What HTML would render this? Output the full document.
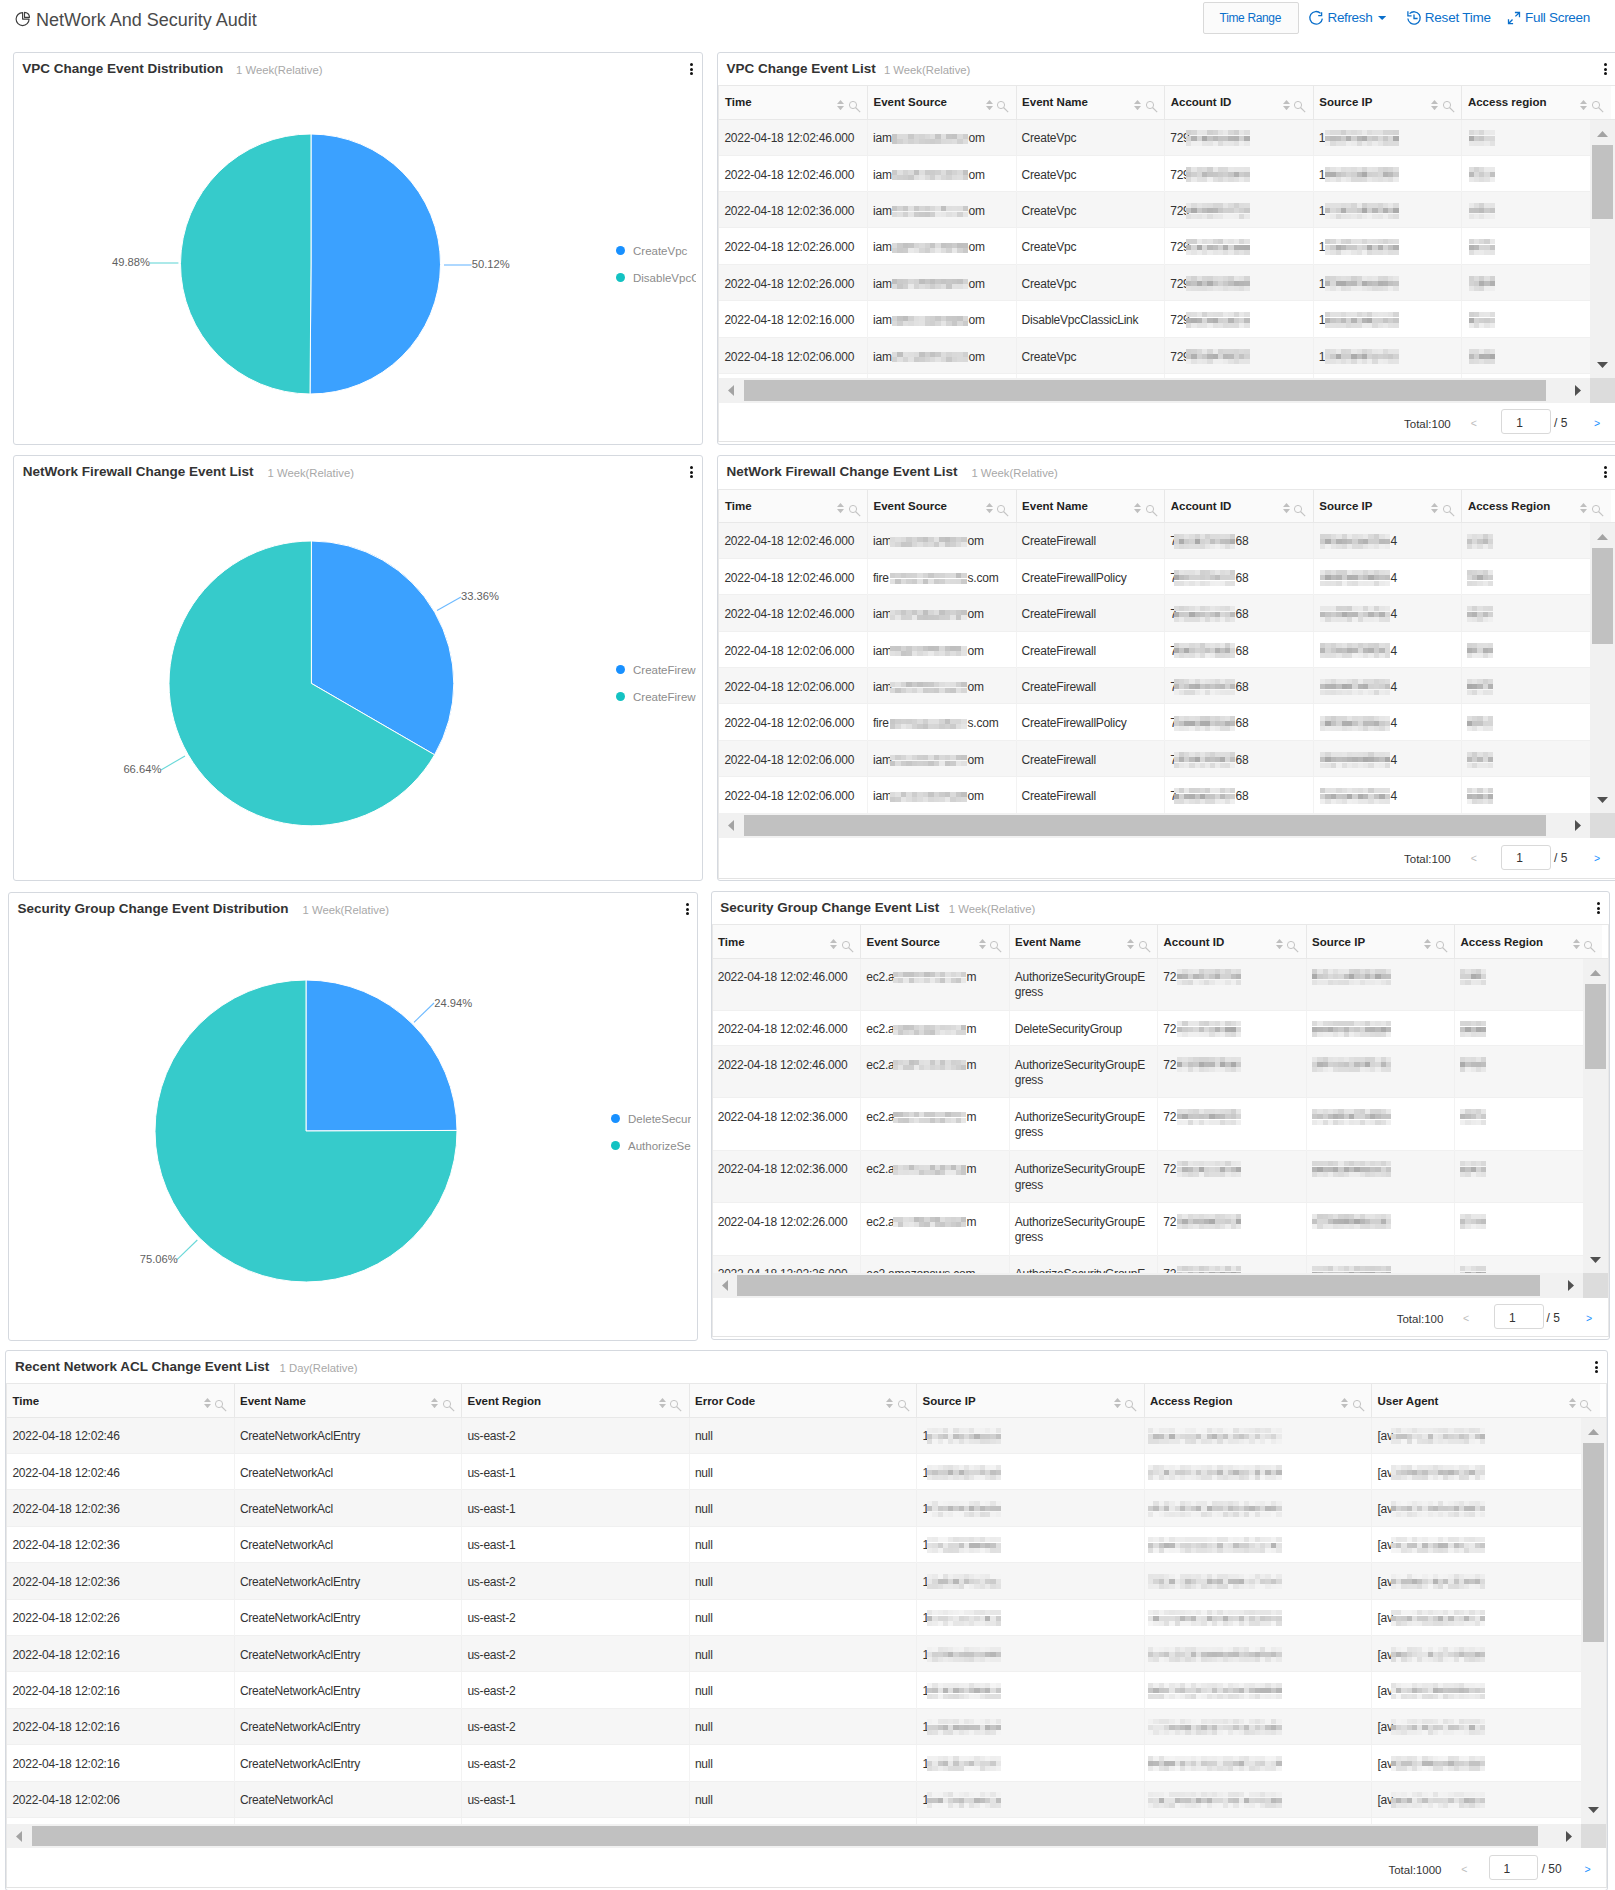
<!DOCTYPE html>
<html><head><meta charset="utf-8"><title>NetWork And Security Audit</title>
<style>
html,body{margin:0;padding:0;background:#fff}
body{width:1615px;height:1890px;overflow:hidden;position:relative;font-family:"Liberation Sans",sans-serif}
body div,body span,body svg{position:absolute}
span{white-space:nowrap}
.clip{overflow:hidden}
</style></head><body>
<svg style="left:12px;top:8px" width="22" height="22" viewBox="0 0 22 22"><path d="M10.6 4.6 L10.6 11.1 L17.1 11.1 A6.5 6.5 0 1 1 10.6 4.6 Z" fill="none" stroke="#3c3c3c" stroke-width="1.15" stroke-linejoin="round"/><path d="M12.5 4.3 L12.5 9.3 L17.5 9.3 A5 5 0 0 0 12.5 4.3 Z" fill="none" stroke="#3c3c3c" stroke-width="1.15" stroke-linejoin="round"/></svg>
<span style="left:36px;top:10px;font-size:18px;line-height:20px;color:#4a4a4a;">NetWork And Security Audit</span>
<div style="left:1203px;top:2px;width:96px;height:32px;border:1px solid #d9d9d9;border-radius:2px;background:#fbfbfb;box-sizing:border-box"></div>
<span style="left:1219.6px;top:8.3px;font-size:12px;line-height:20px;color:#0a6fcb;letter-spacing:-0.35px;">Time Range</span>
<svg style="left:1304px;top:6px" width="24" height="24" viewBox="0 0 24 24"><path d="M16.6 7.4 A6.3 6.3 0 1 0 18.35 12.6" fill="none" stroke="#0a6fcb" stroke-width="1.3"/><path d="M17.6 6.2 L17.6 9.7 L14.2 9.7" fill="none" stroke="#0a6fcb" stroke-width="1.3"/></svg>
<span style="left:1327.5px;top:7.8px;font-size:13.5px;line-height:20px;color:#0a6fcb;letter-spacing:-0.35px;">Refresh</span>
<svg style="left:1377.7px;top:15.9px" width="8.3" height="4"><polygon points="0,0 8.3,0 4.15,4" fill="#0a6fcb"/></svg>
<svg style="left:1402px;top:6px" width="24" height="24" viewBox="0 0 24 24"><path d="M5.85 12.55 A6.2 6.2 0 1 0 7.6 7.6" fill="none" stroke="#0a6fcb" stroke-width="1.3"/><path d="M5.9 5.3 L5.9 9.8 L9.6 9.8" fill="none" stroke="#0a6fcb" stroke-width="1.3"/><path d="M12 8.6 L12 12.5 L15.6 12.5" fill="none" stroke="#0a6fcb" stroke-width="1.3"/></svg>
<span style="left:1424.8px;top:8px;font-size:13.5px;line-height:20px;color:#0a6fcb;letter-spacing:-0.22px;">Reset Time</span>
<svg style="left:1502px;top:6px" width="24" height="24" viewBox="0 0 24 24"><path d="M12.9 6.5 L17.5 6.5 L17.5 11.3 M17.3 6.7 L13.4 10.4 M6.5 13.2 L6.5 17.7 L11.1 17.7 M6.7 17.5 L10.5 13.5" fill="none" stroke="#0a6fcb" stroke-width="1.3"/></svg>
<span style="left:1525px;top:8px;font-size:13.5px;line-height:20px;color:#0a6fcb;letter-spacing:-0.3px;">Full Screen</span>
<div style="left:13px;top:52px;width:690px;height:393px;border:1px solid #d5d9df;border-radius:3px;background:#fff;box-sizing:border-box"></div>
<span style="left:22.3px;top:59px;font-size:13.5px;line-height:20px;color:#333;font-weight:700;">VPC Change Event Distribution</span>
<span style="left:236px;top:60px;font-size:11.3px;line-height:20px;color:#a8a8a8;">1 Week(Relative)</span>
<div style="left:690.2px;top:63px;width:3px;height:3px;background:#111;border-radius:50%"></div>
<div style="left:690.2px;top:67.5px;width:3px;height:3px;background:#111;border-radius:50%"></div>
<div style="left:690.2px;top:72px;width:3px;height:3px;background:#111;border-radius:50%"></div>
<svg style="left:178.75px;top:131.9px" width="264" height="264"><path d="M132 132 L132 2 A130 130 0 1 1 131.02 262 Z" fill="#3ba1ff" stroke="#fff" stroke-width="1"/><path d="M132 132 L131.02 262 A130 130 0 0 1 132 2 Z" fill="#36cbcb" stroke="#fff" stroke-width="1"/></svg>
<svg style="left:147.6px;top:261.4px" width="32.4" height="4"><line x1="2" y1="2" x2="30.4" y2="2" stroke="#36cbcb" stroke-width="1.1" stroke-opacity="0.75"/></svg>
<span style="left:112px;top:252.4px;font-size:11.2px;line-height:20px;color:#5f5f5f;">49.88%</span>
<svg style="left:441.9px;top:262.6px" width="31.6" height="4"><line x1="2" y1="2" x2="29.6" y2="2" stroke="#3ba1ff" stroke-width="1.1" stroke-opacity="0.75"/></svg>
<span style="left:471.8px;top:253.6px;font-size:11.2px;line-height:20px;color:#5f5f5f;">50.12%</span>
<div style="left:616px;top:246px;width:9px;height:9px;background:#1890ff;border-radius:50%"></div>
<div style="left:616px;top:273px;width:9px;height:9px;background:#13c2c2;border-radius:50%"></div>
<div class="clip" style="left:630.5px;top:236.5px;width:65.5px;height:60px">
<span style="left:2.5px;top:4.3px;font-size:11.5px;line-height:20px;color:#8c8c8c;">CreateVpc</span>
<span style="left:2.5px;top:31.3px;font-size:11.5px;line-height:20px;color:#8c8c8c;">DisableVpcClassicLink</span>
</div>
<div style="left:13px;top:455px;width:690px;height:426px;border:1px solid #d5d9df;border-radius:3px;background:#fff;box-sizing:border-box"></div>
<span style="left:22.7px;top:462.2px;font-size:13.5px;line-height:20px;color:#333;font-weight:700;">NetWork Firewall Change Event List</span>
<span style="left:267.5px;top:463.2px;font-size:11.3px;line-height:20px;color:#a8a8a8;">1 Week(Relative)</span>
<div style="left:690.2px;top:466px;width:3px;height:3px;background:#111;border-radius:50%"></div>
<div style="left:690.2px;top:470.5px;width:3px;height:3px;background:#111;border-radius:50%"></div>
<div style="left:690.2px;top:475px;width:3px;height:3px;background:#111;border-radius:50%"></div>
<svg style="left:166.6px;top:538.9px" width="288.8" height="288.8"><path d="M144.4 144.4 L144.4 2 A142.4 142.4 0 0 1 267.6 215.81 Z" fill="#3ba1ff" stroke="#fff" stroke-width="1"/><path d="M144.4 144.4 L267.6 215.81 A142.4 142.4 0 1 1 144.4 2 Z" fill="#36cbcb" stroke="#fff" stroke-width="1"/></svg>
<svg style="left:434.7px;top:594.9px" width="28" height="17.6"><line x1="2" y1="15.6" x2="26" y2="2" stroke="#3ba1ff" stroke-width="1.1" stroke-opacity="0.75"/></svg>
<span style="left:461px;top:585.9px;font-size:11.2px;line-height:20px;color:#5f5f5f;">33.36%</span>
<svg style="left:158.8px;top:753.9px" width="28" height="17.9"><line x1="26" y1="2" x2="2" y2="15.9" stroke="#36cbcb" stroke-width="1.1" stroke-opacity="0.75"/></svg>
<span style="left:123.4px;top:758.8px;font-size:11.2px;line-height:20px;color:#5f5f5f;">66.64%</span>
<div style="left:616px;top:664.9px;width:9px;height:9px;background:#1890ff;border-radius:50%"></div>
<div style="left:616px;top:691.9px;width:9px;height:9px;background:#13c2c2;border-radius:50%"></div>
<div class="clip" style="left:630.5px;top:655.4px;width:65.5px;height:60px">
<span style="left:2.5px;top:4.3px;font-size:11.5px;line-height:20px;color:#8c8c8c;">CreateFirewall</span>
<span style="left:2.5px;top:31.3px;font-size:11.5px;line-height:20px;color:#8c8c8c;">CreateFirewallPolicy</span>
</div>
<div style="left:8px;top:892px;width:690px;height:449px;border:1px solid #d5d9df;border-radius:3px;background:#fff;box-sizing:border-box"></div>
<span style="left:17.6px;top:899.3px;font-size:13.5px;line-height:20px;color:#333;font-weight:700;">Security Group Change Event Distribution</span>
<span style="left:302.5px;top:900.3px;font-size:11.3px;line-height:20px;color:#a8a8a8;">1 Week(Relative)</span>
<div style="left:685.5px;top:903px;width:3px;height:3px;background:#111;border-radius:50%"></div>
<div style="left:685.5px;top:907.5px;width:3px;height:3px;background:#111;border-radius:50%"></div>
<div style="left:685.5px;top:912px;width:3px;height:3px;background:#111;border-radius:50%"></div>
<svg style="left:152.9px;top:978.2px" width="306" height="306"><path d="M153 153 L153 2 A151 151 0 0 1 304 152.43 Z" fill="#3ba1ff" stroke="#fff" stroke-width="1"/><path d="M153 153 L304 152.43 A151 151 0 1 1 153 2 Z" fill="#36cbcb" stroke="#fff" stroke-width="1"/></svg>
<svg style="left:412.2px;top:1001.1px" width="24" height="23.3"><line x1="2" y1="21.3" x2="22" y2="2" stroke="#3ba1ff" stroke-width="1.1" stroke-opacity="0.75"/></svg>
<span style="left:434.2px;top:992.8px;font-size:11.2px;line-height:20px;color:#5f5f5f;">24.94%</span>
<svg style="left:175.3px;top:1238.2px" width="24.3" height="23.6"><line x1="22.3" y1="2" x2="2" y2="21.6" stroke="#36cbcb" stroke-width="1.1" stroke-opacity="0.75"/></svg>
<span style="left:139.7px;top:1248.7px;font-size:11.2px;line-height:20px;color:#5f5f5f;">75.06%</span>
<div style="left:611px;top:1114px;width:9px;height:9px;background:#1890ff;border-radius:50%"></div>
<div style="left:611px;top:1141px;width:9px;height:9px;background:#13c2c2;border-radius:50%"></div>
<div class="clip" style="left:625.5px;top:1104.5px;width:65.5px;height:60px">
<span style="left:2.5px;top:4.3px;font-size:11.5px;line-height:20px;color:#8c8c8c;">DeleteSecurityGroup</span>
<span style="left:2.5px;top:31.3px;font-size:11.5px;line-height:20px;color:#8c8c8c;">AuthorizeSecurityGroupEgress</span>
</div>
<div style="left:717px;top:52px;width:901px;height:393px;border:1px solid #d5d9df;border-radius:3px;background:#fff;box-sizing:border-box"></div>
<span style="left:726.4px;top:59.2px;font-size:13.5px;line-height:20px;color:#333;font-weight:700;">VPC Change Event List</span>
<span style="left:883.9px;top:60.2px;font-size:11.3px;line-height:20px;color:#a8a8a8;">1 Week(Relative)</span>
<div style="left:1604px;top:63px;width:3px;height:3px;background:#111;border-radius:50%"></div>
<div style="left:1604px;top:67.5px;width:3px;height:3px;background:#111;border-radius:50%"></div>
<div style="left:1604px;top:72px;width:3px;height:3px;background:#111;border-radius:50%"></div>
<div style="left:718px;top:85px;width:898px;height:357px;border:1px solid #e8e8e8;border-bottom-color:#e3e3e3;box-sizing:border-box;background:#fff"></div>
<div style="left:719px;top:86px;width:892px;height:33px;background:#fafafa"></div>
<div style="left:719px;top:119px;width:896px;height:1px;background:#e8e8e8"></div>
<div style="left:867px;top:86px;width:1px;height:33px;background:#e8e8e8"></div>
<div style="left:1015.6px;top:86px;width:1px;height:33px;background:#e8e8e8"></div>
<div style="left:1164.2px;top:86px;width:1px;height:33px;background:#e8e8e8"></div>
<div style="left:1312.8px;top:86px;width:1px;height:33px;background:#e8e8e8"></div>
<div style="left:1461.4px;top:86px;width:1px;height:33px;background:#e8e8e8"></div>
<span style="left:724.9px;top:92.4px;font-size:11.5px;line-height:20px;color:#222;font-weight:700;">Time</span>
<svg style="left:837px;top:99.5px" width="7" height="4"><polygon points="3.5,0 7,4 0,4" fill="#bfbfbf"/></svg>
<svg style="left:837px;top:105.9px" width="7" height="4.2"><polygon points="0,0 7,0 3.5,4.2" fill="#bfbfbf"/></svg>
<svg style="left:847.5px;top:100.3px" width="14" height="14" viewBox="0 0 14 14"><circle cx="5" cy="5" r="3.6" fill="none" stroke="#c4c4c4" stroke-width="1"/><line x1="7.5" y1="7.5" x2="12.2" y2="12.2" stroke="#c4c4c4" stroke-width="1.1"/></svg>
<span style="left:873.5px;top:92.4px;font-size:11.5px;line-height:20px;color:#222;font-weight:700;">Event Source</span>
<svg style="left:985.6px;top:99.5px" width="7" height="4"><polygon points="3.5,0 7,4 0,4" fill="#bfbfbf"/></svg>
<svg style="left:985.6px;top:105.9px" width="7" height="4.2"><polygon points="0,0 7,0 3.5,4.2" fill="#bfbfbf"/></svg>
<svg style="left:996.1px;top:100.3px" width="14" height="14" viewBox="0 0 14 14"><circle cx="5" cy="5" r="3.6" fill="none" stroke="#c4c4c4" stroke-width="1"/><line x1="7.5" y1="7.5" x2="12.2" y2="12.2" stroke="#c4c4c4" stroke-width="1.1"/></svg>
<span style="left:1022.1px;top:92.4px;font-size:11.5px;line-height:20px;color:#222;font-weight:700;">Event Name</span>
<svg style="left:1134.2px;top:99.5px" width="7" height="4"><polygon points="3.5,0 7,4 0,4" fill="#bfbfbf"/></svg>
<svg style="left:1134.2px;top:105.9px" width="7" height="4.2"><polygon points="0,0 7,0 3.5,4.2" fill="#bfbfbf"/></svg>
<svg style="left:1144.7px;top:100.3px" width="14" height="14" viewBox="0 0 14 14"><circle cx="5" cy="5" r="3.6" fill="none" stroke="#c4c4c4" stroke-width="1"/><line x1="7.5" y1="7.5" x2="12.2" y2="12.2" stroke="#c4c4c4" stroke-width="1.1"/></svg>
<span style="left:1170.7px;top:92.4px;font-size:11.5px;line-height:20px;color:#222;font-weight:700;">Account ID</span>
<svg style="left:1282.8px;top:99.5px" width="7" height="4"><polygon points="3.5,0 7,4 0,4" fill="#bfbfbf"/></svg>
<svg style="left:1282.8px;top:105.9px" width="7" height="4.2"><polygon points="0,0 7,0 3.5,4.2" fill="#bfbfbf"/></svg>
<svg style="left:1293.3px;top:100.3px" width="14" height="14" viewBox="0 0 14 14"><circle cx="5" cy="5" r="3.6" fill="none" stroke="#c4c4c4" stroke-width="1"/><line x1="7.5" y1="7.5" x2="12.2" y2="12.2" stroke="#c4c4c4" stroke-width="1.1"/></svg>
<span style="left:1319.3px;top:92.4px;font-size:11.5px;line-height:20px;color:#222;font-weight:700;">Source IP</span>
<svg style="left:1431.4px;top:99.5px" width="7" height="4"><polygon points="3.5,0 7,4 0,4" fill="#bfbfbf"/></svg>
<svg style="left:1431.4px;top:105.9px" width="7" height="4.2"><polygon points="0,0 7,0 3.5,4.2" fill="#bfbfbf"/></svg>
<svg style="left:1441.9px;top:100.3px" width="14" height="14" viewBox="0 0 14 14"><circle cx="5" cy="5" r="3.6" fill="none" stroke="#c4c4c4" stroke-width="1"/><line x1="7.5" y1="7.5" x2="12.2" y2="12.2" stroke="#c4c4c4" stroke-width="1.1"/></svg>
<span style="left:1467.9px;top:92.4px;font-size:11.5px;line-height:20px;color:#222;font-weight:700;">Access region</span>
<svg style="left:1580px;top:99.5px" width="7" height="4"><polygon points="3.5,0 7,4 0,4" fill="#bfbfbf"/></svg>
<svg style="left:1580px;top:105.9px" width="7" height="4.2"><polygon points="0,0 7,0 3.5,4.2" fill="#bfbfbf"/></svg>
<svg style="left:1590.5px;top:100.3px" width="14" height="14" viewBox="0 0 14 14"><circle cx="5" cy="5" r="3.6" fill="none" stroke="#c4c4c4" stroke-width="1"/><line x1="7.5" y1="7.5" x2="12.2" y2="12.2" stroke="#c4c4c4" stroke-width="1.1"/></svg>
<div class="clip" style="left:719px;top:120px;width:896px;height:258.3px">
<div style="left:0px;top:-0.8px;width:897px;height:36.4px;background:#f6f6f6"></div>
<div style="left:0px;top:34.6px;width:897px;height:1px;background:#f0f0f0"></div>
<div style="left:148px;top:-0.8px;width:1px;height:36.4px;background:#f0f0f0"></div>
<div style="left:296.6px;top:-0.8px;width:1px;height:36.4px;background:#f0f0f0"></div>
<div style="left:445.2px;top:-0.8px;width:1px;height:36.4px;background:#f0f0f0"></div>
<div style="left:593.8px;top:-0.8px;width:1px;height:36.4px;background:#f0f0f0"></div>
<div style="left:742.4px;top:-0.8px;width:1px;height:36.4px;background:#f0f0f0"></div>
<span style="left:5.4px;top:8.2px;font-size:12px;line-height:20px;color:#333;letter-spacing:-0.22px;">2022-04-18 12:02:46.000</span>
<span style="left:154px;top:8.2px;font-size:12px;line-height:20px;color:#333;letter-spacing:-0.22px;">iam</span>
<div style="left:172.9px;top:13.6px;width:76.1px;height:10.6px;background:linear-gradient(90deg,#c7c7c7 0px 5.44px,#dbdbdb 5.44px 10.87px,#dbdbdb 10.87px 16.31px,#c9c9c9 16.31px 21.74px,#d7d7d7 21.74px 27.18px,#d4d4d4 27.18px 32.61px,#d9d9d9 32.61px 38.05px,#dedede 38.05px 43.49px,#c5c5c5 43.49px 48.92px,#e0e0e0 48.92px 54.36px,#c5c5c5 54.36px 59.79px,#c3c3c3 59.79px 65.23px,#dbdbdb 65.23px 70.66px,#cecece 70.66px 76.1px),linear-gradient(90deg,#c7c7c7 0px 5.44px,#d1d1d1 5.44px 10.87px,#d9d9d9 10.87px 16.31px,#d2d2d2 16.31px 21.74px,#d7d7d7 21.74px 27.18px,#d1d1d1 27.18px 32.61px,#cfcfcf 32.61px 38.05px,#cdcdcd 38.05px 43.49px,#d0d0d0 43.49px 48.92px,#dadada 48.92px 54.36px,#dbdbdb 54.36px 59.79px,#dedede 59.79px 65.23px,#d1d1d1 65.23px 70.66px,#dddddd 70.66px 76.1px);background-position:0 0px,0 5.3px;background-size:100% 5.3px,100% 5.3px;background-repeat:no-repeat"></div>
<span style="left:249.5px;top:8.2px;font-size:12px;line-height:20px;color:#333;letter-spacing:-0.22px;">om</span>
<span style="left:302.6px;top:8.2px;font-size:12px;line-height:20px;color:#333;letter-spacing:-0.22px;">CreateVpc</span>
<span style="left:451.2px;top:8.2px;font-size:12px;line-height:20px;color:#333;letter-spacing:-0.22px;">729</span>
<div style="left:467.3px;top:10.25px;width:63.7px;height:15.9px;background:linear-gradient(90deg,#d1d1d1 0px 5.31px,#d6d6d6 5.31px 10.62px,#e7e7e7 10.62px 15.93px,#e6e6e6 15.93px 21.23px,#d0d0d0 21.23px 26.54px,#d4d4d4 26.54px 31.85px,#e3e3e3 31.85px 37.16px,#e9e9e9 37.16px 42.47px,#d8d8d8 42.47px 47.78px,#d0d0d0 47.78px 53.08px,#e6e6e6 53.08px 58.39px,#dedede 58.39px 63.7px),linear-gradient(90deg,#d5d5d5 0px 5.31px,#b2b2b2 5.31px 10.62px,#d5d5d5 10.62px 15.93px,#a9a9a9 15.93px 21.23px,#c4c4c4 21.23px 26.54px,#b9b9b9 26.54px 31.85px,#c4c4c4 31.85px 37.16px,#c5c5c5 37.16px 42.47px,#b6b6b6 42.47px 47.78px,#b4b4b4 47.78px 53.08px,#d1d1d1 53.08px 58.39px,#afafaf 58.39px 63.7px),linear-gradient(90deg,#e3e3e3 0px 5.31px,#f0f0f0 5.31px 10.62px,#f0f0f0 10.62px 15.93px,#e6e6e6 15.93px 21.23px,#e5e5e5 21.23px 26.54px,#eeeeee 26.54px 31.85px,#dddddd 31.85px 37.16px,#e8e8e8 37.16px 42.47px,#e7e7e7 42.47px 47.78px,#e1e1e1 47.78px 53.08px,#efefef 53.08px 58.39px,#e9e9e9 58.39px 63.7px);background-position:0 0px,0 5.3px,0 10.6px;background-size:100% 5.3px,100% 5.3px,100% 5.3px;background-repeat:no-repeat"></div>
<span style="left:599.8px;top:8.2px;font-size:12px;line-height:20px;color:#333;letter-spacing:-0.22px;">1</span>
<div style="left:606.3px;top:10.25px;width:73.7px;height:15.9px;background:linear-gradient(90deg,#e3e3e3 0px 5.26px,#dbdbdb 5.26px 10.53px,#dbdbdb 10.53px 15.79px,#d0d0d0 15.79px 21.06px,#dfdfdf 21.06px 26.32px,#dbdbdb 26.32px 31.59px,#e0e0e0 31.59px 36.85px,#eaeaea 36.85px 42.11px,#dddddd 42.11px 47.38px,#e2e2e2 47.38px 52.64px,#e2e2e2 52.64px 57.91px,#d5d5d5 57.91px 63.17px,#d5d5d5 63.17px 68.44px,#d3d3d3 68.44px 73.7px),linear-gradient(90deg,#c3c3c3 0px 5.26px,#bdbdbd 5.26px 10.53px,#bfbfbf 10.53px 15.79px,#cccccc 15.79px 21.06px,#b0b0b0 21.06px 26.32px,#d0d0d0 26.32px 31.59px,#b7b7b7 31.59px 36.85px,#aeaeae 36.85px 42.11px,#cecece 42.11px 47.38px,#c8c8c8 47.38px 52.64px,#d9d9d9 52.64px 57.91px,#c8c8c8 57.91px 63.17px,#d9d9d9 63.17px 68.44px,#ababab 68.44px 73.7px),linear-gradient(90deg,#f0f0f0 0px 5.26px,#dcdcdc 5.26px 10.53px,#e3e3e3 10.53px 15.79px,#e3e3e3 15.79px 21.06px,#eeeeee 21.06px 26.32px,#ebebeb 26.32px 31.59px,#dcdcdc 31.59px 36.85px,#eaeaea 36.85px 42.11px,#e2e2e2 42.11px 47.38px,#ececec 47.38px 52.64px,#e5e5e5 52.64px 57.91px,#dadada 57.91px 63.17px,#dcdcdc 63.17px 68.44px,#dcdcdc 68.44px 73.7px);background-position:0 0px,0 5.3px,0 10.6px;background-size:100% 5.3px,100% 5.3px,100% 5.3px;background-repeat:no-repeat"></div>
<div style="left:750px;top:10.25px;width:25.7px;height:15.9px;background:linear-gradient(90deg,#d9d9d9 0px 5.14px,#e1e1e1 5.14px 10.28px,#d8d8d8 10.28px 15.42px,#e9e9e9 15.42px 20.56px,#eaeaea 20.56px 25.7px),linear-gradient(90deg,#adadad 0px 5.14px,#cccccc 5.14px 10.28px,#c7c7c7 10.28px 15.42px,#d9d9d9 15.42px 20.56px,#d9d9d9 20.56px 25.7px),linear-gradient(90deg,#e8e8e8 0px 5.14px,#e7e7e7 5.14px 10.28px,#e7e7e7 10.28px 15.42px,#ebebeb 15.42px 20.56px,#e2e2e2 20.56px 25.7px);background-position:0 0px,0 5.3px,0 10.6px;background-size:100% 5.3px,100% 5.3px,100% 5.3px;background-repeat:no-repeat"></div>
<div style="left:0px;top:35.6px;width:897px;height:36.4px;background:#fff"></div>
<div style="left:0px;top:71px;width:897px;height:1px;background:#f0f0f0"></div>
<div style="left:148px;top:35.6px;width:1px;height:36.4px;background:#f3f3f3"></div>
<div style="left:296.6px;top:35.6px;width:1px;height:36.4px;background:#f3f3f3"></div>
<div style="left:445.2px;top:35.6px;width:1px;height:36.4px;background:#f3f3f3"></div>
<div style="left:593.8px;top:35.6px;width:1px;height:36.4px;background:#f3f3f3"></div>
<div style="left:742.4px;top:35.6px;width:1px;height:36.4px;background:#f3f3f3"></div>
<span style="left:5.4px;top:44.6px;font-size:12px;line-height:20px;color:#333;letter-spacing:-0.22px;">2022-04-18 12:02:46.000</span>
<span style="left:154px;top:44.6px;font-size:12px;line-height:20px;color:#333;letter-spacing:-0.22px;">iam</span>
<div style="left:172.9px;top:50px;width:76.1px;height:10.6px;background:linear-gradient(90deg,#cacaca 0px 5.44px,#e0e0e0 5.44px 10.87px,#d4d4d4 10.87px 16.31px,#dbdbdb 16.31px 21.74px,#c1c1c1 21.74px 27.18px,#dedede 27.18px 32.61px,#cbcbcb 32.61px 38.05px,#cccccc 38.05px 43.49px,#d0d0d0 43.49px 48.92px,#dddddd 48.92px 54.36px,#cbcbcb 54.36px 59.79px,#d3d3d3 59.79px 65.23px,#dadada 65.23px 70.66px,#c2c2c2 70.66px 76.1px),linear-gradient(90deg,#d4d4d4 0px 5.44px,#d0d0d0 5.44px 10.87px,#cecece 10.87px 16.31px,#c9c9c9 16.31px 21.74px,#e0e0e0 21.74px 27.18px,#e6e6e6 27.18px 32.61px,#dbdbdb 32.61px 38.05px,#d0d0d0 38.05px 43.49px,#e2e2e2 43.49px 48.92px,#d8d8d8 48.92px 54.36px,#d3d3d3 54.36px 59.79px,#dddddd 59.79px 65.23px,#dfdfdf 65.23px 70.66px,#d1d1d1 70.66px 76.1px);background-position:0 0px,0 5.3px;background-size:100% 5.3px,100% 5.3px;background-repeat:no-repeat"></div>
<span style="left:249.5px;top:44.6px;font-size:12px;line-height:20px;color:#333;letter-spacing:-0.22px;">om</span>
<span style="left:302.6px;top:44.6px;font-size:12px;line-height:20px;color:#333;letter-spacing:-0.22px;">CreateVpc</span>
<span style="left:451.2px;top:44.6px;font-size:12px;line-height:20px;color:#333;letter-spacing:-0.22px;">729</span>
<div style="left:467.3px;top:46.65px;width:63.7px;height:15.9px;background:linear-gradient(90deg,#d2d2d2 0px 5.31px,#e6e6e6 5.31px 10.62px,#dadada 10.62px 15.93px,#dddddd 15.93px 21.23px,#d0d0d0 21.23px 26.54px,#e8e8e8 26.54px 31.85px,#d9d9d9 31.85px 37.16px,#dadada 37.16px 42.47px,#e8e8e8 42.47px 47.78px,#e6e6e6 47.78px 53.08px,#e6e6e6 53.08px 58.39px,#e5e5e5 58.39px 63.7px),linear-gradient(90deg,#c6c6c6 0px 5.31px,#cfcfcf 5.31px 10.62px,#d8d8d8 10.62px 15.93px,#b9b9b9 15.93px 21.23px,#c4c4c4 21.23px 26.54px,#c6c6c6 26.54px 31.85px,#cbcbcb 31.85px 37.16px,#cfcfcf 37.16px 42.47px,#c6c6c6 42.47px 47.78px,#b0b0b0 47.78px 53.08px,#cccccc 53.08px 58.39px,#c6c6c6 58.39px 63.7px),linear-gradient(90deg,#dbdbdb 0px 5.31px,#ebebeb 5.31px 10.62px,#e1e1e1 10.62px 15.93px,#e0e0e0 15.93px 21.23px,#f0f0f0 21.23px 26.54px,#e0e0e0 26.54px 31.85px,#dadada 31.85px 37.16px,#e3e3e3 37.16px 42.47px,#dddddd 42.47px 47.78px,#e1e1e1 47.78px 53.08px,#ebebeb 53.08px 58.39px,#e2e2e2 58.39px 63.7px);background-position:0 0px,0 5.3px,0 10.6px;background-size:100% 5.3px,100% 5.3px,100% 5.3px;background-repeat:no-repeat"></div>
<span style="left:599.8px;top:44.6px;font-size:12px;line-height:20px;color:#333;letter-spacing:-0.22px;">1</span>
<div style="left:606.3px;top:46.65px;width:73.7px;height:15.9px;background:linear-gradient(90deg,#dcdcdc 0px 5.26px,#e4e4e4 5.26px 10.53px,#e9e9e9 10.53px 15.79px,#dfdfdf 15.79px 21.06px,#e1e1e1 21.06px 26.32px,#dedede 26.32px 31.59px,#e4e4e4 31.59px 36.85px,#d7d7d7 36.85px 42.11px,#e5e5e5 42.11px 47.38px,#e3e3e3 47.38px 52.64px,#d8d8d8 52.64px 57.91px,#d3d3d3 57.91px 63.17px,#d7d7d7 63.17px 68.44px,#e0e0e0 68.44px 73.7px),linear-gradient(90deg,#b0b0b0 0px 5.26px,#aeaeae 5.26px 10.53px,#c4c4c4 10.53px 15.79px,#cbcbcb 15.79px 21.06px,#d5d5d5 21.06px 26.32px,#d0d0d0 26.32px 31.59px,#bbbbbb 31.59px 36.85px,#aaaaaa 36.85px 42.11px,#d0d0d0 42.11px 47.38px,#d2d2d2 47.38px 52.64px,#d7d7d7 52.64px 57.91px,#b3b3b3 57.91px 63.17px,#bababa 63.17px 68.44px,#cbcbcb 68.44px 73.7px),linear-gradient(90deg,#e4e4e4 0px 5.26px,#e9e9e9 5.26px 10.53px,#e1e1e1 10.53px 15.79px,#ededed 15.79px 21.06px,#e8e8e8 21.06px 26.32px,#dadada 26.32px 31.59px,#dadada 31.59px 36.85px,#dcdcdc 36.85px 42.11px,#e8e8e8 42.11px 47.38px,#e3e3e3 47.38px 52.64px,#e0e0e0 52.64px 57.91px,#e4e4e4 57.91px 63.17px,#dfdfdf 63.17px 68.44px,#ececec 68.44px 73.7px);background-position:0 0px,0 5.3px,0 10.6px;background-size:100% 5.3px,100% 5.3px,100% 5.3px;background-repeat:no-repeat"></div>
<div style="left:750px;top:46.65px;width:25.7px;height:15.9px;background:linear-gradient(90deg,#dfdfdf 0px 5.14px,#d3d3d3 5.14px 10.28px,#dddddd 10.28px 15.42px,#eaeaea 15.42px 20.56px,#eaeaea 20.56px 25.7px),linear-gradient(90deg,#b9b9b9 0px 5.14px,#dadada 5.14px 10.28px,#cccccc 10.28px 15.42px,#dadada 15.42px 20.56px,#c1c1c1 20.56px 25.7px),linear-gradient(90deg,#e9e9e9 0px 5.14px,#e4e4e4 5.14px 10.28px,#dfdfdf 10.28px 15.42px,#e3e3e3 15.42px 20.56px,#efefef 20.56px 25.7px);background-position:0 0px,0 5.3px,0 10.6px;background-size:100% 5.3px,100% 5.3px,100% 5.3px;background-repeat:no-repeat"></div>
<div style="left:0px;top:72px;width:897px;height:36.4px;background:#f6f6f6"></div>
<div style="left:0px;top:107.4px;width:897px;height:1px;background:#f0f0f0"></div>
<div style="left:148px;top:72px;width:1px;height:36.4px;background:#f0f0f0"></div>
<div style="left:296.6px;top:72px;width:1px;height:36.4px;background:#f0f0f0"></div>
<div style="left:445.2px;top:72px;width:1px;height:36.4px;background:#f0f0f0"></div>
<div style="left:593.8px;top:72px;width:1px;height:36.4px;background:#f0f0f0"></div>
<div style="left:742.4px;top:72px;width:1px;height:36.4px;background:#f0f0f0"></div>
<span style="left:5.4px;top:81px;font-size:12px;line-height:20px;color:#333;letter-spacing:-0.22px;">2022-04-18 12:02:36.000</span>
<span style="left:154px;top:81px;font-size:12px;line-height:20px;color:#333;letter-spacing:-0.22px;">iam</span>
<div style="left:172.9px;top:86.4px;width:76.1px;height:10.6px;background:linear-gradient(90deg,#c7c7c7 0px 5.44px,#d4d4d4 5.44px 10.87px,#c8c8c8 10.87px 16.31px,#e1e1e1 16.31px 21.74px,#c9c9c9 21.74px 27.18px,#d6d6d6 27.18px 32.61px,#d0d0d0 32.61px 38.05px,#d9d9d9 38.05px 43.49px,#e2e2e2 43.49px 48.92px,#c0c0c0 48.92px 54.36px,#dfdfdf 54.36px 59.79px,#e0e0e0 59.79px 65.23px,#dfdfdf 65.23px 70.66px,#c9c9c9 70.66px 76.1px),linear-gradient(90deg,#dcdcdc 0px 5.44px,#e0e0e0 5.44px 10.87px,#d2d2d2 10.87px 16.31px,#e4e4e4 16.31px 21.74px,#cccccc 21.74px 27.18px,#c9c9c9 27.18px 32.61px,#c7c7c7 32.61px 38.05px,#cfcfcf 38.05px 43.49px,#eaeaea 43.49px 48.92px,#e8e8e8 48.92px 54.36px,#e0e0e0 54.36px 59.79px,#e4e4e4 59.79px 65.23px,#d2d2d2 65.23px 70.66px,#e5e5e5 70.66px 76.1px);background-position:0 0px,0 5.3px;background-size:100% 5.3px,100% 5.3px;background-repeat:no-repeat"></div>
<span style="left:249.5px;top:81px;font-size:12px;line-height:20px;color:#333;letter-spacing:-0.22px;">om</span>
<span style="left:302.6px;top:81px;font-size:12px;line-height:20px;color:#333;letter-spacing:-0.22px;">CreateVpc</span>
<span style="left:451.2px;top:81px;font-size:12px;line-height:20px;color:#333;letter-spacing:-0.22px;">729</span>
<div style="left:467.3px;top:83.05px;width:63.7px;height:15.9px;background:linear-gradient(90deg,#e8e8e8 0px 5.31px,#dcdcdc 5.31px 10.62px,#e4e4e4 10.62px 15.93px,#dfdfdf 15.93px 21.23px,#dddddd 21.23px 26.54px,#d6d6d6 26.54px 31.85px,#d6d6d6 31.85px 37.16px,#e5e5e5 37.16px 42.47px,#dcdcdc 42.47px 47.78px,#d1d1d1 47.78px 53.08px,#dddddd 53.08px 58.39px,#dedede 58.39px 63.7px),linear-gradient(90deg,#c4c4c4 0px 5.31px,#aaaaaa 5.31px 10.62px,#c9c9c9 10.62px 15.93px,#bcbcbc 15.93px 21.23px,#b4b4b4 21.23px 26.54px,#b7b7b7 26.54px 31.85px,#c7c7c7 31.85px 37.16px,#d0d0d0 37.16px 42.47px,#cfcfcf 42.47px 47.78px,#d8d8d8 47.78px 53.08px,#d1d1d1 53.08px 58.39px,#c9c9c9 58.39px 63.7px),linear-gradient(90deg,#e0e0e0 0px 5.31px,#e6e6e6 5.31px 10.62px,#e4e4e4 10.62px 15.93px,#e9e9e9 15.93px 21.23px,#dedede 21.23px 26.54px,#e7e7e7 26.54px 31.85px,#e8e8e8 31.85px 37.16px,#f0f0f0 37.16px 42.47px,#f0f0f0 42.47px 47.78px,#efefef 47.78px 53.08px,#dbdbdb 53.08px 58.39px,#eaeaea 58.39px 63.7px);background-position:0 0px,0 5.3px,0 10.6px;background-size:100% 5.3px,100% 5.3px,100% 5.3px;background-repeat:no-repeat"></div>
<span style="left:599.8px;top:81px;font-size:12px;line-height:20px;color:#333;letter-spacing:-0.22px;">1</span>
<div style="left:606.3px;top:83.05px;width:73.7px;height:15.9px;background:linear-gradient(90deg,#e1e1e1 0px 5.26px,#e1e1e1 5.26px 10.53px,#e1e1e1 10.53px 15.79px,#dddddd 15.79px 21.06px,#dfdfdf 21.06px 26.32px,#d6d6d6 26.32px 31.59px,#eaeaea 31.59px 36.85px,#d1d1d1 36.85px 42.11px,#dcdcdc 42.11px 47.38px,#dcdcdc 47.38px 52.64px,#d6d6d6 52.64px 57.91px,#e0e0e0 57.91px 63.17px,#e8e8e8 63.17px 68.44px,#dcdcdc 68.44px 73.7px),linear-gradient(90deg,#bdbdbd 0px 5.26px,#d9d9d9 5.26px 10.53px,#d1d1d1 10.53px 15.79px,#afafaf 15.79px 21.06px,#d2d2d2 21.06px 26.32px,#d2d2d2 26.32px 31.59px,#cacaca 31.59px 36.85px,#a9a9a9 36.85px 42.11px,#d0d0d0 42.11px 47.38px,#b6b6b6 47.38px 52.64px,#cdcdcd 52.64px 57.91px,#b0b0b0 57.91px 63.17px,#c8c8c8 63.17px 68.44px,#ababab 68.44px 73.7px),linear-gradient(90deg,#efefef 0px 5.26px,#ebebeb 5.26px 10.53px,#dcdcdc 10.53px 15.79px,#e5e5e5 15.79px 21.06px,#e6e6e6 21.06px 26.32px,#e9e9e9 26.32px 31.59px,#e3e3e3 31.59px 36.85px,#ebebeb 36.85px 42.11px,#f0f0f0 42.11px 47.38px,#e8e8e8 47.38px 52.64px,#e6e6e6 52.64px 57.91px,#eeeeee 57.91px 63.17px,#e3e3e3 63.17px 68.44px,#dedede 68.44px 73.7px);background-position:0 0px,0 5.3px,0 10.6px;background-size:100% 5.3px,100% 5.3px,100% 5.3px;background-repeat:no-repeat"></div>
<div style="left:750px;top:83.05px;width:25.7px;height:15.9px;background:linear-gradient(90deg,#eaeaea 0px 5.14px,#dfdfdf 5.14px 10.28px,#d3d3d3 10.28px 15.42px,#e6e6e6 15.42px 20.56px,#e4e4e4 20.56px 25.7px),linear-gradient(90deg,#c2c2c2 0px 5.14px,#c1c1c1 5.14px 10.28px,#bbbbbb 10.28px 15.42px,#cbcbcb 15.42px 20.56px,#c5c5c5 20.56px 25.7px),linear-gradient(90deg,#e7e7e7 0px 5.14px,#ececec 5.14px 10.28px,#e6e6e6 10.28px 15.42px,#eeeeee 15.42px 20.56px,#efefef 20.56px 25.7px);background-position:0 0px,0 5.3px,0 10.6px;background-size:100% 5.3px,100% 5.3px,100% 5.3px;background-repeat:no-repeat"></div>
<div style="left:0px;top:108.4px;width:897px;height:36.4px;background:#fff"></div>
<div style="left:0px;top:143.8px;width:897px;height:1px;background:#f0f0f0"></div>
<div style="left:148px;top:108.4px;width:1px;height:36.4px;background:#f3f3f3"></div>
<div style="left:296.6px;top:108.4px;width:1px;height:36.4px;background:#f3f3f3"></div>
<div style="left:445.2px;top:108.4px;width:1px;height:36.4px;background:#f3f3f3"></div>
<div style="left:593.8px;top:108.4px;width:1px;height:36.4px;background:#f3f3f3"></div>
<div style="left:742.4px;top:108.4px;width:1px;height:36.4px;background:#f3f3f3"></div>
<span style="left:5.4px;top:117.4px;font-size:12px;line-height:20px;color:#333;letter-spacing:-0.22px;">2022-04-18 12:02:26.000</span>
<span style="left:154px;top:117.4px;font-size:12px;line-height:20px;color:#333;letter-spacing:-0.22px;">iam</span>
<div style="left:172.9px;top:122.8px;width:76.1px;height:10.6px;background:linear-gradient(90deg,#dbdbdb 0px 5.44px,#cbcbcb 5.44px 10.87px,#c2c2c2 10.87px 16.31px,#c5c5c5 16.31px 21.74px,#d6d6d6 21.74px 27.18px,#dbdbdb 27.18px 32.61px,#d3d3d3 32.61px 38.05px,#c5c5c5 38.05px 43.49px,#dddddd 43.49px 48.92px,#c3c3c3 48.92px 54.36px,#c6c6c6 54.36px 59.79px,#cccccc 59.79px 65.23px,#bfbfbf 65.23px 70.66px,#c0c0c0 70.66px 76.1px),linear-gradient(90deg,#d2d2d2 0px 5.44px,#cacaca 5.44px 10.87px,#cccccc 10.87px 16.31px,#eaeaea 16.31px 21.74px,#e5e5e5 21.74px 27.18px,#d6d6d6 27.18px 32.61px,#cfcfcf 32.61px 38.05px,#dedede 38.05px 43.49px,#e9e9e9 43.49px 48.92px,#dedede 48.92px 54.36px,#d2d2d2 54.36px 59.79px,#e8e8e8 59.79px 65.23px,#d3d3d3 65.23px 70.66px,#c9c9c9 70.66px 76.1px);background-position:0 0px,0 5.3px;background-size:100% 5.3px,100% 5.3px;background-repeat:no-repeat"></div>
<span style="left:249.5px;top:117.4px;font-size:12px;line-height:20px;color:#333;letter-spacing:-0.22px;">om</span>
<span style="left:302.6px;top:117.4px;font-size:12px;line-height:20px;color:#333;letter-spacing:-0.22px;">CreateVpc</span>
<span style="left:451.2px;top:117.4px;font-size:12px;line-height:20px;color:#333;letter-spacing:-0.22px;">729</span>
<div style="left:467.3px;top:119.45px;width:63.7px;height:15.9px;background:linear-gradient(90deg,#d2d2d2 0px 5.31px,#d1d1d1 5.31px 10.62px,#eaeaea 10.62px 15.93px,#dfdfdf 15.93px 21.23px,#e3e3e3 21.23px 26.54px,#d6d6d6 26.54px 31.85px,#d0d0d0 31.85px 37.16px,#e8e8e8 37.16px 42.47px,#e3e3e3 42.47px 47.78px,#eaeaea 47.78px 53.08px,#d8d8d8 53.08px 58.39px,#e3e3e3 58.39px 63.7px),linear-gradient(90deg,#b7b7b7 0px 5.31px,#d6d6d6 5.31px 10.62px,#a9a9a9 10.62px 15.93px,#d9d9d9 15.93px 21.23px,#b7b7b7 21.23px 26.54px,#bebebe 26.54px 31.85px,#d1d1d1 31.85px 37.16px,#aeaeae 37.16px 42.47px,#d7d7d7 42.47px 47.78px,#b0b0b0 47.78px 53.08px,#afafaf 53.08px 58.39px,#aeaeae 58.39px 63.7px),linear-gradient(90deg,#ebebeb 0px 5.31px,#e5e5e5 5.31px 10.62px,#ececec 10.62px 15.93px,#e2e2e2 15.93px 21.23px,#ececec 21.23px 26.54px,#e6e6e6 26.54px 31.85px,#e8e8e8 31.85px 37.16px,#e0e0e0 37.16px 42.47px,#e9e9e9 42.47px 47.78px,#dddddd 47.78px 53.08px,#e3e3e3 53.08px 58.39px,#dcdcdc 58.39px 63.7px);background-position:0 0px,0 5.3px,0 10.6px;background-size:100% 5.3px,100% 5.3px,100% 5.3px;background-repeat:no-repeat"></div>
<span style="left:599.8px;top:117.4px;font-size:12px;line-height:20px;color:#333;letter-spacing:-0.22px;">1</span>
<div style="left:606.3px;top:119.45px;width:73.7px;height:15.9px;background:linear-gradient(90deg,#d1d1d1 0px 5.26px,#d7d7d7 5.26px 10.53px,#e7e7e7 10.53px 15.79px,#d6d6d6 15.79px 21.06px,#d2d2d2 21.06px 26.32px,#e2e2e2 26.32px 31.59px,#e3e3e3 31.59px 36.85px,#d8d8d8 36.85px 42.11px,#e2e2e2 42.11px 47.38px,#e0e0e0 47.38px 52.64px,#dcdcdc 52.64px 57.91px,#d5d5d5 57.91px 63.17px,#dddddd 63.17px 68.44px,#dfdfdf 68.44px 73.7px),linear-gradient(90deg,#dadada 0px 5.26px,#cdcdcd 5.26px 10.53px,#adadad 10.53px 15.79px,#b8b8b8 15.79px 21.06px,#c9c9c9 21.06px 26.32px,#cacaca 26.32px 31.59px,#d9d9d9 31.59px 36.85px,#d3d3d3 36.85px 42.11px,#aaaaaa 42.11px 47.38px,#cecece 47.38px 52.64px,#afafaf 52.64px 57.91px,#d4d4d4 57.91px 63.17px,#c1c1c1 63.17px 68.44px,#b0b0b0 68.44px 73.7px),linear-gradient(90deg,#e9e9e9 0px 5.26px,#e3e3e3 5.26px 10.53px,#dadada 10.53px 15.79px,#ededed 15.79px 21.06px,#efefef 21.06px 26.32px,#e7e7e7 26.32px 31.59px,#e2e2e2 31.59px 36.85px,#f0f0f0 36.85px 42.11px,#dbdbdb 42.11px 47.38px,#e1e1e1 47.38px 52.64px,#e0e0e0 52.64px 57.91px,#e4e4e4 57.91px 63.17px,#dedede 63.17px 68.44px,#dfdfdf 68.44px 73.7px);background-position:0 0px,0 5.3px,0 10.6px;background-size:100% 5.3px,100% 5.3px,100% 5.3px;background-repeat:no-repeat"></div>
<div style="left:750px;top:119.45px;width:25.7px;height:15.9px;background:linear-gradient(90deg,#d7d7d7 0px 5.14px,#e3e3e3 5.14px 10.28px,#dadada 10.28px 15.42px,#d1d1d1 15.42px 20.56px,#e9e9e9 20.56px 25.7px),linear-gradient(90deg,#b2b2b2 0px 5.14px,#b9b9b9 5.14px 10.28px,#d6d6d6 10.28px 15.42px,#d5d5d5 15.42px 20.56px,#c6c6c6 20.56px 25.7px),linear-gradient(90deg,#dedede 0px 5.14px,#eaeaea 5.14px 10.28px,#ebebeb 10.28px 15.42px,#e6e6e6 15.42px 20.56px,#e5e5e5 20.56px 25.7px);background-position:0 0px,0 5.3px,0 10.6px;background-size:100% 5.3px,100% 5.3px,100% 5.3px;background-repeat:no-repeat"></div>
<div style="left:0px;top:144.8px;width:897px;height:36.4px;background:#f6f6f6"></div>
<div style="left:0px;top:180.2px;width:897px;height:1px;background:#f0f0f0"></div>
<div style="left:148px;top:144.8px;width:1px;height:36.4px;background:#f0f0f0"></div>
<div style="left:296.6px;top:144.8px;width:1px;height:36.4px;background:#f0f0f0"></div>
<div style="left:445.2px;top:144.8px;width:1px;height:36.4px;background:#f0f0f0"></div>
<div style="left:593.8px;top:144.8px;width:1px;height:36.4px;background:#f0f0f0"></div>
<div style="left:742.4px;top:144.8px;width:1px;height:36.4px;background:#f0f0f0"></div>
<span style="left:5.4px;top:153.8px;font-size:12px;line-height:20px;color:#333;letter-spacing:-0.22px;">2022-04-18 12:02:26.000</span>
<span style="left:154px;top:153.8px;font-size:12px;line-height:20px;color:#333;letter-spacing:-0.22px;">iam</span>
<div style="left:172.9px;top:159.2px;width:76.1px;height:10.6px;background:linear-gradient(90deg,#bfbfbf 0px 5.44px,#cacaca 5.44px 10.87px,#cccccc 10.87px 16.31px,#d7d7d7 16.31px 21.74px,#d3d3d3 21.74px 27.18px,#bebebe 27.18px 32.61px,#c6c6c6 32.61px 38.05px,#bfbfbf 38.05px 43.49px,#c8c8c8 43.49px 48.92px,#c4c4c4 48.92px 54.36px,#c7c7c7 54.36px 59.79px,#c5c5c5 59.79px 65.23px,#c2c2c2 65.23px 70.66px,#d3d3d3 70.66px 76.1px),linear-gradient(90deg,#dbdbdb 0px 5.44px,#c7c7c7 5.44px 10.87px,#d0d0d0 10.87px 16.31px,#e9e9e9 16.31px 21.74px,#d4d4d4 21.74px 27.18px,#dddddd 27.18px 32.61px,#d8d8d8 32.61px 38.05px,#cecece 38.05px 43.49px,#d7d7d7 43.49px 48.92px,#dedede 48.92px 54.36px,#c6c6c6 54.36px 59.79px,#e1e1e1 59.79px 65.23px,#e0e0e0 65.23px 70.66px,#e6e6e6 70.66px 76.1px);background-position:0 0px,0 5.3px;background-size:100% 5.3px,100% 5.3px;background-repeat:no-repeat"></div>
<span style="left:249.5px;top:153.8px;font-size:12px;line-height:20px;color:#333;letter-spacing:-0.22px;">om</span>
<span style="left:302.6px;top:153.8px;font-size:12px;line-height:20px;color:#333;letter-spacing:-0.22px;">CreateVpc</span>
<span style="left:451.2px;top:153.8px;font-size:12px;line-height:20px;color:#333;letter-spacing:-0.22px;">729</span>
<div style="left:467.3px;top:155.85px;width:63.7px;height:15.9px;background:linear-gradient(90deg,#dcdcdc 0px 5.31px,#d2d2d2 5.31px 10.62px,#e2e2e2 10.62px 15.93px,#d6d6d6 15.93px 21.23px,#d4d4d4 21.23px 26.54px,#dddddd 26.54px 31.85px,#dfdfdf 31.85px 37.16px,#dadada 37.16px 42.47px,#d3d3d3 42.47px 47.78px,#e6e6e6 47.78px 53.08px,#e2e2e2 53.08px 58.39px,#d5d5d5 58.39px 63.7px),linear-gradient(90deg,#bcbcbc 0px 5.31px,#c2c2c2 5.31px 10.62px,#acacac 10.62px 15.93px,#c4c4c4 15.93px 21.23px,#acacac 21.23px 26.54px,#c5c5c5 26.54px 31.85px,#d3d3d3 31.85px 37.16px,#c9c9c9 37.16px 42.47px,#bebebe 42.47px 47.78px,#b1b1b1 47.78px 53.08px,#b4b4b4 53.08px 58.39px,#b6b6b6 58.39px 63.7px),linear-gradient(90deg,#e3e3e3 0px 5.31px,#e1e1e1 5.31px 10.62px,#e0e0e0 10.62px 15.93px,#dfdfdf 15.93px 21.23px,#e3e3e3 21.23px 26.54px,#e8e8e8 26.54px 31.85px,#e6e6e6 31.85px 37.16px,#e0e0e0 37.16px 42.47px,#e4e4e4 42.47px 47.78px,#e2e2e2 47.78px 53.08px,#dedede 53.08px 58.39px,#e6e6e6 58.39px 63.7px);background-position:0 0px,0 5.3px,0 10.6px;background-size:100% 5.3px,100% 5.3px,100% 5.3px;background-repeat:no-repeat"></div>
<span style="left:599.8px;top:153.8px;font-size:12px;line-height:20px;color:#333;letter-spacing:-0.22px;">1</span>
<div style="left:606.3px;top:155.85px;width:73.7px;height:15.9px;background:linear-gradient(90deg,#d4d4d4 0px 5.26px,#d6d6d6 5.26px 10.53px,#dddddd 10.53px 15.79px,#e0e0e0 15.79px 21.06px,#dedede 21.06px 26.32px,#d1d1d1 26.32px 31.59px,#d7d7d7 31.59px 36.85px,#e9e9e9 36.85px 42.11px,#e5e5e5 42.11px 47.38px,#e7e7e7 47.38px 52.64px,#d9d9d9 52.64px 57.91px,#d7d7d7 57.91px 63.17px,#e2e2e2 63.17px 68.44px,#e7e7e7 68.44px 73.7px),linear-gradient(90deg,#b6b6b6 0px 5.26px,#d8d8d8 5.26px 10.53px,#ababab 10.53px 15.79px,#ababab 15.79px 21.06px,#bababa 21.06px 26.32px,#b8b8b8 26.32px 31.59px,#d3d3d3 31.59px 36.85px,#adadad 36.85px 42.11px,#bbbbbb 42.11px 47.38px,#c0c0c0 47.38px 52.64px,#b0b0b0 52.64px 57.91px,#b3b3b3 57.91px 63.17px,#c0c0c0 63.17px 68.44px,#c5c5c5 68.44px 73.7px),linear-gradient(90deg,#ececec 0px 5.26px,#e5e5e5 5.26px 10.53px,#ededed 10.53px 15.79px,#e0e0e0 15.79px 21.06px,#e3e3e3 21.06px 26.32px,#ececec 26.32px 31.59px,#ededed 31.59px 36.85px,#e8e8e8 36.85px 42.11px,#e4e4e4 42.11px 47.38px,#dddddd 47.38px 52.64px,#dfdfdf 52.64px 57.91px,#e2e2e2 57.91px 63.17px,#ededed 63.17px 68.44px,#e4e4e4 68.44px 73.7px);background-position:0 0px,0 5.3px,0 10.6px;background-size:100% 5.3px,100% 5.3px,100% 5.3px;background-repeat:no-repeat"></div>
<div style="left:750px;top:155.85px;width:25.7px;height:15.9px;background:linear-gradient(90deg,#d2d2d2 0px 5.14px,#dcdcdc 5.14px 10.28px,#d0d0d0 10.28px 15.42px,#e0e0e0 15.42px 20.56px,#d2d2d2 20.56px 25.7px),linear-gradient(90deg,#d3d3d3 0px 5.14px,#cecece 5.14px 10.28px,#aeaeae 10.28px 15.42px,#bdbdbd 15.42px 20.56px,#b0b0b0 20.56px 25.7px),linear-gradient(90deg,#e6e6e6 0px 5.14px,#dddddd 5.14px 10.28px,#dadada 10.28px 15.42px,#eeeeee 15.42px 20.56px,#efefef 20.56px 25.7px);background-position:0 0px,0 5.3px,0 10.6px;background-size:100% 5.3px,100% 5.3px,100% 5.3px;background-repeat:no-repeat"></div>
<div style="left:0px;top:181.2px;width:897px;height:36.4px;background:#fff"></div>
<div style="left:0px;top:216.6px;width:897px;height:1px;background:#f0f0f0"></div>
<div style="left:148px;top:181.2px;width:1px;height:36.4px;background:#f3f3f3"></div>
<div style="left:296.6px;top:181.2px;width:1px;height:36.4px;background:#f3f3f3"></div>
<div style="left:445.2px;top:181.2px;width:1px;height:36.4px;background:#f3f3f3"></div>
<div style="left:593.8px;top:181.2px;width:1px;height:36.4px;background:#f3f3f3"></div>
<div style="left:742.4px;top:181.2px;width:1px;height:36.4px;background:#f3f3f3"></div>
<span style="left:5.4px;top:190.2px;font-size:12px;line-height:20px;color:#333;letter-spacing:-0.22px;">2022-04-18 12:02:16.000</span>
<span style="left:154px;top:190.2px;font-size:12px;line-height:20px;color:#333;letter-spacing:-0.22px;">iam</span>
<div style="left:172.9px;top:195.6px;width:76.1px;height:10.6px;background:linear-gradient(90deg,#d4d4d4 0px 5.44px,#c4c4c4 5.44px 10.87px,#bebebe 10.87px 16.31px,#d1d1d1 16.31px 21.74px,#dfdfdf 21.74px 27.18px,#e2e2e2 27.18px 32.61px,#d3d3d3 32.61px 38.05px,#d0d0d0 38.05px 43.49px,#c8c8c8 43.49px 48.92px,#d4d4d4 48.92px 54.36px,#c8c8c8 54.36px 59.79px,#c7c7c7 59.79px 65.23px,#c4c4c4 65.23px 70.66px,#d7d7d7 70.66px 76.1px),linear-gradient(90deg,#dadada 0px 5.44px,#cecece 5.44px 10.87px,#dfdfdf 10.87px 16.31px,#dcdcdc 16.31px 21.74px,#e1e1e1 21.74px 27.18px,#e3e3e3 27.18px 32.61px,#d2d2d2 32.61px 38.05px,#cfcfcf 38.05px 43.49px,#d7d7d7 43.49px 48.92px,#e5e5e5 48.92px 54.36px,#d4d4d4 54.36px 59.79px,#c7c7c7 59.79px 65.23px,#d8d8d8 65.23px 70.66px,#cbcbcb 70.66px 76.1px);background-position:0 0px,0 5.3px;background-size:100% 5.3px,100% 5.3px;background-repeat:no-repeat"></div>
<span style="left:249.5px;top:190.2px;font-size:12px;line-height:20px;color:#333;letter-spacing:-0.22px;">om</span>
<span style="left:302.6px;top:190.2px;font-size:12px;line-height:20px;color:#333;letter-spacing:-0.22px;">DisableVpcClassicLink</span>
<span style="left:451.2px;top:190.2px;font-size:12px;line-height:20px;color:#333;letter-spacing:-0.22px;">729</span>
<div style="left:467.3px;top:192.25px;width:63.7px;height:15.9px;background:linear-gradient(90deg,#dddddd 0px 5.31px,#dfdfdf 5.31px 10.62px,#e7e7e7 10.62px 15.93px,#d3d3d3 15.93px 21.23px,#e1e1e1 21.23px 26.54px,#dfdfdf 26.54px 31.85px,#dedede 31.85px 37.16px,#eaeaea 37.16px 42.47px,#e6e6e6 42.47px 47.78px,#d7d7d7 47.78px 53.08px,#e8e8e8 53.08px 58.39px,#e0e0e0 58.39px 63.7px),linear-gradient(90deg,#b3b3b3 0px 5.31px,#aeaeae 5.31px 10.62px,#b4b4b4 10.62px 15.93px,#d7d7d7 15.93px 21.23px,#b6b6b6 21.23px 26.54px,#b0b0b0 26.54px 31.85px,#d0d0d0 31.85px 37.16px,#d3d3d3 37.16px 42.47px,#b4b4b4 42.47px 47.78px,#cdcdcd 47.78px 53.08px,#d6d6d6 53.08px 58.39px,#bcbcbc 58.39px 63.7px),linear-gradient(90deg,#dadada 0px 5.31px,#eaeaea 5.31px 10.62px,#e3e3e3 10.62px 15.93px,#e4e4e4 15.93px 21.23px,#eeeeee 21.23px 26.54px,#e2e2e2 26.54px 31.85px,#e4e4e4 31.85px 37.16px,#dcdcdc 37.16px 42.47px,#dddddd 42.47px 47.78px,#dcdcdc 47.78px 53.08px,#ededed 53.08px 58.39px,#e3e3e3 58.39px 63.7px);background-position:0 0px,0 5.3px,0 10.6px;background-size:100% 5.3px,100% 5.3px,100% 5.3px;background-repeat:no-repeat"></div>
<span style="left:599.8px;top:190.2px;font-size:12px;line-height:20px;color:#333;letter-spacing:-0.22px;">1</span>
<div style="left:606.3px;top:192.25px;width:73.7px;height:15.9px;background:linear-gradient(90deg,#d5d5d5 0px 5.26px,#e2e2e2 5.26px 10.53px,#e2e2e2 10.53px 15.79px,#dcdcdc 15.79px 21.06px,#e4e4e4 21.06px 26.32px,#e5e5e5 26.32px 31.59px,#d9d9d9 31.59px 36.85px,#e0e0e0 36.85px 42.11px,#d5d5d5 42.11px 47.38px,#e6e6e6 47.38px 52.64px,#e8e8e8 52.64px 57.91px,#e7e7e7 57.91px 63.17px,#e3e3e3 63.17px 68.44px,#d5d5d5 68.44px 73.7px),linear-gradient(90deg,#b3b3b3 0px 5.26px,#c6c6c6 5.26px 10.53px,#cccccc 10.53px 15.79px,#bbbbbb 15.79px 21.06px,#d4d4d4 21.06px 26.32px,#b4b4b4 26.32px 31.59px,#d4d4d4 31.59px 36.85px,#b3b3b3 36.85px 42.11px,#ababab 42.11px 47.38px,#d4d4d4 47.38px 52.64px,#d3d3d3 52.64px 57.91px,#c5c5c5 57.91px 63.17px,#cfcfcf 63.17px 68.44px,#c7c7c7 68.44px 73.7px),linear-gradient(90deg,#e1e1e1 0px 5.26px,#e2e2e2 5.26px 10.53px,#e1e1e1 10.53px 15.79px,#e2e2e2 15.79px 21.06px,#dadada 21.06px 26.32px,#dedede 26.32px 31.59px,#dedede 31.59px 36.85px,#ececec 36.85px 42.11px,#ebebeb 42.11px 47.38px,#dbdbdb 47.38px 52.64px,#e5e5e5 52.64px 57.91px,#e9e9e9 57.91px 63.17px,#e2e2e2 63.17px 68.44px,#e1e1e1 68.44px 73.7px);background-position:0 0px,0 5.3px,0 10.6px;background-size:100% 5.3px,100% 5.3px,100% 5.3px;background-repeat:no-repeat"></div>
<div style="left:750px;top:192.25px;width:25.7px;height:15.9px;background:linear-gradient(90deg,#d1d1d1 0px 5.14px,#d5d5d5 5.14px 10.28px,#e6e6e6 10.28px 15.42px,#e7e7e7 15.42px 20.56px,#dedede 20.56px 25.7px),linear-gradient(90deg,#aeaeae 0px 5.14px,#d4d4d4 5.14px 10.28px,#cfcfcf 10.28px 15.42px,#cccccc 15.42px 20.56px,#d2d2d2 20.56px 25.7px),linear-gradient(90deg,#ebebeb 0px 5.14px,#dddddd 5.14px 10.28px,#efefef 10.28px 15.42px,#e6e6e6 15.42px 20.56px,#ececec 20.56px 25.7px);background-position:0 0px,0 5.3px,0 10.6px;background-size:100% 5.3px,100% 5.3px,100% 5.3px;background-repeat:no-repeat"></div>
<div style="left:0px;top:217.6px;width:897px;height:36.4px;background:#f6f6f6"></div>
<div style="left:0px;top:253px;width:897px;height:1px;background:#f0f0f0"></div>
<div style="left:148px;top:217.6px;width:1px;height:36.4px;background:#f0f0f0"></div>
<div style="left:296.6px;top:217.6px;width:1px;height:36.4px;background:#f0f0f0"></div>
<div style="left:445.2px;top:217.6px;width:1px;height:36.4px;background:#f0f0f0"></div>
<div style="left:593.8px;top:217.6px;width:1px;height:36.4px;background:#f0f0f0"></div>
<div style="left:742.4px;top:217.6px;width:1px;height:36.4px;background:#f0f0f0"></div>
<span style="left:5.4px;top:226.6px;font-size:12px;line-height:20px;color:#333;letter-spacing:-0.22px;">2022-04-18 12:02:06.000</span>
<span style="left:154px;top:226.6px;font-size:12px;line-height:20px;color:#333;letter-spacing:-0.22px;">iam</span>
<div style="left:172.9px;top:232px;width:76.1px;height:10.6px;background:linear-gradient(90deg,#dcdcdc 0px 5.44px,#bfbfbf 5.44px 10.87px,#e1e1e1 10.87px 16.31px,#dfdfdf 16.31px 21.74px,#dcdcdc 21.74px 27.18px,#c1c1c1 27.18px 32.61px,#cecece 32.61px 38.05px,#c2c2c2 38.05px 43.49px,#cacaca 43.49px 48.92px,#dddddd 48.92px 54.36px,#d5d5d5 54.36px 59.79px,#d9d9d9 59.79px 65.23px,#dadada 65.23px 70.66px,#d0d0d0 70.66px 76.1px),linear-gradient(90deg,#d2d2d2 0px 5.44px,#e1e1e1 5.44px 10.87px,#d5d5d5 10.87px 16.31px,#e2e2e2 16.31px 21.74px,#cccccc 21.74px 27.18px,#cfcfcf 27.18px 32.61px,#d5d5d5 32.61px 38.05px,#dbdbdb 38.05px 43.49px,#e3e3e3 43.49px 48.92px,#dadada 48.92px 54.36px,#c8c8c8 54.36px 59.79px,#d6d6d6 59.79px 65.23px,#dadada 65.23px 70.66px,#d9d9d9 70.66px 76.1px);background-position:0 0px,0 5.3px;background-size:100% 5.3px,100% 5.3px;background-repeat:no-repeat"></div>
<span style="left:249.5px;top:226.6px;font-size:12px;line-height:20px;color:#333;letter-spacing:-0.22px;">om</span>
<span style="left:302.6px;top:226.6px;font-size:12px;line-height:20px;color:#333;letter-spacing:-0.22px;">CreateVpc</span>
<span style="left:451.2px;top:226.6px;font-size:12px;line-height:20px;color:#333;letter-spacing:-0.22px;">729</span>
<div style="left:467.3px;top:228.65px;width:63.7px;height:15.9px;background:linear-gradient(90deg,#d0d0d0 0px 5.31px,#d2d2d2 5.31px 10.62px,#d9d9d9 10.62px 15.93px,#e7e7e7 15.93px 21.23px,#d7d7d7 21.23px 26.54px,#eaeaea 26.54px 31.85px,#d4d4d4 31.85px 37.16px,#d7d7d7 37.16px 42.47px,#d7d7d7 42.47px 47.78px,#d5d5d5 47.78px 53.08px,#dadada 53.08px 58.39px,#d8d8d8 58.39px 63.7px),linear-gradient(90deg,#c9c9c9 0px 5.31px,#b0b0b0 5.31px 10.62px,#d1d1d1 10.62px 15.93px,#c8c8c8 15.93px 21.23px,#b4b4b4 21.23px 26.54px,#b0b0b0 26.54px 31.85px,#d7d7d7 31.85px 37.16px,#b7b7b7 37.16px 42.47px,#b9b9b9 42.47px 47.78px,#d3d3d3 47.78px 53.08px,#c3c3c3 53.08px 58.39px,#d1d1d1 58.39px 63.7px),linear-gradient(90deg,#efefef 0px 5.31px,#e3e3e3 5.31px 10.62px,#e9e9e9 10.62px 15.93px,#e7e7e7 15.93px 21.23px,#dddddd 21.23px 26.54px,#efefef 26.54px 31.85px,#efefef 31.85px 37.16px,#ebebeb 37.16px 42.47px,#e3e3e3 42.47px 47.78px,#dcdcdc 47.78px 53.08px,#e5e5e5 53.08px 58.39px,#e5e5e5 58.39px 63.7px);background-position:0 0px,0 5.3px,0 10.6px;background-size:100% 5.3px,100% 5.3px,100% 5.3px;background-repeat:no-repeat"></div>
<span style="left:599.8px;top:226.6px;font-size:12px;line-height:20px;color:#333;letter-spacing:-0.22px;">1</span>
<div style="left:606.3px;top:228.65px;width:73.7px;height:15.9px;background:linear-gradient(90deg,#dddddd 0px 5.26px,#e0e0e0 5.26px 10.53px,#e9e9e9 10.53px 15.79px,#d6d6d6 15.79px 21.06px,#d8d8d8 21.06px 26.32px,#e8e8e8 26.32px 31.59px,#e3e3e3 31.59px 36.85px,#d6d6d6 36.85px 42.11px,#dddddd 42.11px 47.38px,#e7e7e7 47.38px 52.64px,#e9e9e9 52.64px 57.91px,#dcdcdc 57.91px 63.17px,#e5e5e5 63.17px 68.44px,#e5e5e5 68.44px 73.7px),linear-gradient(90deg,#d9d9d9 0px 5.26px,#cbcbcb 5.26px 10.53px,#aaaaaa 10.53px 15.79px,#cecece 15.79px 21.06px,#cecece 21.06px 26.32px,#ababab 26.32px 31.59px,#bebebe 31.59px 36.85px,#acacac 36.85px 42.11px,#d3d3d3 42.11px 47.38px,#cccccc 47.38px 52.64px,#d1d1d1 52.64px 57.91px,#cecece 57.91px 63.17px,#c9c9c9 63.17px 68.44px,#d2d2d2 68.44px 73.7px),linear-gradient(90deg,#e2e2e2 0px 5.26px,#e3e3e3 5.26px 10.53px,#e7e7e7 10.53px 15.79px,#e0e0e0 15.79px 21.06px,#e7e7e7 21.06px 26.32px,#dbdbdb 26.32px 31.59px,#ebebeb 31.59px 36.85px,#e2e2e2 36.85px 42.11px,#ededed 42.11px 47.38px,#dbdbdb 47.38px 52.64px,#ededed 52.64px 57.91px,#ebebeb 57.91px 63.17px,#e3e3e3 63.17px 68.44px,#e4e4e4 68.44px 73.7px);background-position:0 0px,0 5.3px,0 10.6px;background-size:100% 5.3px,100% 5.3px,100% 5.3px;background-repeat:no-repeat"></div>
<div style="left:750px;top:228.65px;width:25.7px;height:15.9px;background:linear-gradient(90deg,#dddddd 0px 5.14px,#dddddd 5.14px 10.28px,#e9e9e9 10.28px 15.42px,#dcdcdc 15.42px 20.56px,#e2e2e2 20.56px 25.7px),linear-gradient(90deg,#bbbbbb 0px 5.14px,#d0d0d0 5.14px 10.28px,#afafaf 10.28px 15.42px,#b1b1b1 15.42px 20.56px,#aaaaaa 20.56px 25.7px),linear-gradient(90deg,#dcdcdc 0px 5.14px,#dedede 5.14px 10.28px,#e3e3e3 10.28px 15.42px,#dcdcdc 15.42px 20.56px,#dddddd 20.56px 25.7px);background-position:0 0px,0 5.3px,0 10.6px;background-size:100% 5.3px,100% 5.3px,100% 5.3px;background-repeat:no-repeat"></div>
<div style="left:0px;top:254px;width:897px;height:36.4px;background:#fff"></div>
<div style="left:0px;top:289.4px;width:897px;height:1px;background:#f0f0f0"></div>
<div style="left:148px;top:254px;width:1px;height:36.4px;background:#f3f3f3"></div>
<div style="left:296.6px;top:254px;width:1px;height:36.4px;background:#f3f3f3"></div>
<div style="left:445.2px;top:254px;width:1px;height:36.4px;background:#f3f3f3"></div>
<div style="left:593.8px;top:254px;width:1px;height:36.4px;background:#f3f3f3"></div>
<div style="left:742.4px;top:254px;width:1px;height:36.4px;background:#f3f3f3"></div>
</div>
<div style="left:1590px;top:120px;width:25px;height:258.3px;background:#f1f1f1"></div>
<svg style="left:1597px;top:130.5px" width="11" height="6"><polygon points="5.5,0 11,6 0,6" fill="#a3a3a3"/></svg>
<div style="left:1592px;top:145px;width:21px;height:73.5px;background:#c1c1c1"></div>
<svg style="left:1597px;top:361.8px" width="11" height="6"><polygon points="0,0 11,0 5.5,6" fill="#505050"/></svg>
<div style="left:719px;top:378.3px;width:871px;height:24.7px;background:#f1f1f1"></div>
<svg style="left:727.8px;top:385.15px" width="6" height="11"><polygon points="6,0 6,11 0,5.5" fill="#a3a3a3"/></svg>
<div style="left:744.2px;top:380.3px;width:801.5px;height:20.7px;background:#c1c1c1"></div>
<svg style="left:1574.5px;top:385.15px" width="6" height="11"><polygon points="0,0 6,5.5 0,11" fill="#505050"/></svg>
<div style="left:1590px;top:378.3px;width:25px;height:24.7px;background:#dcdcdc"></div>
<span style="left:1404px;top:413.7px;font-size:11.5px;line-height:20px;color:#333;">Total:100</span>
<span style="left:1470.8px;top:412.7px;font-size:10.5px;line-height:20px;color:#bdbdbd;">&lt;</span>
<div style="left:1501.4px;top:409.1px;width:49.5px;height:25.3px;border:1px solid #d9d9d9;border-radius:3px;background:#fff;box-sizing:border-box"></div>
<span style="left:1516.2px;top:412.7px;font-size:12px;line-height:20px;color:#333;">1</span>
<span style="left:1554px;top:412.7px;font-size:12px;line-height:20px;color:#333;">/ 5</span>
<span style="left:1594px;top:412.7px;font-size:10.5px;line-height:20px;color:#1890ff;">&gt;</span>
<div style="left:717px;top:455px;width:901px;height:426px;border:1px solid #d5d9df;border-radius:3px;background:#fff;box-sizing:border-box"></div>
<span style="left:726.6px;top:461.9px;font-size:13.5px;line-height:20px;color:#333;font-weight:700;">NetWork Firewall Change Event List</span>
<span style="left:971.4px;top:462.9px;font-size:11.3px;line-height:20px;color:#a8a8a8;">1 Week(Relative)</span>
<div style="left:1604px;top:466px;width:3px;height:3px;background:#111;border-radius:50%"></div>
<div style="left:1604px;top:470.5px;width:3px;height:3px;background:#111;border-radius:50%"></div>
<div style="left:1604px;top:475px;width:3px;height:3px;background:#111;border-radius:50%"></div>
<div style="left:718px;top:488.5px;width:898px;height:390.1px;border:1px solid #e8e8e8;border-bottom-color:#e3e3e3;box-sizing:border-box;background:#fff"></div>
<div style="left:719px;top:489.5px;width:892px;height:32.8px;background:#fafafa"></div>
<div style="left:719px;top:522.3px;width:896px;height:1px;background:#e8e8e8"></div>
<div style="left:867px;top:489.5px;width:1px;height:32.8px;background:#e8e8e8"></div>
<div style="left:1015.6px;top:489.5px;width:1px;height:32.8px;background:#e8e8e8"></div>
<div style="left:1164.2px;top:489.5px;width:1px;height:32.8px;background:#e8e8e8"></div>
<div style="left:1312.8px;top:489.5px;width:1px;height:32.8px;background:#e8e8e8"></div>
<div style="left:1461.4px;top:489.5px;width:1px;height:32.8px;background:#e8e8e8"></div>
<span style="left:724.9px;top:495.9px;font-size:11.5px;line-height:20px;color:#222;font-weight:700;">Time</span>
<svg style="left:837px;top:503px" width="7" height="4"><polygon points="3.5,0 7,4 0,4" fill="#bfbfbf"/></svg>
<svg style="left:837px;top:509.4px" width="7" height="4.2"><polygon points="0,0 7,0 3.5,4.2" fill="#bfbfbf"/></svg>
<svg style="left:847.5px;top:503.8px" width="14" height="14" viewBox="0 0 14 14"><circle cx="5" cy="5" r="3.6" fill="none" stroke="#c4c4c4" stroke-width="1"/><line x1="7.5" y1="7.5" x2="12.2" y2="12.2" stroke="#c4c4c4" stroke-width="1.1"/></svg>
<span style="left:873.5px;top:495.9px;font-size:11.5px;line-height:20px;color:#222;font-weight:700;">Event Source</span>
<svg style="left:985.6px;top:503px" width="7" height="4"><polygon points="3.5,0 7,4 0,4" fill="#bfbfbf"/></svg>
<svg style="left:985.6px;top:509.4px" width="7" height="4.2"><polygon points="0,0 7,0 3.5,4.2" fill="#bfbfbf"/></svg>
<svg style="left:996.1px;top:503.8px" width="14" height="14" viewBox="0 0 14 14"><circle cx="5" cy="5" r="3.6" fill="none" stroke="#c4c4c4" stroke-width="1"/><line x1="7.5" y1="7.5" x2="12.2" y2="12.2" stroke="#c4c4c4" stroke-width="1.1"/></svg>
<span style="left:1022.1px;top:495.9px;font-size:11.5px;line-height:20px;color:#222;font-weight:700;">Event Name</span>
<svg style="left:1134.2px;top:503px" width="7" height="4"><polygon points="3.5,0 7,4 0,4" fill="#bfbfbf"/></svg>
<svg style="left:1134.2px;top:509.4px" width="7" height="4.2"><polygon points="0,0 7,0 3.5,4.2" fill="#bfbfbf"/></svg>
<svg style="left:1144.7px;top:503.8px" width="14" height="14" viewBox="0 0 14 14"><circle cx="5" cy="5" r="3.6" fill="none" stroke="#c4c4c4" stroke-width="1"/><line x1="7.5" y1="7.5" x2="12.2" y2="12.2" stroke="#c4c4c4" stroke-width="1.1"/></svg>
<span style="left:1170.7px;top:495.9px;font-size:11.5px;line-height:20px;color:#222;font-weight:700;">Account ID</span>
<svg style="left:1282.8px;top:503px" width="7" height="4"><polygon points="3.5,0 7,4 0,4" fill="#bfbfbf"/></svg>
<svg style="left:1282.8px;top:509.4px" width="7" height="4.2"><polygon points="0,0 7,0 3.5,4.2" fill="#bfbfbf"/></svg>
<svg style="left:1293.3px;top:503.8px" width="14" height="14" viewBox="0 0 14 14"><circle cx="5" cy="5" r="3.6" fill="none" stroke="#c4c4c4" stroke-width="1"/><line x1="7.5" y1="7.5" x2="12.2" y2="12.2" stroke="#c4c4c4" stroke-width="1.1"/></svg>
<span style="left:1319.3px;top:495.9px;font-size:11.5px;line-height:20px;color:#222;font-weight:700;">Source IP</span>
<svg style="left:1431.4px;top:503px" width="7" height="4"><polygon points="3.5,0 7,4 0,4" fill="#bfbfbf"/></svg>
<svg style="left:1431.4px;top:509.4px" width="7" height="4.2"><polygon points="0,0 7,0 3.5,4.2" fill="#bfbfbf"/></svg>
<svg style="left:1441.9px;top:503.8px" width="14" height="14" viewBox="0 0 14 14"><circle cx="5" cy="5" r="3.6" fill="none" stroke="#c4c4c4" stroke-width="1"/><line x1="7.5" y1="7.5" x2="12.2" y2="12.2" stroke="#c4c4c4" stroke-width="1.1"/></svg>
<span style="left:1467.9px;top:495.9px;font-size:11.5px;line-height:20px;color:#222;font-weight:700;">Access Region</span>
<svg style="left:1580px;top:503px" width="7" height="4"><polygon points="3.5,0 7,4 0,4" fill="#bfbfbf"/></svg>
<svg style="left:1580px;top:509.4px" width="7" height="4.2"><polygon points="0,0 7,0 3.5,4.2" fill="#bfbfbf"/></svg>
<svg style="left:1590.5px;top:503.8px" width="14" height="14" viewBox="0 0 14 14"><circle cx="5" cy="5" r="3.6" fill="none" stroke="#c4c4c4" stroke-width="1"/><line x1="7.5" y1="7.5" x2="12.2" y2="12.2" stroke="#c4c4c4" stroke-width="1.1"/></svg>
<div class="clip" style="left:719px;top:523.3px;width:896px;height:290px">
<div style="left:0px;top:-0.8px;width:897px;height:36.4px;background:#f6f6f6"></div>
<div style="left:0px;top:34.6px;width:897px;height:1px;background:#f0f0f0"></div>
<div style="left:148px;top:-0.8px;width:1px;height:36.4px;background:#f0f0f0"></div>
<div style="left:296.6px;top:-0.8px;width:1px;height:36.4px;background:#f0f0f0"></div>
<div style="left:445.2px;top:-0.8px;width:1px;height:36.4px;background:#f0f0f0"></div>
<div style="left:593.8px;top:-0.8px;width:1px;height:36.4px;background:#f0f0f0"></div>
<div style="left:742.4px;top:-0.8px;width:1px;height:36.4px;background:#f0f0f0"></div>
<span style="left:5.4px;top:8.2px;font-size:12px;line-height:20px;color:#333;letter-spacing:-0.22px;">2022-04-18 12:02:46.000</span>
<span style="left:154px;top:8.2px;font-size:12px;line-height:20px;color:#333;letter-spacing:-0.22px;">iam</span>
<div style="left:171.2px;top:13.6px;width:76.8px;height:10.6px;background:linear-gradient(90deg,#dbdbdb 0px 5.49px,#dfdfdf 5.49px 10.97px,#dbdbdb 10.97px 16.46px,#cecece 16.46px 21.94px,#d6d6d6 21.94px 27.43px,#cbcbcb 27.43px 32.91px,#c4c4c4 32.91px 38.4px,#d3d3d3 38.4px 43.89px,#e2e2e2 43.89px 49.37px,#c3c3c3 49.37px 54.86px,#bfbfbf 54.86px 60.34px,#cacaca 60.34px 65.83px,#d3d3d3 65.83px 71.31px,#cccccc 71.31px 76.8px),linear-gradient(90deg,#dddddd 0px 5.49px,#d6d6d6 5.49px 10.97px,#c7c7c7 10.97px 16.46px,#c8c8c8 16.46px 21.94px,#d8d8d8 21.94px 27.43px,#e0e0e0 27.43px 32.91px,#d7d7d7 32.91px 38.4px,#dbdbdb 38.4px 43.89px,#cccccc 43.89px 49.37px,#e3e3e3 49.37px 54.86px,#cbcbcb 54.86px 60.34px,#d0d0d0 60.34px 65.83px,#dbdbdb 65.83px 71.31px,#e6e6e6 71.31px 76.8px);background-position:0 0px,0 5.3px;background-size:100% 5.3px,100% 5.3px;background-repeat:no-repeat"></div>
<span style="left:248.5px;top:8.2px;font-size:12px;line-height:20px;color:#333;letter-spacing:-0.22px;">om</span>
<span style="left:302.6px;top:8.2px;font-size:12px;line-height:20px;color:#333;letter-spacing:-0.22px;">CreateFirewall</span>
<span style="left:451.2px;top:8.2px;font-size:12px;line-height:20px;color:#333;letter-spacing:-0.22px;">7</span>
<div style="left:454.5px;top:10.25px;width:61.5px;height:15.9px;background:linear-gradient(90deg,#d8d8d8 0px 5.12px,#dbdbdb 5.12px 10.25px,#e4e4e4 10.25px 15.38px,#dedede 15.38px 20.5px,#d4d4d4 20.5px 25.62px,#e3e3e3 25.62px 30.75px,#d3d3d3 30.75px 35.88px,#dcdcdc 35.88px 41px,#dcdcdc 41px 46.12px,#dedede 46.12px 51.25px,#dddddd 51.25px 56.38px,#d1d1d1 56.38px 61.5px),linear-gradient(90deg,#d4d4d4 0px 5.12px,#acacac 5.12px 10.25px,#cbcbcb 10.25px 15.38px,#d2d2d2 15.38px 20.5px,#a8a8a8 20.5px 25.62px,#d3d3d3 25.62px 30.75px,#d8d8d8 30.75px 35.88px,#c0c0c0 35.88px 41px,#d0d0d0 41px 46.12px,#bfbfbf 46.12px 51.25px,#bdbdbd 51.25px 56.38px,#afafaf 56.38px 61.5px),linear-gradient(90deg,#dfdfdf 0px 5.12px,#dadada 5.12px 10.25px,#dddddd 10.25px 15.38px,#dfdfdf 15.38px 20.5px,#dedede 20.5px 25.62px,#dbdbdb 25.62px 30.75px,#e6e6e6 30.75px 35.88px,#ebebeb 35.88px 41px,#f0f0f0 41px 46.12px,#eaeaea 46.12px 51.25px,#dedede 51.25px 56.38px,#e8e8e8 56.38px 61.5px);background-position:0 0px,0 5.3px,0 10.6px;background-size:100% 5.3px,100% 5.3px,100% 5.3px;background-repeat:no-repeat"></div>
<span style="left:516.5px;top:8.2px;font-size:12px;line-height:20px;color:#333;letter-spacing:-0.22px;">68</span>
<div style="left:601px;top:10.25px;width:70px;height:15.9px;background:linear-gradient(90deg,#d5d5d5 0px 5.38px,#d6d6d6 5.38px 10.77px,#dedede 10.77px 16.15px,#e6e6e6 16.15px 21.54px,#d6d6d6 21.54px 26.92px,#eaeaea 26.92px 32.31px,#e0e0e0 32.31px 37.69px,#e3e3e3 37.69px 43.08px,#e9e9e9 43.08px 48.46px,#dadada 48.46px 53.85px,#d0d0d0 53.85px 59.23px,#e3e3e3 59.23px 64.62px,#eaeaea 64.62px 70px),linear-gradient(90deg,#cbcbcb 0px 5.38px,#adadad 5.38px 10.77px,#cdcdcd 10.77px 16.15px,#b2b2b2 16.15px 21.54px,#b7b7b7 21.54px 26.92px,#bdbdbd 26.92px 32.31px,#d0d0d0 32.31px 37.69px,#bababa 37.69px 43.08px,#b3b3b3 43.08px 48.46px,#cfcfcf 48.46px 53.85px,#cfcfcf 53.85px 59.23px,#bababa 59.23px 64.62px,#bcbcbc 64.62px 70px),linear-gradient(90deg,#e4e4e4 0px 5.38px,#f0f0f0 5.38px 10.77px,#e6e6e6 10.77px 16.15px,#e1e1e1 16.15px 21.54px,#dcdcdc 21.54px 26.92px,#eaeaea 26.92px 32.31px,#dcdcdc 32.31px 37.69px,#dbdbdb 37.69px 43.08px,#e5e5e5 43.08px 48.46px,#ebebeb 48.46px 53.85px,#e6e6e6 53.85px 59.23px,#efefef 59.23px 64.62px,#ececec 64.62px 70px);background-position:0 0px,0 5.3px,0 10.6px;background-size:100% 5.3px,100% 5.3px,100% 5.3px;background-repeat:no-repeat"></div>
<span style="left:671.5px;top:8.2px;font-size:12px;line-height:20px;color:#333;letter-spacing:-0.22px;">4</span>
<div style="left:748px;top:10.25px;width:26px;height:15.9px;background:linear-gradient(90deg,#e5e5e5 0px 5.2px,#dfdfdf 5.2px 10.4px,#e2e2e2 10.4px 15.6px,#d1d1d1 15.6px 20.8px,#dfdfdf 20.8px 26px),linear-gradient(90deg,#c4c4c4 0px 5.2px,#d9d9d9 5.2px 10.4px,#c8c8c8 10.4px 15.6px,#bcbcbc 15.6px 20.8px,#d5d5d5 20.8px 26px),linear-gradient(90deg,#dbdbdb 0px 5.2px,#e9e9e9 5.2px 10.4px,#e0e0e0 10.4px 15.6px,#ededed 15.6px 20.8px,#e0e0e0 20.8px 26px);background-position:0 0px,0 5.3px,0 10.6px;background-size:100% 5.3px,100% 5.3px,100% 5.3px;background-repeat:no-repeat"></div>
<div style="left:0px;top:35.6px;width:897px;height:36.4px;background:#fff"></div>
<div style="left:0px;top:71px;width:897px;height:1px;background:#f0f0f0"></div>
<div style="left:148px;top:35.6px;width:1px;height:36.4px;background:#f3f3f3"></div>
<div style="left:296.6px;top:35.6px;width:1px;height:36.4px;background:#f3f3f3"></div>
<div style="left:445.2px;top:35.6px;width:1px;height:36.4px;background:#f3f3f3"></div>
<div style="left:593.8px;top:35.6px;width:1px;height:36.4px;background:#f3f3f3"></div>
<div style="left:742.4px;top:35.6px;width:1px;height:36.4px;background:#f3f3f3"></div>
<span style="left:5.4px;top:44.6px;font-size:12px;line-height:20px;color:#333;letter-spacing:-0.22px;">2022-04-18 12:02:46.000</span>
<span style="left:154px;top:44.6px;font-size:12px;line-height:20px;color:#333;letter-spacing:-0.22px;">fire</span>
<div style="left:171.2px;top:50px;width:76.8px;height:10.6px;background:linear-gradient(90deg,#d0d0d0 0px 5.49px,#d4d4d4 5.49px 10.97px,#cdcdcd 10.97px 16.46px,#d2d2d2 16.46px 21.94px,#d3d3d3 21.94px 27.43px,#dfdfdf 27.43px 32.91px,#d5d5d5 32.91px 38.4px,#c8c8c8 38.4px 43.89px,#d3d3d3 43.89px 49.37px,#d4d4d4 49.37px 54.86px,#dadada 54.86px 60.34px,#dbdbdb 60.34px 65.83px,#bebebe 65.83px 71.31px,#d5d5d5 71.31px 76.8px),linear-gradient(90deg,#e1e1e1 0px 5.49px,#c5c5c5 5.49px 10.97px,#dbdbdb 10.97px 16.46px,#d1d1d1 16.46px 21.94px,#cccccc 21.94px 27.43px,#e1e1e1 27.43px 32.91px,#c4c4c4 32.91px 38.4px,#e1e1e1 38.4px 43.89px,#cccccc 43.89px 49.37px,#d0d0d0 49.37px 54.86px,#dddddd 54.86px 60.34px,#dbdbdb 60.34px 65.83px,#dadada 65.83px 71.31px,#cacaca 71.31px 76.8px);background-position:0 0px,0 5.3px;background-size:100% 5.3px,100% 5.3px;background-repeat:no-repeat"></div>
<span style="left:248.5px;top:44.6px;font-size:12px;line-height:20px;color:#333;letter-spacing:-0.22px;">s.com</span>
<span style="left:302.6px;top:44.6px;font-size:12px;line-height:20px;color:#333;letter-spacing:-0.22px;">CreateFirewallPolicy</span>
<span style="left:451.2px;top:44.6px;font-size:12px;line-height:20px;color:#333;letter-spacing:-0.22px;">7</span>
<div style="left:454.5px;top:46.65px;width:61.5px;height:15.9px;background:linear-gradient(90deg,#d6d6d6 0px 5.12px,#e5e5e5 5.12px 10.25px,#e2e2e2 10.25px 15.38px,#e1e1e1 15.38px 20.5px,#e7e7e7 20.5px 25.62px,#d1d1d1 25.62px 30.75px,#d3d3d3 30.75px 35.88px,#dedede 35.88px 41px,#e7e7e7 41px 46.12px,#dcdcdc 46.12px 51.25px,#dfdfdf 51.25px 56.38px,#d0d0d0 56.38px 61.5px),linear-gradient(90deg,#aaaaaa 0px 5.12px,#bebebe 5.12px 10.25px,#c5c5c5 10.25px 15.38px,#d2d2d2 15.38px 20.5px,#d2d2d2 20.5px 25.62px,#cecece 25.62px 30.75px,#d2d2d2 30.75px 35.88px,#c9c9c9 35.88px 41px,#bebebe 41px 46.12px,#d2d2d2 46.12px 51.25px,#d2d2d2 51.25px 56.38px,#d4d4d4 56.38px 61.5px),linear-gradient(90deg,#e0e0e0 0px 5.12px,#e1e1e1 5.12px 10.25px,#e9e9e9 10.25px 15.38px,#e4e4e4 15.38px 20.5px,#ebebeb 20.5px 25.62px,#e2e2e2 25.62px 30.75px,#e6e6e6 30.75px 35.88px,#efefef 35.88px 41px,#f0f0f0 41px 46.12px,#eeeeee 46.12px 51.25px,#e1e1e1 51.25px 56.38px,#e1e1e1 56.38px 61.5px);background-position:0 0px,0 5.3px,0 10.6px;background-size:100% 5.3px,100% 5.3px,100% 5.3px;background-repeat:no-repeat"></div>
<span style="left:516.5px;top:44.6px;font-size:12px;line-height:20px;color:#333;letter-spacing:-0.22px;">68</span>
<div style="left:601px;top:46.65px;width:70px;height:15.9px;background:linear-gradient(90deg,#e7e7e7 0px 5.38px,#d8d8d8 5.38px 10.77px,#dfdfdf 10.77px 16.15px,#d3d3d3 16.15px 21.54px,#d3d3d3 21.54px 26.92px,#e9e9e9 26.92px 32.31px,#e1e1e1 32.31px 37.69px,#e2e2e2 37.69px 43.08px,#d7d7d7 43.08px 48.46px,#e1e1e1 48.46px 53.85px,#d7d7d7 53.85px 59.23px,#dfdfdf 59.23px 64.62px,#e1e1e1 64.62px 70px),linear-gradient(90deg,#cacaca 0px 5.38px,#aaaaaa 5.38px 10.77px,#bababa 10.77px 16.15px,#b3b3b3 16.15px 21.54px,#cecece 21.54px 26.92px,#afafaf 26.92px 32.31px,#b1b1b1 32.31px 37.69px,#cbcbcb 37.69px 43.08px,#c0c0c0 43.08px 48.46px,#aaaaaa 48.46px 53.85px,#bcbcbc 53.85px 59.23px,#c3c3c3 59.23px 64.62px,#bfbfbf 64.62px 70px),linear-gradient(90deg,#e4e4e4 0px 5.38px,#e2e2e2 5.38px 10.77px,#e3e3e3 10.77px 16.15px,#dddddd 16.15px 21.54px,#f0f0f0 21.54px 26.92px,#e2e2e2 26.92px 32.31px,#dfdfdf 32.31px 37.69px,#ebebeb 37.69px 43.08px,#eaeaea 43.08px 48.46px,#ebebeb 48.46px 53.85px,#dcdcdc 53.85px 59.23px,#ebebeb 59.23px 64.62px,#eeeeee 64.62px 70px);background-position:0 0px,0 5.3px,0 10.6px;background-size:100% 5.3px,100% 5.3px,100% 5.3px;background-repeat:no-repeat"></div>
<span style="left:671.5px;top:44.6px;font-size:12px;line-height:20px;color:#333;letter-spacing:-0.22px;">4</span>
<div style="left:748px;top:46.65px;width:26px;height:15.9px;background:linear-gradient(90deg,#d3d3d3 0px 5.2px,#d6d6d6 5.2px 10.4px,#dbdbdb 10.4px 15.6px,#d3d3d3 15.6px 20.8px,#e9e9e9 20.8px 26px),linear-gradient(90deg,#d9d9d9 0px 5.2px,#c7c7c7 5.2px 10.4px,#aeaeae 10.4px 15.6px,#c7c7c7 15.6px 20.8px,#cfcfcf 20.8px 26px),linear-gradient(90deg,#dcdcdc 0px 5.2px,#dedede 5.2px 10.4px,#e4e4e4 10.4px 15.6px,#eaeaea 15.6px 20.8px,#e0e0e0 20.8px 26px);background-position:0 0px,0 5.3px,0 10.6px;background-size:100% 5.3px,100% 5.3px,100% 5.3px;background-repeat:no-repeat"></div>
<div style="left:0px;top:72px;width:897px;height:36.4px;background:#f6f6f6"></div>
<div style="left:0px;top:107.4px;width:897px;height:1px;background:#f0f0f0"></div>
<div style="left:148px;top:72px;width:1px;height:36.4px;background:#f0f0f0"></div>
<div style="left:296.6px;top:72px;width:1px;height:36.4px;background:#f0f0f0"></div>
<div style="left:445.2px;top:72px;width:1px;height:36.4px;background:#f0f0f0"></div>
<div style="left:593.8px;top:72px;width:1px;height:36.4px;background:#f0f0f0"></div>
<div style="left:742.4px;top:72px;width:1px;height:36.4px;background:#f0f0f0"></div>
<span style="left:5.4px;top:81px;font-size:12px;line-height:20px;color:#333;letter-spacing:-0.22px;">2022-04-18 12:02:46.000</span>
<span style="left:154px;top:81px;font-size:12px;line-height:20px;color:#333;letter-spacing:-0.22px;">iam</span>
<div style="left:171.2px;top:86.4px;width:76.8px;height:10.6px;background:linear-gradient(90deg,#dedede 0px 5.49px,#d5d5d5 5.49px 10.97px,#c8c8c8 10.97px 16.46px,#d4d4d4 16.46px 21.94px,#c8c8c8 21.94px 27.43px,#d9d9d9 27.43px 32.91px,#c0c0c0 32.91px 38.4px,#d6d6d6 38.4px 43.89px,#dedede 43.89px 49.37px,#c2c2c2 49.37px 54.86px,#cdcdcd 54.86px 60.34px,#d2d2d2 60.34px 65.83px,#cacaca 65.83px 71.31px,#c4c4c4 71.31px 76.8px),linear-gradient(90deg,#d8d8d8 0px 5.49px,#e6e6e6 5.49px 10.97px,#d2d2d2 10.97px 16.46px,#d3d3d3 16.46px 21.94px,#e8e8e8 21.94px 27.43px,#c8c8c8 27.43px 32.91px,#c6c6c6 32.91px 38.4px,#c8c8c8 38.4px 43.89px,#c9c9c9 43.89px 49.37px,#cfcfcf 49.37px 54.86px,#d0d0d0 54.86px 60.34px,#e5e5e5 60.34px 65.83px,#c6c6c6 65.83px 71.31px,#e9e9e9 71.31px 76.8px);background-position:0 0px,0 5.3px;background-size:100% 5.3px,100% 5.3px;background-repeat:no-repeat"></div>
<span style="left:248.5px;top:81px;font-size:12px;line-height:20px;color:#333;letter-spacing:-0.22px;">om</span>
<span style="left:302.6px;top:81px;font-size:12px;line-height:20px;color:#333;letter-spacing:-0.22px;">CreateFirewall</span>
<span style="left:451.2px;top:81px;font-size:12px;line-height:20px;color:#333;letter-spacing:-0.22px;">7</span>
<div style="left:454.5px;top:83.05px;width:61.5px;height:15.9px;background:linear-gradient(90deg,#dcdcdc 0px 5.12px,#d5d5d5 5.12px 10.25px,#dadada 10.25px 15.38px,#e0e0e0 15.38px 20.5px,#e7e7e7 20.5px 25.62px,#d9d9d9 25.62px 30.75px,#dedede 30.75px 35.88px,#e7e7e7 35.88px 41px,#e3e3e3 41px 46.12px,#dfdfdf 46.12px 51.25px,#dcdcdc 51.25px 56.38px,#e9e9e9 56.38px 61.5px),linear-gradient(90deg,#aeaeae 0px 5.12px,#cacaca 5.12px 10.25px,#cccccc 10.25px 15.38px,#aaaaaa 15.38px 20.5px,#bebebe 20.5px 25.62px,#c4c4c4 25.62px 30.75px,#cfcfcf 30.75px 35.88px,#c4c4c4 35.88px 41px,#b5b5b5 41px 46.12px,#d7d7d7 46.12px 51.25px,#d1d1d1 51.25px 56.38px,#bcbcbc 56.38px 61.5px),linear-gradient(90deg,#e1e1e1 0px 5.12px,#eaeaea 5.12px 10.25px,#dedede 10.25px 15.38px,#dedede 15.38px 20.5px,#dedede 20.5px 25.62px,#eaeaea 25.62px 30.75px,#dbdbdb 30.75px 35.88px,#e9e9e9 35.88px 41px,#e1e1e1 41px 46.12px,#eeeeee 46.12px 51.25px,#dfdfdf 51.25px 56.38px,#e6e6e6 56.38px 61.5px);background-position:0 0px,0 5.3px,0 10.6px;background-size:100% 5.3px,100% 5.3px,100% 5.3px;background-repeat:no-repeat"></div>
<span style="left:516.5px;top:81px;font-size:12px;line-height:20px;color:#333;letter-spacing:-0.22px;">68</span>
<div style="left:601px;top:83.05px;width:70px;height:15.9px;background:linear-gradient(90deg,#e8e8e8 0px 5.38px,#e8e8e8 5.38px 10.77px,#e9e9e9 10.77px 16.15px,#d3d3d3 16.15px 21.54px,#d4d4d4 21.54px 26.92px,#d0d0d0 26.92px 32.31px,#e8e8e8 32.31px 37.69px,#eaeaea 37.69px 43.08px,#d8d8d8 43.08px 48.46px,#eaeaea 48.46px 53.85px,#d6d6d6 53.85px 59.23px,#e6e6e6 59.23px 64.62px,#e9e9e9 64.62px 70px),linear-gradient(90deg,#bababa 0px 5.38px,#c5c5c5 5.38px 10.77px,#cccccc 10.77px 16.15px,#c2c2c2 16.15px 21.54px,#acacac 21.54px 26.92px,#b9b9b9 26.92px 32.31px,#b7b7b7 32.31px 37.69px,#d7d7d7 37.69px 43.08px,#cccccc 43.08px 48.46px,#b3b3b3 48.46px 53.85px,#c6c6c6 53.85px 59.23px,#b1b1b1 59.23px 64.62px,#d6d6d6 64.62px 70px),linear-gradient(90deg,#efefef 0px 5.38px,#dcdcdc 5.38px 10.77px,#e7e7e7 10.77px 16.15px,#e6e6e6 16.15px 21.54px,#e7e7e7 21.54px 26.92px,#dadada 26.92px 32.31px,#f0f0f0 32.31px 37.69px,#dcdcdc 37.69px 43.08px,#ececec 43.08px 48.46px,#ececec 48.46px 53.85px,#eeeeee 53.85px 59.23px,#e1e1e1 59.23px 64.62px,#e0e0e0 64.62px 70px);background-position:0 0px,0 5.3px,0 10.6px;background-size:100% 5.3px,100% 5.3px,100% 5.3px;background-repeat:no-repeat"></div>
<span style="left:671.5px;top:81px;font-size:12px;line-height:20px;color:#333;letter-spacing:-0.22px;">4</span>
<div style="left:748px;top:83.05px;width:26px;height:15.9px;background:linear-gradient(90deg,#e1e1e1 0px 5.2px,#d4d4d4 5.2px 10.4px,#e1e1e1 10.4px 15.6px,#dbdbdb 15.6px 20.8px,#dadada 20.8px 26px),linear-gradient(90deg,#bbbbbb 0px 5.2px,#b3b3b3 5.2px 10.4px,#d2d2d2 10.4px 15.6px,#bebebe 15.6px 20.8px,#d2d2d2 20.8px 26px),linear-gradient(90deg,#e9e9e9 0px 5.2px,#e6e6e6 5.2px 10.4px,#dcdcdc 10.4px 15.6px,#ebebeb 15.6px 20.8px,#f0f0f0 20.8px 26px);background-position:0 0px,0 5.3px,0 10.6px;background-size:100% 5.3px,100% 5.3px,100% 5.3px;background-repeat:no-repeat"></div>
<div style="left:0px;top:108.4px;width:897px;height:36.4px;background:#fff"></div>
<div style="left:0px;top:143.8px;width:897px;height:1px;background:#f0f0f0"></div>
<div style="left:148px;top:108.4px;width:1px;height:36.4px;background:#f3f3f3"></div>
<div style="left:296.6px;top:108.4px;width:1px;height:36.4px;background:#f3f3f3"></div>
<div style="left:445.2px;top:108.4px;width:1px;height:36.4px;background:#f3f3f3"></div>
<div style="left:593.8px;top:108.4px;width:1px;height:36.4px;background:#f3f3f3"></div>
<div style="left:742.4px;top:108.4px;width:1px;height:36.4px;background:#f3f3f3"></div>
<span style="left:5.4px;top:117.4px;font-size:12px;line-height:20px;color:#333;letter-spacing:-0.22px;">2022-04-18 12:02:06.000</span>
<span style="left:154px;top:117.4px;font-size:12px;line-height:20px;color:#333;letter-spacing:-0.22px;">iam</span>
<div style="left:171.2px;top:122.8px;width:76.8px;height:10.6px;background:linear-gradient(90deg,#c8c8c8 0px 5.49px,#c7c7c7 5.49px 10.97px,#d4d4d4 10.97px 16.46px,#cacaca 16.46px 21.94px,#d6d6d6 21.94px 27.43px,#d1d1d1 27.43px 32.91px,#c6c6c6 32.91px 38.4px,#bfbfbf 38.4px 43.89px,#c0c0c0 43.89px 49.37px,#d9d9d9 49.37px 54.86px,#c5c5c5 54.86px 60.34px,#bfbfbf 60.34px 65.83px,#c0c0c0 65.83px 71.31px,#e1e1e1 71.31px 76.8px),linear-gradient(90deg,#e1e1e1 0px 5.49px,#dedede 5.49px 10.97px,#c6c6c6 10.97px 16.46px,#c9c9c9 16.46px 21.94px,#e5e5e5 21.94px 27.43px,#dbdbdb 27.43px 32.91px,#e1e1e1 32.91px 38.4px,#eaeaea 38.4px 43.89px,#dedede 43.89px 49.37px,#e2e2e2 49.37px 54.86px,#d5d5d5 54.86px 60.34px,#dedede 60.34px 65.83px,#d6d6d6 65.83px 71.31px,#e3e3e3 71.31px 76.8px);background-position:0 0px,0 5.3px;background-size:100% 5.3px,100% 5.3px;background-repeat:no-repeat"></div>
<span style="left:248.5px;top:117.4px;font-size:12px;line-height:20px;color:#333;letter-spacing:-0.22px;">om</span>
<span style="left:302.6px;top:117.4px;font-size:12px;line-height:20px;color:#333;letter-spacing:-0.22px;">CreateFirewall</span>
<span style="left:451.2px;top:117.4px;font-size:12px;line-height:20px;color:#333;letter-spacing:-0.22px;">7</span>
<div style="left:454.5px;top:119.45px;width:61.5px;height:15.9px;background:linear-gradient(90deg,#d5d5d5 0px 5.12px,#e1e1e1 5.12px 10.25px,#e2e2e2 10.25px 15.38px,#dadada 15.38px 20.5px,#dedede 20.5px 25.62px,#d0d0d0 25.62px 30.75px,#e2e2e2 30.75px 35.88px,#e5e5e5 35.88px 41px,#e0e0e0 41px 46.12px,#e8e8e8 46.12px 51.25px,#d1d1d1 51.25px 56.38px,#e7e7e7 56.38px 61.5px),linear-gradient(90deg,#acacac 0px 5.12px,#c5c5c5 5.12px 10.25px,#ababab 10.25px 15.38px,#c9c9c9 15.38px 20.5px,#d3d3d3 20.5px 25.62px,#d0d0d0 25.62px 30.75px,#c5c5c5 30.75px 35.88px,#d2d2d2 35.88px 41px,#b0b0b0 41px 46.12px,#c2c2c2 46.12px 51.25px,#b3b3b3 51.25px 56.38px,#d7d7d7 56.38px 61.5px),linear-gradient(90deg,#e4e4e4 0px 5.12px,#dcdcdc 5.12px 10.25px,#e1e1e1 10.25px 15.38px,#dfdfdf 15.38px 20.5px,#e9e9e9 20.5px 25.62px,#dddddd 25.62px 30.75px,#efefef 30.75px 35.88px,#ebebeb 35.88px 41px,#dadada 41px 46.12px,#dadada 46.12px 51.25px,#dcdcdc 51.25px 56.38px,#dfdfdf 56.38px 61.5px);background-position:0 0px,0 5.3px,0 10.6px;background-size:100% 5.3px,100% 5.3px,100% 5.3px;background-repeat:no-repeat"></div>
<span style="left:516.5px;top:117.4px;font-size:12px;line-height:20px;color:#333;letter-spacing:-0.22px;">68</span>
<div style="left:601px;top:119.45px;width:70px;height:15.9px;background:linear-gradient(90deg,#d1d1d1 0px 5.38px,#dadada 5.38px 10.77px,#d4d4d4 10.77px 16.15px,#dfdfdf 16.15px 21.54px,#e4e4e4 21.54px 26.92px,#d7d7d7 26.92px 32.31px,#dddddd 32.31px 37.69px,#d2d2d2 37.69px 43.08px,#dadada 43.08px 48.46px,#d3d3d3 48.46px 53.85px,#d0d0d0 53.85px 59.23px,#e0e0e0 59.23px 64.62px,#dcdcdc 64.62px 70px),linear-gradient(90deg,#b6b6b6 0px 5.38px,#d6d6d6 5.38px 10.77px,#cacaca 10.77px 16.15px,#bdbdbd 16.15px 21.54px,#c1c1c1 21.54px 26.92px,#b2b2b2 26.92px 32.31px,#b8b8b8 32.31px 37.69px,#d9d9d9 37.69px 43.08px,#b8b8b8 43.08px 48.46px,#b1b1b1 48.46px 53.85px,#cccccc 53.85px 59.23px,#b8b8b8 59.23px 64.62px,#dadada 64.62px 70px),linear-gradient(90deg,#e1e1e1 0px 5.38px,#dfdfdf 5.38px 10.77px,#e0e0e0 10.77px 16.15px,#e7e7e7 16.15px 21.54px,#dcdcdc 21.54px 26.92px,#dddddd 26.92px 32.31px,#f0f0f0 32.31px 37.69px,#ededed 37.69px 43.08px,#e3e3e3 43.08px 48.46px,#ececec 48.46px 53.85px,#dbdbdb 53.85px 59.23px,#e9e9e9 59.23px 64.62px,#dbdbdb 64.62px 70px);background-position:0 0px,0 5.3px,0 10.6px;background-size:100% 5.3px,100% 5.3px,100% 5.3px;background-repeat:no-repeat"></div>
<span style="left:671.5px;top:117.4px;font-size:12px;line-height:20px;color:#333;letter-spacing:-0.22px;">4</span>
<div style="left:748px;top:119.45px;width:26px;height:15.9px;background:linear-gradient(90deg,#d3d3d3 0px 5.2px,#d5d5d5 5.2px 10.4px,#dfdfdf 10.4px 15.6px,#e0e0e0 15.6px 20.8px,#dddddd 20.8px 26px),linear-gradient(90deg,#afafaf 0px 5.2px,#b7b7b7 5.2px 10.4px,#d7d7d7 10.4px 15.6px,#b1b1b1 15.6px 20.8px,#b7b7b7 20.8px 26px),linear-gradient(90deg,#e1e1e1 0px 5.2px,#ededed 5.2px 10.4px,#ececec 10.4px 15.6px,#dedede 15.6px 20.8px,#ebebeb 20.8px 26px);background-position:0 0px,0 5.3px,0 10.6px;background-size:100% 5.3px,100% 5.3px,100% 5.3px;background-repeat:no-repeat"></div>
<div style="left:0px;top:144.8px;width:897px;height:36.4px;background:#f6f6f6"></div>
<div style="left:0px;top:180.2px;width:897px;height:1px;background:#f0f0f0"></div>
<div style="left:148px;top:144.8px;width:1px;height:36.4px;background:#f0f0f0"></div>
<div style="left:296.6px;top:144.8px;width:1px;height:36.4px;background:#f0f0f0"></div>
<div style="left:445.2px;top:144.8px;width:1px;height:36.4px;background:#f0f0f0"></div>
<div style="left:593.8px;top:144.8px;width:1px;height:36.4px;background:#f0f0f0"></div>
<div style="left:742.4px;top:144.8px;width:1px;height:36.4px;background:#f0f0f0"></div>
<span style="left:5.4px;top:153.8px;font-size:12px;line-height:20px;color:#333;letter-spacing:-0.22px;">2022-04-18 12:02:06.000</span>
<span style="left:154px;top:153.8px;font-size:12px;line-height:20px;color:#333;letter-spacing:-0.22px;">iam</span>
<div style="left:171.2px;top:159.2px;width:76.8px;height:10.6px;background:linear-gradient(90deg,#dbdbdb 0px 5.49px,#e2e2e2 5.49px 10.97px,#d5d5d5 10.97px 16.46px,#bebebe 16.46px 21.94px,#cacaca 21.94px 27.43px,#c1c1c1 27.43px 32.91px,#c7c7c7 32.91px 38.4px,#c9c9c9 38.4px 43.89px,#d5d5d5 43.89px 49.37px,#dedede 49.37px 54.86px,#e2e2e2 54.86px 60.34px,#e0e0e0 60.34px 65.83px,#d1d1d1 65.83px 71.31px,#c4c4c4 71.31px 76.8px),linear-gradient(90deg,#d9d9d9 0px 5.49px,#c6c6c6 5.49px 10.97px,#d3d3d3 10.97px 16.46px,#dedede 16.46px 21.94px,#d7d7d7 21.94px 27.43px,#e4e4e4 27.43px 32.91px,#cdcdcd 32.91px 38.4px,#cfcfcf 38.4px 43.89px,#cbcbcb 43.89px 49.37px,#dedede 49.37px 54.86px,#cbcbcb 54.86px 60.34px,#c7c7c7 60.34px 65.83px,#e0e0e0 65.83px 71.31px,#d6d6d6 71.31px 76.8px);background-position:0 0px,0 5.3px;background-size:100% 5.3px,100% 5.3px;background-repeat:no-repeat"></div>
<span style="left:248.5px;top:153.8px;font-size:12px;line-height:20px;color:#333;letter-spacing:-0.22px;">om</span>
<span style="left:302.6px;top:153.8px;font-size:12px;line-height:20px;color:#333;letter-spacing:-0.22px;">CreateFirewall</span>
<span style="left:451.2px;top:153.8px;font-size:12px;line-height:20px;color:#333;letter-spacing:-0.22px;">7</span>
<div style="left:454.5px;top:155.85px;width:61.5px;height:15.9px;background:linear-gradient(90deg,#d2d2d2 0px 5.12px,#d6d6d6 5.12px 10.25px,#dcdcdc 10.25px 15.38px,#e8e8e8 15.38px 20.5px,#dbdbdb 20.5px 25.62px,#e9e9e9 25.62px 30.75px,#e5e5e5 30.75px 35.88px,#e2e2e2 35.88px 41px,#dbdbdb 41px 46.12px,#e7e7e7 46.12px 51.25px,#dcdcdc 51.25px 56.38px,#dedede 56.38px 61.5px),linear-gradient(90deg,#bababa 0px 5.12px,#d3d3d3 5.12px 10.25px,#c8c8c8 10.25px 15.38px,#b4b4b4 15.38px 20.5px,#afafaf 20.5px 25.62px,#c8c8c8 25.62px 30.75px,#bfbfbf 30.75px 35.88px,#c7c7c7 35.88px 41px,#bebebe 41px 46.12px,#bbbbbb 46.12px 51.25px,#d2d2d2 51.25px 56.38px,#bcbcbc 56.38px 61.5px),linear-gradient(90deg,#eeeeee 0px 5.12px,#e6e6e6 5.12px 10.25px,#dbdbdb 10.25px 15.38px,#dbdbdb 15.38px 20.5px,#e9e9e9 20.5px 25.62px,#f0f0f0 25.62px 30.75px,#e0e0e0 30.75px 35.88px,#f0f0f0 35.88px 41px,#ebebeb 41px 46.12px,#e8e8e8 46.12px 51.25px,#e7e7e7 51.25px 56.38px,#e8e8e8 56.38px 61.5px);background-position:0 0px,0 5.3px,0 10.6px;background-size:100% 5.3px,100% 5.3px,100% 5.3px;background-repeat:no-repeat"></div>
<span style="left:516.5px;top:153.8px;font-size:12px;line-height:20px;color:#333;letter-spacing:-0.22px;">68</span>
<div style="left:601px;top:155.85px;width:70px;height:15.9px;background:linear-gradient(90deg,#eaeaea 0px 5.38px,#e3e3e3 5.38px 10.77px,#dbdbdb 10.77px 16.15px,#e6e6e6 16.15px 21.54px,#e7e7e7 21.54px 26.92px,#e2e2e2 26.92px 32.31px,#d9d9d9 32.31px 37.69px,#eaeaea 37.69px 43.08px,#dcdcdc 43.08px 48.46px,#dddddd 48.46px 53.85px,#d5d5d5 53.85px 59.23px,#dadada 59.23px 64.62px,#dedede 64.62px 70px),linear-gradient(90deg,#bfbfbf 0px 5.38px,#b3b3b3 5.38px 10.77px,#b2b2b2 10.77px 16.15px,#bfbfbf 16.15px 21.54px,#a9a9a9 21.54px 26.92px,#adadad 26.92px 32.31px,#d6d6d6 32.31px 37.69px,#b4b4b4 37.69px 43.08px,#afafaf 43.08px 48.46px,#d2d2d2 48.46px 53.85px,#d4d4d4 53.85px 59.23px,#d0d0d0 59.23px 64.62px,#c1c1c1 64.62px 70px),linear-gradient(90deg,#e5e5e5 0px 5.38px,#e1e1e1 5.38px 10.77px,#e0e0e0 10.77px 16.15px,#e4e4e4 16.15px 21.54px,#e7e7e7 21.54px 26.92px,#e5e5e5 26.92px 32.31px,#ededed 32.31px 37.69px,#e8e8e8 37.69px 43.08px,#efefef 43.08px 48.46px,#eaeaea 48.46px 53.85px,#dadada 53.85px 59.23px,#ececec 59.23px 64.62px,#e9e9e9 64.62px 70px);background-position:0 0px,0 5.3px,0 10.6px;background-size:100% 5.3px,100% 5.3px,100% 5.3px;background-repeat:no-repeat"></div>
<span style="left:671.5px;top:153.8px;font-size:12px;line-height:20px;color:#333;letter-spacing:-0.22px;">4</span>
<div style="left:748px;top:155.85px;width:26px;height:15.9px;background:linear-gradient(90deg,#dfdfdf 0px 5.2px,#e5e5e5 5.2px 10.4px,#dedede 10.4px 15.6px,#d2d2d2 15.6px 20.8px,#dadada 20.8px 26px),linear-gradient(90deg,#a9a9a9 0px 5.2px,#acacac 5.2px 10.4px,#b7b7b7 10.4px 15.6px,#d9d9d9 15.6px 20.8px,#b2b2b2 20.8px 26px),linear-gradient(90deg,#e5e5e5 0px 5.2px,#dbdbdb 5.2px 10.4px,#ededed 10.4px 15.6px,#e4e4e4 15.6px 20.8px,#e5e5e5 20.8px 26px);background-position:0 0px,0 5.3px,0 10.6px;background-size:100% 5.3px,100% 5.3px,100% 5.3px;background-repeat:no-repeat"></div>
<div style="left:0px;top:181.2px;width:897px;height:36.4px;background:#fff"></div>
<div style="left:0px;top:216.6px;width:897px;height:1px;background:#f0f0f0"></div>
<div style="left:148px;top:181.2px;width:1px;height:36.4px;background:#f3f3f3"></div>
<div style="left:296.6px;top:181.2px;width:1px;height:36.4px;background:#f3f3f3"></div>
<div style="left:445.2px;top:181.2px;width:1px;height:36.4px;background:#f3f3f3"></div>
<div style="left:593.8px;top:181.2px;width:1px;height:36.4px;background:#f3f3f3"></div>
<div style="left:742.4px;top:181.2px;width:1px;height:36.4px;background:#f3f3f3"></div>
<span style="left:5.4px;top:190.2px;font-size:12px;line-height:20px;color:#333;letter-spacing:-0.22px;">2022-04-18 12:02:06.000</span>
<span style="left:154px;top:190.2px;font-size:12px;line-height:20px;color:#333;letter-spacing:-0.22px;">fire</span>
<div style="left:171.2px;top:195.6px;width:76.8px;height:10.6px;background:linear-gradient(90deg,#c7c7c7 0px 5.49px,#cecece 5.49px 10.97px,#d1d1d1 10.97px 16.46px,#cfcfcf 16.46px 21.94px,#d3d3d3 21.94px 27.43px,#dcdcdc 27.43px 32.91px,#d0d0d0 32.91px 38.4px,#e0e0e0 38.4px 43.89px,#e0e0e0 43.89px 49.37px,#d4d4d4 49.37px 54.86px,#c1c1c1 54.86px 60.34px,#d8d8d8 60.34px 65.83px,#d7d7d7 65.83px 71.31px,#e0e0e0 71.31px 76.8px),linear-gradient(90deg,#cacaca 0px 5.49px,#d9d9d9 5.49px 10.97px,#e7e7e7 10.97px 16.46px,#e1e1e1 16.46px 21.94px,#d3d3d3 21.94px 27.43px,#cbcbcb 27.43px 32.91px,#c5c5c5 32.91px 38.4px,#d6d6d6 38.4px 43.89px,#d5d5d5 43.89px 49.37px,#cdcdcd 49.37px 54.86px,#d1d1d1 54.86px 60.34px,#cbcbcb 60.34px 65.83px,#dfdfdf 65.83px 71.31px,#e5e5e5 71.31px 76.8px);background-position:0 0px,0 5.3px;background-size:100% 5.3px,100% 5.3px;background-repeat:no-repeat"></div>
<span style="left:248.5px;top:190.2px;font-size:12px;line-height:20px;color:#333;letter-spacing:-0.22px;">s.com</span>
<span style="left:302.6px;top:190.2px;font-size:12px;line-height:20px;color:#333;letter-spacing:-0.22px;">CreateFirewallPolicy</span>
<span style="left:451.2px;top:190.2px;font-size:12px;line-height:20px;color:#333;letter-spacing:-0.22px;">7</span>
<div style="left:454.5px;top:192.25px;width:61.5px;height:15.9px;background:linear-gradient(90deg,#d5d5d5 0px 5.12px,#e2e2e2 5.12px 10.25px,#dddddd 10.25px 15.38px,#e1e1e1 15.38px 20.5px,#dfdfdf 20.5px 25.62px,#d3d3d3 25.62px 30.75px,#d1d1d1 30.75px 35.88px,#dbdbdb 35.88px 41px,#d7d7d7 41px 46.12px,#dfdfdf 46.12px 51.25px,#e3e3e3 51.25px 56.38px,#d4d4d4 56.38px 61.5px),linear-gradient(90deg,#cecece 0px 5.12px,#c3c3c3 5.12px 10.25px,#acacac 10.25px 15.38px,#ababab 15.38px 20.5px,#c6c6c6 20.5px 25.62px,#acacac 25.62px 30.75px,#ababab 30.75px 35.88px,#cdcdcd 35.88px 41px,#c4c4c4 41px 46.12px,#c6c6c6 46.12px 51.25px,#b3b3b3 51.25px 56.38px,#bcbcbc 56.38px 61.5px),linear-gradient(90deg,#ebebeb 0px 5.12px,#e7e7e7 5.12px 10.25px,#e9e9e9 10.25px 15.38px,#f0f0f0 15.38px 20.5px,#e3e3e3 20.5px 25.62px,#ececec 25.62px 30.75px,#e0e0e0 30.75px 35.88px,#f0f0f0 35.88px 41px,#ebebeb 41px 46.12px,#dedede 46.12px 51.25px,#dedede 51.25px 56.38px,#efefef 56.38px 61.5px);background-position:0 0px,0 5.3px,0 10.6px;background-size:100% 5.3px,100% 5.3px,100% 5.3px;background-repeat:no-repeat"></div>
<span style="left:516.5px;top:190.2px;font-size:12px;line-height:20px;color:#333;letter-spacing:-0.22px;">68</span>
<div style="left:601px;top:192.25px;width:70px;height:15.9px;background:linear-gradient(90deg,#e8e8e8 0px 5.38px,#d8d8d8 5.38px 10.77px,#d0d0d0 10.77px 16.15px,#d9d9d9 16.15px 21.54px,#d9d9d9 21.54px 26.92px,#e5e5e5 26.92px 32.31px,#dddddd 32.31px 37.69px,#dfdfdf 37.69px 43.08px,#d9d9d9 43.08px 48.46px,#d7d7d7 48.46px 53.85px,#e0e0e0 53.85px 59.23px,#e7e7e7 59.23px 64.62px,#e9e9e9 64.62px 70px),linear-gradient(90deg,#d6d6d6 0px 5.38px,#a8a8a8 5.38px 10.77px,#c2c2c2 10.77px 16.15px,#d3d3d3 16.15px 21.54px,#aeaeae 21.54px 26.92px,#adadad 26.92px 32.31px,#c5c5c5 32.31px 37.69px,#d8d8d8 37.69px 43.08px,#bbbbbb 43.08px 48.46px,#bcbcbc 48.46px 53.85px,#b3b3b3 53.85px 59.23px,#cbcbcb 59.23px 64.62px,#d3d3d3 64.62px 70px),linear-gradient(90deg,#e6e6e6 0px 5.38px,#ebebeb 5.38px 10.77px,#eaeaea 10.77px 16.15px,#e9e9e9 16.15px 21.54px,#e2e2e2 21.54px 26.92px,#e6e6e6 26.92px 32.31px,#ebebeb 32.31px 37.69px,#e5e5e5 37.69px 43.08px,#dadada 43.08px 48.46px,#e7e7e7 48.46px 53.85px,#e2e2e2 53.85px 59.23px,#dcdcdc 59.23px 64.62px,#e9e9e9 64.62px 70px);background-position:0 0px,0 5.3px,0 10.6px;background-size:100% 5.3px,100% 5.3px,100% 5.3px;background-repeat:no-repeat"></div>
<span style="left:671.5px;top:190.2px;font-size:12px;line-height:20px;color:#333;letter-spacing:-0.22px;">4</span>
<div style="left:748px;top:192.25px;width:26px;height:15.9px;background:linear-gradient(90deg,#dfdfdf 0px 5.2px,#d7d7d7 5.2px 10.4px,#d2d2d2 10.4px 15.6px,#e6e6e6 15.6px 20.8px,#d8d8d8 20.8px 26px),linear-gradient(90deg,#ababab 0px 5.2px,#c5c5c5 5.2px 10.4px,#c5c5c5 10.4px 15.6px,#d6d6d6 15.6px 20.8px,#d6d6d6 20.8px 26px),linear-gradient(90deg,#ececec 0px 5.2px,#e4e4e4 5.2px 10.4px,#f0f0f0 10.4px 15.6px,#e8e8e8 15.6px 20.8px,#e9e9e9 20.8px 26px);background-position:0 0px,0 5.3px,0 10.6px;background-size:100% 5.3px,100% 5.3px,100% 5.3px;background-repeat:no-repeat"></div>
<div style="left:0px;top:217.6px;width:897px;height:36.4px;background:#f6f6f6"></div>
<div style="left:0px;top:253px;width:897px;height:1px;background:#f0f0f0"></div>
<div style="left:148px;top:217.6px;width:1px;height:36.4px;background:#f0f0f0"></div>
<div style="left:296.6px;top:217.6px;width:1px;height:36.4px;background:#f0f0f0"></div>
<div style="left:445.2px;top:217.6px;width:1px;height:36.4px;background:#f0f0f0"></div>
<div style="left:593.8px;top:217.6px;width:1px;height:36.4px;background:#f0f0f0"></div>
<div style="left:742.4px;top:217.6px;width:1px;height:36.4px;background:#f0f0f0"></div>
<span style="left:5.4px;top:226.6px;font-size:12px;line-height:20px;color:#333;letter-spacing:-0.22px;">2022-04-18 12:02:06.000</span>
<span style="left:154px;top:226.6px;font-size:12px;line-height:20px;color:#333;letter-spacing:-0.22px;">iam</span>
<div style="left:171.2px;top:232px;width:76.8px;height:10.6px;background:linear-gradient(90deg,#dddddd 0px 5.49px,#cfcfcf 5.49px 10.97px,#d6d6d6 10.97px 16.46px,#e2e2e2 16.46px 21.94px,#d8d8d8 21.94px 27.43px,#cfcfcf 27.43px 32.91px,#cdcdcd 32.91px 38.4px,#dfdfdf 38.4px 43.89px,#c9c9c9 43.89px 49.37px,#d9d9d9 49.37px 54.86px,#d4d4d4 54.86px 60.34px,#dddddd 60.34px 65.83px,#c7c7c7 65.83px 71.31px,#c4c4c4 71.31px 76.8px),linear-gradient(90deg,#c5c5c5 0px 5.49px,#dcdcdc 5.49px 10.97px,#cccccc 10.97px 16.46px,#c6c6c6 16.46px 21.94px,#cdcdcd 21.94px 27.43px,#d0d0d0 27.43px 32.91px,#cecece 32.91px 38.4px,#c5c5c5 38.4px 43.89px,#d1d1d1 43.89px 49.37px,#e9e9e9 49.37px 54.86px,#c5c5c5 54.86px 60.34px,#cbcbcb 60.34px 65.83px,#e6e6e6 65.83px 71.31px,#e1e1e1 71.31px 76.8px);background-position:0 0px,0 5.3px;background-size:100% 5.3px,100% 5.3px;background-repeat:no-repeat"></div>
<span style="left:248.5px;top:226.6px;font-size:12px;line-height:20px;color:#333;letter-spacing:-0.22px;">om</span>
<span style="left:302.6px;top:226.6px;font-size:12px;line-height:20px;color:#333;letter-spacing:-0.22px;">CreateFirewall</span>
<span style="left:451.2px;top:226.6px;font-size:12px;line-height:20px;color:#333;letter-spacing:-0.22px;">7</span>
<div style="left:454.5px;top:228.65px;width:61.5px;height:15.9px;background:linear-gradient(90deg,#e7e7e7 0px 5.12px,#d1d1d1 5.12px 10.25px,#dbdbdb 10.25px 15.38px,#e5e5e5 15.38px 20.5px,#dddddd 20.5px 25.62px,#e5e5e5 25.62px 30.75px,#dbdbdb 30.75px 35.88px,#d4d4d4 35.88px 41px,#dedede 41px 46.12px,#dfdfdf 46.12px 51.25px,#dedede 51.25px 56.38px,#d5d5d5 56.38px 61.5px),linear-gradient(90deg,#d2d2d2 0px 5.12px,#b3b3b3 5.12px 10.25px,#d1d1d1 10.25px 15.38px,#bbbbbb 15.38px 20.5px,#a9a9a9 20.5px 25.62px,#d8d8d8 25.62px 30.75px,#bdbdbd 30.75px 35.88px,#c2c2c2 35.88px 41px,#bdbdbd 41px 46.12px,#aeaeae 46.12px 51.25px,#d7d7d7 51.25px 56.38px,#c0c0c0 56.38px 61.5px),linear-gradient(90deg,#dcdcdc 0px 5.12px,#e7e7e7 5.12px 10.25px,#ebebeb 10.25px 15.38px,#dcdcdc 15.38px 20.5px,#e9e9e9 20.5px 25.62px,#e0e0e0 25.62px 30.75px,#eaeaea 30.75px 35.88px,#dbdbdb 35.88px 41px,#ebebeb 41px 46.12px,#e0e0e0 46.12px 51.25px,#dedede 51.25px 56.38px,#eeeeee 56.38px 61.5px);background-position:0 0px,0 5.3px,0 10.6px;background-size:100% 5.3px,100% 5.3px,100% 5.3px;background-repeat:no-repeat"></div>
<span style="left:516.5px;top:226.6px;font-size:12px;line-height:20px;color:#333;letter-spacing:-0.22px;">68</span>
<div style="left:601px;top:228.65px;width:70px;height:15.9px;background:linear-gradient(90deg,#e3e3e3 0px 5.38px,#d8d8d8 5.38px 10.77px,#e5e5e5 10.77px 16.15px,#e5e5e5 16.15px 21.54px,#e7e7e7 21.54px 26.92px,#e0e0e0 26.92px 32.31px,#e2e2e2 32.31px 37.69px,#e1e1e1 37.69px 43.08px,#dfdfdf 43.08px 48.46px,#d3d3d3 48.46px 53.85px,#e2e2e2 53.85px 59.23px,#e1e1e1 59.23px 64.62px,#e3e3e3 64.62px 70px),linear-gradient(90deg,#c2c2c2 0px 5.38px,#aaaaaa 5.38px 10.77px,#b9b9b9 10.77px 16.15px,#bfbfbf 16.15px 21.54px,#bcbcbc 21.54px 26.92px,#b6b6b6 26.92px 32.31px,#b1b1b1 32.31px 37.69px,#b7b7b7 37.69px 43.08px,#aaaaaa 43.08px 48.46px,#aeaeae 48.46px 53.85px,#b8b8b8 53.85px 59.23px,#c0c0c0 59.23px 64.62px,#a8a8a8 64.62px 70px),linear-gradient(90deg,#e7e7e7 0px 5.38px,#e5e5e5 5.38px 10.77px,#dadada 10.77px 16.15px,#f0f0f0 16.15px 21.54px,#e0e0e0 21.54px 26.92px,#ebebeb 26.92px 32.31px,#e6e6e6 32.31px 37.69px,#ececec 37.69px 43.08px,#e8e8e8 43.08px 48.46px,#dfdfdf 48.46px 53.85px,#eeeeee 53.85px 59.23px,#ececec 59.23px 64.62px,#dddddd 64.62px 70px);background-position:0 0px,0 5.3px,0 10.6px;background-size:100% 5.3px,100% 5.3px,100% 5.3px;background-repeat:no-repeat"></div>
<span style="left:671.5px;top:226.6px;font-size:12px;line-height:20px;color:#333;letter-spacing:-0.22px;">4</span>
<div style="left:748px;top:228.65px;width:26px;height:15.9px;background:linear-gradient(90deg,#dedede 0px 5.2px,#d0d0d0 5.2px 10.4px,#e2e2e2 10.4px 15.6px,#d9d9d9 15.6px 20.8px,#e1e1e1 20.8px 26px),linear-gradient(90deg,#bcbcbc 0px 5.2px,#cfcfcf 5.2px 10.4px,#bbbbbb 10.4px 15.6px,#dadada 15.6px 20.8px,#b6b6b6 20.8px 26px),linear-gradient(90deg,#e8e8e8 0px 5.2px,#dcdcdc 5.2px 10.4px,#e9e9e9 10.4px 15.6px,#e9e9e9 15.6px 20.8px,#e5e5e5 20.8px 26px);background-position:0 0px,0 5.3px,0 10.6px;background-size:100% 5.3px,100% 5.3px,100% 5.3px;background-repeat:no-repeat"></div>
<div style="left:0px;top:254px;width:897px;height:36.4px;background:#fff"></div>
<div style="left:0px;top:289.4px;width:897px;height:1px;background:#f0f0f0"></div>
<div style="left:148px;top:254px;width:1px;height:36.4px;background:#f3f3f3"></div>
<div style="left:296.6px;top:254px;width:1px;height:36.4px;background:#f3f3f3"></div>
<div style="left:445.2px;top:254px;width:1px;height:36.4px;background:#f3f3f3"></div>
<div style="left:593.8px;top:254px;width:1px;height:36.4px;background:#f3f3f3"></div>
<div style="left:742.4px;top:254px;width:1px;height:36.4px;background:#f3f3f3"></div>
<span style="left:5.4px;top:263px;font-size:12px;line-height:20px;color:#333;letter-spacing:-0.22px;">2022-04-18 12:02:06.000</span>
<span style="left:154px;top:263px;font-size:12px;line-height:20px;color:#333;letter-spacing:-0.22px;">iam</span>
<div style="left:171.2px;top:268.4px;width:76.8px;height:10.6px;background:linear-gradient(90deg,#dcdcdc 0px 5.49px,#e2e2e2 5.49px 10.97px,#c7c7c7 10.97px 16.46px,#dddddd 16.46px 21.94px,#cdcdcd 21.94px 27.43px,#dadada 27.43px 32.91px,#d5d5d5 32.91px 38.4px,#c4c4c4 38.4px 43.89px,#d5d5d5 43.89px 49.37px,#cbcbcb 49.37px 54.86px,#c5c5c5 54.86px 60.34px,#dadada 60.34px 65.83px,#c8c8c8 65.83px 71.31px,#bfbfbf 71.31px 76.8px),linear-gradient(90deg,#cccccc 0px 5.49px,#d0d0d0 5.49px 10.97px,#e6e6e6 10.97px 16.46px,#dedede 16.46px 21.94px,#d6d6d6 21.94px 27.43px,#dcdcdc 27.43px 32.91px,#e3e3e3 32.91px 38.4px,#d8d8d8 38.4px 43.89px,#dbdbdb 43.89px 49.37px,#dddddd 49.37px 54.86px,#e8e8e8 54.86px 60.34px,#d1d1d1 60.34px 65.83px,#d7d7d7 65.83px 71.31px,#dadada 71.31px 76.8px);background-position:0 0px,0 5.3px;background-size:100% 5.3px,100% 5.3px;background-repeat:no-repeat"></div>
<span style="left:248.5px;top:263px;font-size:12px;line-height:20px;color:#333;letter-spacing:-0.22px;">om</span>
<span style="left:302.6px;top:263px;font-size:12px;line-height:20px;color:#333;letter-spacing:-0.22px;">CreateFirewall</span>
<span style="left:451.2px;top:263px;font-size:12px;line-height:20px;color:#333;letter-spacing:-0.22px;">7</span>
<div style="left:454.5px;top:265.05px;width:61.5px;height:15.9px;background:linear-gradient(90deg,#e6e6e6 0px 5.12px,#d2d2d2 5.12px 10.25px,#e8e8e8 10.25px 15.38px,#d3d3d3 15.38px 20.5px,#d4d4d4 20.5px 25.62px,#dadada 25.62px 30.75px,#d1d1d1 30.75px 35.88px,#eaeaea 35.88px 41px,#e9e9e9 41px 46.12px,#d5d5d5 46.12px 51.25px,#e0e0e0 51.25px 56.38px,#d7d7d7 56.38px 61.5px),linear-gradient(90deg,#a8a8a8 0px 5.12px,#d3d3d3 5.12px 10.25px,#b2b2b2 10.25px 15.38px,#afafaf 15.38px 20.5px,#c4c4c4 20.5px 25.62px,#ababab 25.62px 30.75px,#c4c4c4 30.75px 35.88px,#c5c5c5 35.88px 41px,#d5d5d5 41px 46.12px,#bababa 46.12px 51.25px,#cccccc 51.25px 56.38px,#cfcfcf 56.38px 61.5px),linear-gradient(90deg,#dddddd 0px 5.12px,#dcdcdc 5.12px 10.25px,#e7e7e7 10.25px 15.38px,#e1e1e1 15.38px 20.5px,#dddddd 20.5px 25.62px,#e7e7e7 25.62px 30.75px,#dbdbdb 30.75px 35.88px,#dbdbdb 35.88px 41px,#ebebeb 41px 46.12px,#ededed 46.12px 51.25px,#e2e2e2 51.25px 56.38px,#efefef 56.38px 61.5px);background-position:0 0px,0 5.3px,0 10.6px;background-size:100% 5.3px,100% 5.3px,100% 5.3px;background-repeat:no-repeat"></div>
<span style="left:516.5px;top:263px;font-size:12px;line-height:20px;color:#333;letter-spacing:-0.22px;">68</span>
<div style="left:601px;top:265.05px;width:70px;height:15.9px;background:linear-gradient(90deg,#d0d0d0 0px 5.38px,#e3e3e3 5.38px 10.77px,#e4e4e4 10.77px 16.15px,#dadada 16.15px 21.54px,#e0e0e0 21.54px 26.92px,#e7e7e7 26.92px 32.31px,#e1e1e1 32.31px 37.69px,#dedede 37.69px 43.08px,#e5e5e5 43.08px 48.46px,#d0d0d0 48.46px 53.85px,#e0e0e0 53.85px 59.23px,#e0e0e0 59.23px 64.62px,#e1e1e1 64.62px 70px),linear-gradient(90deg,#d2d2d2 0px 5.38px,#bbbbbb 5.38px 10.77px,#afafaf 10.77px 16.15px,#c7c7c7 16.15px 21.54px,#c5c5c5 21.54px 26.92px,#aaaaaa 26.92px 32.31px,#d0d0d0 32.31px 37.69px,#acacac 37.69px 43.08px,#b9b9b9 43.08px 48.46px,#d9d9d9 48.46px 53.85px,#c3c3c3 53.85px 59.23px,#aeaeae 59.23px 64.62px,#cecece 64.62px 70px),linear-gradient(90deg,#efefef 0px 5.38px,#e2e2e2 5.38px 10.77px,#eeeeee 10.77px 16.15px,#e8e8e8 16.15px 21.54px,#e2e2e2 21.54px 26.92px,#f0f0f0 26.92px 32.31px,#eeeeee 32.31px 37.69px,#e8e8e8 37.69px 43.08px,#e8e8e8 43.08px 48.46px,#e1e1e1 48.46px 53.85px,#ebebeb 53.85px 59.23px,#e6e6e6 59.23px 64.62px,#e5e5e5 64.62px 70px);background-position:0 0px,0 5.3px,0 10.6px;background-size:100% 5.3px,100% 5.3px,100% 5.3px;background-repeat:no-repeat"></div>
<span style="left:671.5px;top:263px;font-size:12px;line-height:20px;color:#333;letter-spacing:-0.22px;">4</span>
<div style="left:748px;top:265.05px;width:26px;height:15.9px;background:linear-gradient(90deg,#dbdbdb 0px 5.2px,#e7e7e7 5.2px 10.4px,#d3d3d3 10.4px 15.6px,#e8e8e8 15.6px 20.8px,#d5d5d5 20.8px 26px),linear-gradient(90deg,#b6b6b6 0px 5.2px,#bbbbbb 5.2px 10.4px,#b3b3b3 10.4px 15.6px,#cbcbcb 15.6px 20.8px,#b1b1b1 20.8px 26px),linear-gradient(90deg,#f0f0f0 0px 5.2px,#dbdbdb 5.2px 10.4px,#dfdfdf 10.4px 15.6px,#e6e6e6 15.6px 20.8px,#dddddd 20.8px 26px);background-position:0 0px,0 5.3px,0 10.6px;background-size:100% 5.3px,100% 5.3px,100% 5.3px;background-repeat:no-repeat"></div>
</div>
<div style="left:1590px;top:523.3px;width:25px;height:290px;background:#f1f1f1"></div>
<svg style="left:1597px;top:533.8px" width="11" height="6"><polygon points="5.5,0 11,6 0,6" fill="#a3a3a3"/></svg>
<div style="left:1592px;top:547.9px;width:21px;height:96.1px;background:#c1c1c1"></div>
<svg style="left:1597px;top:796.8px" width="11" height="6"><polygon points="0,0 11,0 5.5,6" fill="#505050"/></svg>
<div style="left:719px;top:813.3px;width:871px;height:24.7px;background:#f1f1f1"></div>
<svg style="left:727.8px;top:820.15px" width="6" height="11"><polygon points="6,0 6,11 0,5.5" fill="#a3a3a3"/></svg>
<div style="left:744.2px;top:815.3px;width:801.5px;height:20.7px;background:#c1c1c1"></div>
<svg style="left:1574.5px;top:820.15px" width="6" height="11"><polygon points="0,0 6,5.5 0,11" fill="#505050"/></svg>
<div style="left:1590px;top:813.3px;width:25px;height:24.7px;background:#dcdcdc"></div>
<span style="left:1404px;top:849.4px;font-size:11.5px;line-height:20px;color:#333;">Total:100</span>
<span style="left:1470.8px;top:848.4px;font-size:10.5px;line-height:20px;color:#bdbdbd;">&lt;</span>
<div style="left:1501.4px;top:845.1px;width:49.5px;height:25.3px;border:1px solid #d9d9d9;border-radius:3px;background:#fff;box-sizing:border-box"></div>
<span style="left:1516.2px;top:848.4px;font-size:12px;line-height:20px;color:#333;">1</span>
<span style="left:1554px;top:848.4px;font-size:12px;line-height:20px;color:#333;">/ 5</span>
<span style="left:1594px;top:848.4px;font-size:10.5px;line-height:20px;color:#1890ff;">&gt;</span>
<div style="left:711px;top:891px;width:899px;height:449px;border:1px solid #d5d9df;border-radius:3px;background:#fff;box-sizing:border-box"></div>
<span style="left:720.2px;top:898px;font-size:13.5px;line-height:20px;color:#333;font-weight:700;">Security Group Change Event List</span>
<span style="left:948.8px;top:899px;font-size:11.3px;line-height:20px;color:#a8a8a8;">1 Week(Relative)</span>
<div style="left:1597.1px;top:902px;width:3px;height:3px;background:#111;border-radius:50%"></div>
<div style="left:1597.1px;top:906.5px;width:3px;height:3px;background:#111;border-radius:50%"></div>
<div style="left:1597.1px;top:911px;width:3px;height:3px;background:#111;border-radius:50%"></div>
<div style="left:712px;top:924.3px;width:897px;height:412.9px;border:1px solid #e8e8e8;border-bottom-color:#e3e3e3;box-sizing:border-box;background:#fff"></div>
<div style="left:713px;top:925.3px;width:889px;height:33px;background:#fafafa"></div>
<div style="left:713px;top:958.3px;width:895px;height:1px;background:#e8e8e8"></div>
<div style="left:860px;top:925.3px;width:1px;height:33px;background:#e8e8e8"></div>
<div style="left:1008.5px;top:925.3px;width:1px;height:33px;background:#e8e8e8"></div>
<div style="left:1157px;top:925.3px;width:1px;height:33px;background:#e8e8e8"></div>
<div style="left:1305.5px;top:925.3px;width:1px;height:33px;background:#e8e8e8"></div>
<div style="left:1454px;top:925.3px;width:1px;height:33px;background:#e8e8e8"></div>
<span style="left:718px;top:932.3px;font-size:11.5px;line-height:20px;color:#222;font-weight:700;">Time</span>
<svg style="left:830px;top:938.8px" width="7" height="4"><polygon points="3.5,0 7,4 0,4" fill="#bfbfbf"/></svg>
<svg style="left:830px;top:945.2px" width="7" height="4.2"><polygon points="0,0 7,0 3.5,4.2" fill="#bfbfbf"/></svg>
<svg style="left:840.5px;top:939.6px" width="14" height="14" viewBox="0 0 14 14"><circle cx="5" cy="5" r="3.6" fill="none" stroke="#c4c4c4" stroke-width="1"/><line x1="7.5" y1="7.5" x2="12.2" y2="12.2" stroke="#c4c4c4" stroke-width="1.1"/></svg>
<span style="left:866.5px;top:932.3px;font-size:11.5px;line-height:20px;color:#222;font-weight:700;">Event Source</span>
<svg style="left:978.5px;top:938.8px" width="7" height="4"><polygon points="3.5,0 7,4 0,4" fill="#bfbfbf"/></svg>
<svg style="left:978.5px;top:945.2px" width="7" height="4.2"><polygon points="0,0 7,0 3.5,4.2" fill="#bfbfbf"/></svg>
<svg style="left:989px;top:939.6px" width="14" height="14" viewBox="0 0 14 14"><circle cx="5" cy="5" r="3.6" fill="none" stroke="#c4c4c4" stroke-width="1"/><line x1="7.5" y1="7.5" x2="12.2" y2="12.2" stroke="#c4c4c4" stroke-width="1.1"/></svg>
<span style="left:1015px;top:932.3px;font-size:11.5px;line-height:20px;color:#222;font-weight:700;">Event Name</span>
<svg style="left:1127px;top:938.8px" width="7" height="4"><polygon points="3.5,0 7,4 0,4" fill="#bfbfbf"/></svg>
<svg style="left:1127px;top:945.2px" width="7" height="4.2"><polygon points="0,0 7,0 3.5,4.2" fill="#bfbfbf"/></svg>
<svg style="left:1137.5px;top:939.6px" width="14" height="14" viewBox="0 0 14 14"><circle cx="5" cy="5" r="3.6" fill="none" stroke="#c4c4c4" stroke-width="1"/><line x1="7.5" y1="7.5" x2="12.2" y2="12.2" stroke="#c4c4c4" stroke-width="1.1"/></svg>
<span style="left:1163.5px;top:932.3px;font-size:11.5px;line-height:20px;color:#222;font-weight:700;">Account ID</span>
<svg style="left:1275.5px;top:938.8px" width="7" height="4"><polygon points="3.5,0 7,4 0,4" fill="#bfbfbf"/></svg>
<svg style="left:1275.5px;top:945.2px" width="7" height="4.2"><polygon points="0,0 7,0 3.5,4.2" fill="#bfbfbf"/></svg>
<svg style="left:1286px;top:939.6px" width="14" height="14" viewBox="0 0 14 14"><circle cx="5" cy="5" r="3.6" fill="none" stroke="#c4c4c4" stroke-width="1"/><line x1="7.5" y1="7.5" x2="12.2" y2="12.2" stroke="#c4c4c4" stroke-width="1.1"/></svg>
<span style="left:1312px;top:932.3px;font-size:11.5px;line-height:20px;color:#222;font-weight:700;">Source IP</span>
<svg style="left:1424px;top:938.8px" width="7" height="4"><polygon points="3.5,0 7,4 0,4" fill="#bfbfbf"/></svg>
<svg style="left:1424px;top:945.2px" width="7" height="4.2"><polygon points="0,0 7,0 3.5,4.2" fill="#bfbfbf"/></svg>
<svg style="left:1434.5px;top:939.6px" width="14" height="14" viewBox="0 0 14 14"><circle cx="5" cy="5" r="3.6" fill="none" stroke="#c4c4c4" stroke-width="1"/><line x1="7.5" y1="7.5" x2="12.2" y2="12.2" stroke="#c4c4c4" stroke-width="1.1"/></svg>
<span style="left:1460.5px;top:932.3px;font-size:11.5px;line-height:20px;color:#222;font-weight:700;">Access Region</span>
<svg style="left:1572.5px;top:938.8px" width="7" height="4"><polygon points="3.5,0 7,4 0,4" fill="#bfbfbf"/></svg>
<svg style="left:1572.5px;top:945.2px" width="7" height="4.2"><polygon points="0,0 7,0 3.5,4.2" fill="#bfbfbf"/></svg>
<svg style="left:1583px;top:939.6px" width="14" height="14" viewBox="0 0 14 14"><circle cx="5" cy="5" r="3.6" fill="none" stroke="#c4c4c4" stroke-width="1"/><line x1="7.5" y1="7.5" x2="12.2" y2="12.2" stroke="#c4c4c4" stroke-width="1.1"/></svg>
<div class="clip" style="left:713px;top:959.3px;width:895px;height:313.8px">
<div style="left:0px;top:-0.8px;width:896px;height:52.4px;background:#f6f6f6"></div>
<div style="left:0px;top:50.6px;width:896px;height:1px;background:#f0f0f0"></div>
<div style="left:147px;top:-0.8px;width:1px;height:52.4px;background:#f0f0f0"></div>
<div style="left:295.5px;top:-0.8px;width:1px;height:52.4px;background:#f0f0f0"></div>
<div style="left:444px;top:-0.8px;width:1px;height:52.4px;background:#f0f0f0"></div>
<div style="left:592.5px;top:-0.8px;width:1px;height:52.4px;background:#f0f0f0"></div>
<div style="left:741px;top:-0.8px;width:1px;height:52.4px;background:#f0f0f0"></div>
<span style="left:4.7px;top:7.7px;font-size:12px;line-height:20px;color:#333;letter-spacing:-0.22px;">2022-04-18 12:02:46.000</span>
<span style="left:153.2px;top:7.7px;font-size:12px;line-height:20px;color:#333;letter-spacing:-0.22px;">ec2.a</span>
<div style="left:179.6px;top:13.1px;width:73.4px;height:10.6px;background:linear-gradient(90deg,#cccccc 0px 5.24px,#d5d5d5 5.24px 10.49px,#c4c4c4 10.49px 15.73px,#c3c3c3 15.73px 20.97px,#cdcdcd 20.97px 26.21px,#d3d3d3 26.21px 31.46px,#c1c1c1 31.46px 36.7px,#c8c8c8 36.7px 41.94px,#dadada 41.94px 47.19px,#cccccc 47.19px 52.43px,#e1e1e1 52.43px 57.67px,#d9d9d9 57.67px 62.91px,#dfdfdf 62.91px 68.16px,#d0d0d0 68.16px 73.4px),linear-gradient(90deg,#dcdcdc 0px 5.24px,#d3d3d3 5.24px 10.49px,#e8e8e8 10.49px 15.73px,#cbcbcb 15.73px 20.97px,#e1e1e1 20.97px 26.21px,#e5e5e5 26.21px 31.46px,#d9d9d9 31.46px 36.7px,#e9e9e9 36.7px 41.94px,#dadada 41.94px 47.19px,#c7c7c7 47.19px 52.43px,#e5e5e5 52.43px 57.67px,#d1d1d1 57.67px 62.91px,#c9c9c9 62.91px 68.16px,#e7e7e7 68.16px 73.4px);background-position:0 0px,0 5.3px;background-size:100% 5.3px,100% 5.3px;background-repeat:no-repeat"></div>
<span style="left:253.5px;top:7.7px;font-size:12px;line-height:20px;color:#333;letter-spacing:-0.22px;">m</span>
<span style="left:301.7px;top:7.7px;font-size:12px;line-height:20px;color:#333;letter-spacing:-0.22px;">AuthorizeSecurityGroupE</span>
<span style="left:301.7px;top:22.9px;font-size:12px;line-height:20px;color:#333;letter-spacing:-0.22px;">gress</span>
<span style="left:450.2px;top:7.7px;font-size:12px;line-height:20px;color:#333;letter-spacing:-0.22px;">72</span>
<div style="left:463.6px;top:9.75px;width:64.6px;height:15.9px;background:linear-gradient(90deg,#e8e8e8 0px 5.38px,#dddddd 5.38px 10.77px,#e5e5e5 10.77px 16.15px,#e8e8e8 16.15px 21.53px,#d3d3d3 21.53px 26.92px,#dcdcdc 26.92px 32.3px,#dbdbdb 32.3px 37.68px,#d2d2d2 37.68px 43.07px,#dedede 43.07px 48.45px,#d5d5d5 48.45px 53.83px,#e1e1e1 53.83px 59.22px,#dddddd 59.22px 64.6px),linear-gradient(90deg,#b0b0b0 0px 5.38px,#b6b6b6 5.38px 10.77px,#d2d2d2 10.77px 16.15px,#b7b7b7 16.15px 21.53px,#bfbfbf 21.53px 26.92px,#d3d3d3 26.92px 32.3px,#c7c7c7 32.3px 37.68px,#b4b4b4 37.68px 43.07px,#d3d3d3 43.07px 48.45px,#d2d2d2 48.45px 53.83px,#bfbfbf 53.83px 59.22px,#b6b6b6 59.22px 64.6px),linear-gradient(90deg,#e8e8e8 0px 5.38px,#dfdfdf 5.38px 10.77px,#dbdbdb 10.77px 16.15px,#efefef 16.15px 21.53px,#e9e9e9 21.53px 26.92px,#dedede 26.92px 32.3px,#e8e8e8 32.3px 37.68px,#f0f0f0 37.68px 43.07px,#f0f0f0 43.07px 48.45px,#e7e7e7 48.45px 53.83px,#f0f0f0 53.83px 59.22px,#e0e0e0 59.22px 64.6px);background-position:0 0px,0 5.3px,0 10.6px;background-size:100% 5.3px,100% 5.3px,100% 5.3px;background-repeat:no-repeat"></div>
<div style="left:598.9px;top:9.75px;width:79.3px;height:15.9px;background:linear-gradient(90deg,#d0d0d0 0px 5.29px,#e6e6e6 5.29px 10.57px,#d7d7d7 10.57px 15.86px,#e9e9e9 15.86px 21.15px,#e0e0e0 21.15px 26.43px,#e8e8e8 26.43px 31.72px,#e9e9e9 31.72px 37.01px,#d4d4d4 37.01px 42.29px,#d1d1d1 42.29px 47.58px,#dddddd 47.58px 52.87px,#d4d4d4 52.87px 58.15px,#e0e0e0 58.15px 63.44px,#d6d6d6 63.44px 68.73px,#d6d6d6 68.73px 74.01px,#e3e3e3 74.01px 79.3px),linear-gradient(90deg,#ababab 0px 5.29px,#cbcbcb 5.29px 10.57px,#cfcfcf 10.57px 15.86px,#dadada 15.86px 21.15px,#d4d4d4 21.15px 26.43px,#d8d8d8 26.43px 31.72px,#c1c1c1 31.72px 37.01px,#aaaaaa 37.01px 42.29px,#c7c7c7 42.29px 47.58px,#cdcdcd 47.58px 52.87px,#b7b7b7 52.87px 58.15px,#cbcbcb 58.15px 63.44px,#aaaaaa 63.44px 68.73px,#bfbfbf 68.73px 74.01px,#c1c1c1 74.01px 79.3px),linear-gradient(90deg,#e3e3e3 0px 5.29px,#e9e9e9 5.29px 10.57px,#e9e9e9 10.57px 15.86px,#dedede 15.86px 21.15px,#e2e2e2 21.15px 26.43px,#dfdfdf 26.43px 31.72px,#dedede 31.72px 37.01px,#e9e9e9 37.01px 42.29px,#ececec 42.29px 47.58px,#e3e3e3 47.58px 52.87px,#eaeaea 52.87px 58.15px,#eaeaea 58.15px 63.44px,#ededed 63.44px 68.73px,#e7e7e7 68.73px 74.01px,#e0e0e0 74.01px 79.3px);background-position:0 0px,0 5.3px,0 10.6px;background-size:100% 5.3px,100% 5.3px,100% 5.3px;background-repeat:no-repeat"></div>
<div style="left:746.8px;top:9.75px;width:26.6px;height:15.9px;background:linear-gradient(90deg,#d9d9d9 0px 5.32px,#e3e3e3 5.32px 10.64px,#dadada 10.64px 15.96px,#d3d3d3 15.96px 21.28px,#e8e8e8 21.28px 26.6px),linear-gradient(90deg,#d2d2d2 0px 5.32px,#d1d1d1 5.32px 10.64px,#acacac 10.64px 15.96px,#b4b4b4 15.96px 21.28px,#d6d6d6 21.28px 26.6px),linear-gradient(90deg,#e2e2e2 0px 5.32px,#dbdbdb 5.32px 10.64px,#e9e9e9 10.64px 15.96px,#e8e8e8 15.96px 21.28px,#dedede 21.28px 26.6px);background-position:0 0px,0 5.3px,0 10.6px;background-size:100% 5.3px,100% 5.3px,100% 5.3px;background-repeat:no-repeat"></div>
<div style="left:0px;top:51.6px;width:896px;height:35.2px;background:#fff"></div>
<div style="left:0px;top:85.8px;width:896px;height:1px;background:#f0f0f0"></div>
<div style="left:147px;top:51.6px;width:1px;height:35.2px;background:#f3f3f3"></div>
<div style="left:295.5px;top:51.6px;width:1px;height:35.2px;background:#f3f3f3"></div>
<div style="left:444px;top:51.6px;width:1px;height:35.2px;background:#f3f3f3"></div>
<div style="left:592.5px;top:51.6px;width:1px;height:35.2px;background:#f3f3f3"></div>
<div style="left:741px;top:51.6px;width:1px;height:35.2px;background:#f3f3f3"></div>
<span style="left:4.7px;top:60.1px;font-size:12px;line-height:20px;color:#333;letter-spacing:-0.22px;">2022-04-18 12:02:46.000</span>
<span style="left:153.2px;top:60.1px;font-size:12px;line-height:20px;color:#333;letter-spacing:-0.22px;">ec2.a</span>
<div style="left:179.6px;top:65.5px;width:73.4px;height:10.6px;background:linear-gradient(90deg,#d9d9d9 0px 5.24px,#d0d0d0 5.24px 10.49px,#c5c5c5 10.49px 15.73px,#c7c7c7 15.73px 20.97px,#d6d6d6 20.97px 26.21px,#dddddd 26.21px 31.46px,#cfcfcf 31.46px 36.7px,#d2d2d2 36.7px 41.94px,#dddddd 41.94px 47.19px,#d6d6d6 47.19px 52.43px,#d8d8d8 52.43px 57.67px,#dbdbdb 57.67px 62.91px,#e2e2e2 62.91px 68.16px,#c2c2c2 68.16px 73.4px),linear-gradient(90deg,#e4e4e4 0px 5.24px,#cbcbcb 5.24px 10.49px,#d7d7d7 10.49px 15.73px,#dcdcdc 15.73px 20.97px,#cacaca 20.97px 26.21px,#dadada 26.21px 31.46px,#cacaca 31.46px 36.7px,#c5c5c5 36.7px 41.94px,#dedede 41.94px 47.19px,#e7e7e7 47.19px 52.43px,#e2e2e2 52.43px 57.67px,#e6e6e6 57.67px 62.91px,#d7d7d7 62.91px 68.16px,#d7d7d7 68.16px 73.4px);background-position:0 0px,0 5.3px;background-size:100% 5.3px,100% 5.3px;background-repeat:no-repeat"></div>
<span style="left:253.5px;top:60.1px;font-size:12px;line-height:20px;color:#333;letter-spacing:-0.22px;">m</span>
<span style="left:301.7px;top:60.1px;font-size:12px;line-height:20px;color:#333;letter-spacing:-0.22px;">DeleteSecurityGroup</span>
<span style="left:450.2px;top:60.1px;font-size:12px;line-height:20px;color:#333;letter-spacing:-0.22px;">72</span>
<div style="left:463.6px;top:62.15px;width:64.6px;height:15.9px;background:linear-gradient(90deg,#e9e9e9 0px 5.38px,#d1d1d1 5.38px 10.77px,#e8e8e8 10.77px 16.15px,#e8e8e8 16.15px 21.53px,#d6d6d6 21.53px 26.92px,#d2d2d2 26.92px 32.3px,#e1e1e1 32.3px 37.68px,#dcdcdc 37.68px 43.07px,#e9e9e9 43.07px 48.45px,#d5d5d5 48.45px 53.83px,#dddddd 53.83px 59.22px,#e7e7e7 59.22px 64.6px),linear-gradient(90deg,#bfbfbf 0px 5.38px,#cccccc 5.38px 10.77px,#d1d1d1 10.77px 16.15px,#d9d9d9 16.15px 21.53px,#c1c1c1 21.53px 26.92px,#d9d9d9 26.92px 32.3px,#cccccc 32.3px 37.68px,#b4b4b4 37.68px 43.07px,#cecece 43.07px 48.45px,#ababab 48.45px 53.83px,#a9a9a9 53.83px 59.22px,#d7d7d7 59.22px 64.6px),linear-gradient(90deg,#f0f0f0 0px 5.38px,#e9e9e9 5.38px 10.77px,#f0f0f0 10.77px 16.15px,#f0f0f0 16.15px 21.53px,#eeeeee 21.53px 26.92px,#ededed 26.92px 32.3px,#e0e0e0 32.3px 37.68px,#eaeaea 37.68px 43.07px,#ededed 43.07px 48.45px,#dedede 48.45px 53.83px,#dadada 53.83px 59.22px,#ececec 59.22px 64.6px);background-position:0 0px,0 5.3px,0 10.6px;background-size:100% 5.3px,100% 5.3px,100% 5.3px;background-repeat:no-repeat"></div>
<div style="left:598.9px;top:62.15px;width:79.3px;height:15.9px;background:linear-gradient(90deg,#dbdbdb 0px 5.29px,#eaeaea 5.29px 10.57px,#dddddd 10.57px 15.86px,#dbdbdb 15.86px 21.15px,#d6d6d6 21.15px 26.43px,#d5d5d5 26.43px 31.72px,#d5d5d5 31.72px 37.01px,#d4d4d4 37.01px 42.29px,#e4e4e4 42.29px 47.58px,#e1e1e1 47.58px 52.87px,#d4d4d4 52.87px 58.15px,#e7e7e7 58.15px 63.44px,#e3e3e3 63.44px 68.73px,#e7e7e7 68.73px 74.01px,#dcdcdc 74.01px 79.3px),linear-gradient(90deg,#b1b1b1 0px 5.29px,#b6b6b6 5.29px 10.57px,#bababa 10.57px 15.86px,#afafaf 15.86px 21.15px,#c1c1c1 21.15px 26.43px,#c9c9c9 26.43px 31.72px,#b9b9b9 31.72px 37.01px,#cfcfcf 37.01px 42.29px,#c9c9c9 42.29px 47.58px,#d5d5d5 47.58px 52.87px,#b5b5b5 52.87px 58.15px,#b4b4b4 58.15px 63.44px,#bbbbbb 63.44px 68.73px,#ababab 68.73px 74.01px,#bbbbbb 74.01px 79.3px),linear-gradient(90deg,#dbdbdb 0px 5.29px,#eaeaea 5.29px 10.57px,#ededed 10.57px 15.86px,#ededed 15.86px 21.15px,#e5e5e5 21.15px 26.43px,#ededed 26.43px 31.72px,#dadada 31.72px 37.01px,#eeeeee 37.01px 42.29px,#e7e7e7 42.29px 47.58px,#e0e0e0 47.58px 52.87px,#e0e0e0 52.87px 58.15px,#dcdcdc 58.15px 63.44px,#dadada 63.44px 68.73px,#dcdcdc 68.73px 74.01px,#efefef 74.01px 79.3px);background-position:0 0px,0 5.3px,0 10.6px;background-size:100% 5.3px,100% 5.3px,100% 5.3px;background-repeat:no-repeat"></div>
<div style="left:746.8px;top:62.15px;width:26.6px;height:15.9px;background:linear-gradient(90deg,#d6d6d6 0px 5.32px,#d5d5d5 5.32px 10.64px,#dbdbdb 10.64px 15.96px,#d4d4d4 15.96px 21.28px,#dcdcdc 21.28px 26.6px),linear-gradient(90deg,#c4c4c4 0px 5.32px,#aaaaaa 5.32px 10.64px,#c2c2c2 10.64px 15.96px,#aaaaaa 15.96px 21.28px,#afafaf 21.28px 26.6px),linear-gradient(90deg,#e3e3e3 0px 5.32px,#e7e7e7 5.32px 10.64px,#e0e0e0 10.64px 15.96px,#e2e2e2 15.96px 21.28px,#e2e2e2 21.28px 26.6px);background-position:0 0px,0 5.3px,0 10.6px;background-size:100% 5.3px,100% 5.3px,100% 5.3px;background-repeat:no-repeat"></div>
<div style="left:0px;top:86.8px;width:896px;height:52.4px;background:#f6f6f6"></div>
<div style="left:0px;top:138.2px;width:896px;height:1px;background:#f0f0f0"></div>
<div style="left:147px;top:86.8px;width:1px;height:52.4px;background:#f0f0f0"></div>
<div style="left:295.5px;top:86.8px;width:1px;height:52.4px;background:#f0f0f0"></div>
<div style="left:444px;top:86.8px;width:1px;height:52.4px;background:#f0f0f0"></div>
<div style="left:592.5px;top:86.8px;width:1px;height:52.4px;background:#f0f0f0"></div>
<div style="left:741px;top:86.8px;width:1px;height:52.4px;background:#f0f0f0"></div>
<span style="left:4.7px;top:95.3px;font-size:12px;line-height:20px;color:#333;letter-spacing:-0.22px;">2022-04-18 12:02:46.000</span>
<span style="left:153.2px;top:95.3px;font-size:12px;line-height:20px;color:#333;letter-spacing:-0.22px;">ec2.a</span>
<div style="left:179.6px;top:100.7px;width:73.4px;height:10.6px;background:linear-gradient(90deg,#cfcfcf 0px 5.24px,#d7d7d7 5.24px 10.49px,#dcdcdc 10.49px 15.73px,#c2c2c2 15.73px 20.97px,#c7c7c7 20.97px 26.21px,#e0e0e0 26.21px 31.46px,#e2e2e2 31.46px 36.7px,#cacaca 36.7px 41.94px,#dfdfdf 41.94px 47.19px,#c7c7c7 47.19px 52.43px,#dedede 52.43px 57.67px,#d1d1d1 57.67px 62.91px,#d3d3d3 62.91px 68.16px,#dbdbdb 68.16px 73.4px),linear-gradient(90deg,#d5d5d5 0px 5.24px,#e4e4e4 5.24px 10.49px,#cecece 10.49px 15.73px,#cecece 15.73px 20.97px,#eaeaea 20.97px 26.21px,#d7d7d7 26.21px 31.46px,#dfdfdf 31.46px 36.7px,#d5d5d5 36.7px 41.94px,#d9d9d9 41.94px 47.19px,#d1d1d1 47.19px 52.43px,#dfdfdf 52.43px 57.67px,#d7d7d7 57.67px 62.91px,#cfcfcf 62.91px 68.16px,#c6c6c6 68.16px 73.4px);background-position:0 0px,0 5.3px;background-size:100% 5.3px,100% 5.3px;background-repeat:no-repeat"></div>
<span style="left:253.5px;top:95.3px;font-size:12px;line-height:20px;color:#333;letter-spacing:-0.22px;">m</span>
<span style="left:301.7px;top:95.3px;font-size:12px;line-height:20px;color:#333;letter-spacing:-0.22px;">AuthorizeSecurityGroupE</span>
<span style="left:301.7px;top:110.5px;font-size:12px;line-height:20px;color:#333;letter-spacing:-0.22px;">gress</span>
<span style="left:450.2px;top:95.3px;font-size:12px;line-height:20px;color:#333;letter-spacing:-0.22px;">72</span>
<div style="left:463.6px;top:97.35px;width:64.6px;height:15.9px;background:linear-gradient(90deg,#e0e0e0 0px 5.38px,#e3e3e3 5.38px 10.77px,#dddddd 10.77px 16.15px,#d7d7d7 16.15px 21.53px,#d4d4d4 21.53px 26.92px,#d4d4d4 26.92px 32.3px,#d8d8d8 32.3px 37.68px,#dfdfdf 37.68px 43.07px,#d4d4d4 43.07px 48.45px,#e4e4e4 48.45px 53.83px,#e2e2e2 53.83px 59.22px,#e3e3e3 59.22px 64.6px),linear-gradient(90deg,#adadad 0px 5.38px,#d5d5d5 5.38px 10.77px,#c3c3c3 10.77px 16.15px,#c8c8c8 16.15px 21.53px,#ababab 21.53px 26.92px,#b7b7b7 26.92px 32.3px,#b6b6b6 32.3px 37.68px,#dadada 37.68px 43.07px,#aaaaaa 43.07px 48.45px,#c2c2c2 48.45px 53.83px,#a9a9a9 53.83px 59.22px,#cccccc 59.22px 64.6px),linear-gradient(90deg,#ebebeb 0px 5.38px,#efefef 5.38px 10.77px,#dedede 10.77px 16.15px,#ececec 16.15px 21.53px,#dfdfdf 21.53px 26.92px,#e3e3e3 26.92px 32.3px,#e8e8e8 32.3px 37.68px,#eeeeee 37.68px 43.07px,#eeeeee 43.07px 48.45px,#e2e2e2 48.45px 53.83px,#dcdcdc 53.83px 59.22px,#eaeaea 59.22px 64.6px);background-position:0 0px,0 5.3px,0 10.6px;background-size:100% 5.3px,100% 5.3px,100% 5.3px;background-repeat:no-repeat"></div>
<div style="left:598.9px;top:97.35px;width:79.3px;height:15.9px;background:linear-gradient(90deg,#e7e7e7 0px 5.29px,#dbdbdb 5.29px 10.57px,#d4d4d4 10.57px 15.86px,#e4e4e4 15.86px 21.15px,#e6e6e6 21.15px 26.43px,#e3e3e3 26.43px 31.72px,#e8e8e8 31.72px 37.01px,#e0e0e0 37.01px 42.29px,#dddddd 42.29px 47.58px,#dddddd 47.58px 52.87px,#d5d5d5 52.87px 58.15px,#d6d6d6 58.15px 63.44px,#e9e9e9 63.44px 68.73px,#d9d9d9 68.73px 74.01px,#e7e7e7 74.01px 79.3px),linear-gradient(90deg,#d3d3d3 0px 5.29px,#b2b2b2 5.29px 10.57px,#b8b8b8 10.57px 15.86px,#d2d2d2 15.86px 21.15px,#cfcfcf 21.15px 26.43px,#cacaca 26.43px 31.72px,#c5c5c5 31.72px 37.01px,#d6d6d6 37.01px 42.29px,#bbbbbb 42.29px 47.58px,#c7c7c7 47.58px 52.87px,#acacac 52.87px 58.15px,#d5d5d5 58.15px 63.44px,#d9d9d9 63.44px 68.73px,#b8b8b8 68.73px 74.01px,#d3d3d3 74.01px 79.3px),linear-gradient(90deg,#dddddd 0px 5.29px,#e3e3e3 5.29px 10.57px,#ececec 10.57px 15.86px,#f0f0f0 15.86px 21.15px,#e0e0e0 21.15px 26.43px,#dddddd 26.43px 31.72px,#dddddd 31.72px 37.01px,#dbdbdb 37.01px 42.29px,#dbdbdb 42.29px 47.58px,#ededed 47.58px 52.87px,#eaeaea 52.87px 58.15px,#e3e3e3 58.15px 63.44px,#eeeeee 63.44px 68.73px,#e1e1e1 68.73px 74.01px,#e0e0e0 74.01px 79.3px);background-position:0 0px,0 5.3px,0 10.6px;background-size:100% 5.3px,100% 5.3px,100% 5.3px;background-repeat:no-repeat"></div>
<div style="left:746.8px;top:97.35px;width:26.6px;height:15.9px;background:linear-gradient(90deg,#d9d9d9 0px 5.32px,#dfdfdf 5.32px 10.64px,#dddddd 10.64px 15.96px,#e5e5e5 15.96px 21.28px,#d6d6d6 21.28px 26.6px),linear-gradient(90deg,#ababab 0px 5.32px,#c3c3c3 5.32px 10.64px,#bbbbbb 10.64px 15.96px,#bababa 15.96px 21.28px,#bebebe 21.28px 26.6px),linear-gradient(90deg,#dadada 0px 5.32px,#f0f0f0 5.32px 10.64px,#eaeaea 10.64px 15.96px,#dfdfdf 15.96px 21.28px,#e8e8e8 21.28px 26.6px);background-position:0 0px,0 5.3px,0 10.6px;background-size:100% 5.3px,100% 5.3px,100% 5.3px;background-repeat:no-repeat"></div>
<div style="left:0px;top:139.2px;width:896px;height:52.4px;background:#fff"></div>
<div style="left:0px;top:190.6px;width:896px;height:1px;background:#f0f0f0"></div>
<div style="left:147px;top:139.2px;width:1px;height:52.4px;background:#f3f3f3"></div>
<div style="left:295.5px;top:139.2px;width:1px;height:52.4px;background:#f3f3f3"></div>
<div style="left:444px;top:139.2px;width:1px;height:52.4px;background:#f3f3f3"></div>
<div style="left:592.5px;top:139.2px;width:1px;height:52.4px;background:#f3f3f3"></div>
<div style="left:741px;top:139.2px;width:1px;height:52.4px;background:#f3f3f3"></div>
<span style="left:4.7px;top:147.7px;font-size:12px;line-height:20px;color:#333;letter-spacing:-0.22px;">2022-04-18 12:02:36.000</span>
<span style="left:153.2px;top:147.7px;font-size:12px;line-height:20px;color:#333;letter-spacing:-0.22px;">ec2.a</span>
<div style="left:179.6px;top:153.1px;width:73.4px;height:10.6px;background:linear-gradient(90deg,#c0c0c0 0px 5.24px,#c3c3c3 5.24px 10.49px,#d0d0d0 10.49px 15.73px,#dadada 15.73px 20.97px,#c9c9c9 20.97px 26.21px,#e1e1e1 26.21px 31.46px,#cacaca 31.46px 36.7px,#cacaca 36.7px 41.94px,#d7d7d7 41.94px 47.19px,#d7d7d7 47.19px 52.43px,#c3c3c3 52.43px 57.67px,#cdcdcd 57.67px 62.91px,#cecece 62.91px 68.16px,#dbdbdb 68.16px 73.4px),linear-gradient(90deg,#dbdbdb 0px 5.24px,#cbcbcb 5.24px 10.49px,#c9c9c9 10.49px 15.73px,#dbdbdb 15.73px 20.97px,#e3e3e3 20.97px 26.21px,#d7d7d7 26.21px 31.46px,#d6d6d6 31.46px 36.7px,#c7c7c7 36.7px 41.94px,#d5d5d5 41.94px 47.19px,#c8c8c8 47.19px 52.43px,#dddddd 52.43px 57.67px,#e2e2e2 57.67px 62.91px,#cfcfcf 62.91px 68.16px,#e6e6e6 68.16px 73.4px);background-position:0 0px,0 5.3px;background-size:100% 5.3px,100% 5.3px;background-repeat:no-repeat"></div>
<span style="left:253.5px;top:147.7px;font-size:12px;line-height:20px;color:#333;letter-spacing:-0.22px;">m</span>
<span style="left:301.7px;top:147.7px;font-size:12px;line-height:20px;color:#333;letter-spacing:-0.22px;">AuthorizeSecurityGroupE</span>
<span style="left:301.7px;top:162.9px;font-size:12px;line-height:20px;color:#333;letter-spacing:-0.22px;">gress</span>
<span style="left:450.2px;top:147.7px;font-size:12px;line-height:20px;color:#333;letter-spacing:-0.22px;">72</span>
<div style="left:463.6px;top:149.75px;width:64.6px;height:15.9px;background:linear-gradient(90deg,#dfdfdf 0px 5.38px,#e1e1e1 5.38px 10.77px,#dbdbdb 10.77px 16.15px,#d7d7d7 16.15px 21.53px,#e7e7e7 21.53px 26.92px,#dedede 26.92px 32.3px,#dedede 32.3px 37.68px,#e1e1e1 37.68px 43.07px,#dedede 43.07px 48.45px,#dcdcdc 48.45px 53.83px,#d0d0d0 53.83px 59.22px,#e6e6e6 59.22px 64.6px),linear-gradient(90deg,#bdbdbd 0px 5.38px,#acacac 5.38px 10.77px,#c6c6c6 10.77px 16.15px,#c8c8c8 16.15px 21.53px,#c4c4c4 21.53px 26.92px,#c8c8c8 26.92px 32.3px,#adadad 32.3px 37.68px,#bababa 37.68px 43.07px,#bdbdbd 43.07px 48.45px,#cdcdcd 48.45px 53.83px,#c8c8c8 53.83px 59.22px,#d5d5d5 59.22px 64.6px),linear-gradient(90deg,#efefef 0px 5.38px,#f0f0f0 5.38px 10.77px,#dbdbdb 10.77px 16.15px,#eeeeee 16.15px 21.53px,#e1e1e1 21.53px 26.92px,#efefef 26.92px 32.3px,#ebebeb 32.3px 37.68px,#ebebeb 37.68px 43.07px,#dbdbdb 43.07px 48.45px,#e4e4e4 48.45px 53.83px,#e1e1e1 53.83px 59.22px,#efefef 59.22px 64.6px);background-position:0 0px,0 5.3px,0 10.6px;background-size:100% 5.3px,100% 5.3px,100% 5.3px;background-repeat:no-repeat"></div>
<div style="left:598.9px;top:149.75px;width:79.3px;height:15.9px;background:linear-gradient(90deg,#dcdcdc 0px 5.29px,#e5e5e5 5.29px 10.57px,#dfdfdf 10.57px 15.86px,#e5e5e5 15.86px 21.15px,#dedede 21.15px 26.43px,#d4d4d4 26.43px 31.72px,#e4e4e4 31.72px 37.01px,#e5e5e5 37.01px 42.29px,#d6d6d6 42.29px 47.58px,#d2d2d2 47.58px 52.87px,#e9e9e9 52.87px 58.15px,#d5d5d5 58.15px 63.44px,#d4d4d4 63.44px 68.73px,#dcdcdc 68.73px 74.01px,#e9e9e9 74.01px 79.3px),linear-gradient(90deg,#c8c8c8 0px 5.29px,#c2c2c2 5.29px 10.57px,#d0d0d0 10.57px 15.86px,#bebebe 15.86px 21.15px,#b1b1b1 21.15px 26.43px,#b8b8b8 26.43px 31.72px,#cccccc 31.72px 37.01px,#afafaf 37.01px 42.29px,#d3d3d3 42.29px 47.58px,#d4d4d4 47.58px 52.87px,#c4c4c4 52.87px 58.15px,#b0b0b0 58.15px 63.44px,#bcbcbc 63.44px 68.73px,#c5c5c5 68.73px 74.01px,#c5c5c5 74.01px 79.3px),linear-gradient(90deg,#eaeaea 0px 5.29px,#f0f0f0 5.29px 10.57px,#dedede 10.57px 15.86px,#efefef 15.86px 21.15px,#dbdbdb 21.15px 26.43px,#e5e5e5 26.43px 31.72px,#efefef 31.72px 37.01px,#e7e7e7 37.01px 42.29px,#e9e9e9 42.29px 47.58px,#dcdcdc 47.58px 52.87px,#ececec 52.87px 58.15px,#e9e9e9 58.15px 63.44px,#dadada 63.44px 68.73px,#e0e0e0 68.73px 74.01px,#efefef 74.01px 79.3px);background-position:0 0px,0 5.3px,0 10.6px;background-size:100% 5.3px,100% 5.3px,100% 5.3px;background-repeat:no-repeat"></div>
<div style="left:746.8px;top:149.75px;width:26.6px;height:15.9px;background:linear-gradient(90deg,#eaeaea 0px 5.32px,#d6d6d6 5.32px 10.64px,#dbdbdb 10.64px 15.96px,#d5d5d5 15.96px 21.28px,#e6e6e6 21.28px 26.6px),linear-gradient(90deg,#b8b8b8 0px 5.32px,#bebebe 5.32px 10.64px,#c6c6c6 10.64px 15.96px,#d8d8d8 15.96px 21.28px,#cbcbcb 21.28px 26.6px),linear-gradient(90deg,#f0f0f0 0px 5.32px,#e7e7e7 5.32px 10.64px,#ececec 10.64px 15.96px,#eeeeee 15.96px 21.28px,#e3e3e3 21.28px 26.6px);background-position:0 0px,0 5.3px,0 10.6px;background-size:100% 5.3px,100% 5.3px,100% 5.3px;background-repeat:no-repeat"></div>
<div style="left:0px;top:191.6px;width:896px;height:52.4px;background:#f6f6f6"></div>
<div style="left:0px;top:243px;width:896px;height:1px;background:#f0f0f0"></div>
<div style="left:147px;top:191.6px;width:1px;height:52.4px;background:#f0f0f0"></div>
<div style="left:295.5px;top:191.6px;width:1px;height:52.4px;background:#f0f0f0"></div>
<div style="left:444px;top:191.6px;width:1px;height:52.4px;background:#f0f0f0"></div>
<div style="left:592.5px;top:191.6px;width:1px;height:52.4px;background:#f0f0f0"></div>
<div style="left:741px;top:191.6px;width:1px;height:52.4px;background:#f0f0f0"></div>
<span style="left:4.7px;top:200.1px;font-size:12px;line-height:20px;color:#333;letter-spacing:-0.22px;">2022-04-18 12:02:36.000</span>
<span style="left:153.2px;top:200.1px;font-size:12px;line-height:20px;color:#333;letter-spacing:-0.22px;">ec2.a</span>
<div style="left:179.6px;top:205.5px;width:73.4px;height:10.6px;background:linear-gradient(90deg,#d0d0d0 0px 5.24px,#dedede 5.24px 10.49px,#d7d7d7 10.49px 15.73px,#c1c1c1 15.73px 20.97px,#d8d8d8 20.97px 26.21px,#dddddd 26.21px 31.46px,#dedede 31.46px 36.7px,#c0c0c0 36.7px 41.94px,#dddddd 41.94px 47.19px,#c3c3c3 47.19px 52.43px,#d6d6d6 52.43px 57.67px,#bfbfbf 57.67px 62.91px,#dcdcdc 62.91px 68.16px,#c6c6c6 68.16px 73.4px),linear-gradient(90deg,#d8d8d8 0px 5.24px,#e2e2e2 5.24px 10.49px,#e1e1e1 10.49px 15.73px,#e3e3e3 15.73px 20.97px,#e2e2e2 20.97px 26.21px,#cccccc 26.21px 31.46px,#d6d6d6 31.46px 36.7px,#d4d4d4 36.7px 41.94px,#c6c6c6 41.94px 47.19px,#d0d0d0 47.19px 52.43px,#eaeaea 52.43px 57.67px,#eaeaea 57.67px 62.91px,#d3d3d3 62.91px 68.16px,#c8c8c8 68.16px 73.4px);background-position:0 0px,0 5.3px;background-size:100% 5.3px,100% 5.3px;background-repeat:no-repeat"></div>
<span style="left:253.5px;top:200.1px;font-size:12px;line-height:20px;color:#333;letter-spacing:-0.22px;">m</span>
<span style="left:301.7px;top:200.1px;font-size:12px;line-height:20px;color:#333;letter-spacing:-0.22px;">AuthorizeSecurityGroupE</span>
<span style="left:301.7px;top:215.3px;font-size:12px;line-height:20px;color:#333;letter-spacing:-0.22px;">gress</span>
<span style="left:450.2px;top:200.1px;font-size:12px;line-height:20px;color:#333;letter-spacing:-0.22px;">72</span>
<div style="left:463.6px;top:202.15px;width:64.6px;height:15.9px;background:linear-gradient(90deg,#dddddd 0px 5.38px,#d3d3d3 5.38px 10.77px,#e7e7e7 10.77px 16.15px,#e3e3e3 16.15px 21.53px,#e1e1e1 21.53px 26.92px,#e6e6e6 26.92px 32.3px,#e5e5e5 32.3px 37.68px,#e0e0e0 37.68px 43.07px,#e4e4e4 43.07px 48.45px,#d6d6d6 48.45px 53.83px,#e8e8e8 53.83px 59.22px,#eaeaea 59.22px 64.6px),linear-gradient(90deg,#d9d9d9 0px 5.38px,#b5b5b5 5.38px 10.77px,#bdbdbd 10.77px 16.15px,#d1d1d1 16.15px 21.53px,#ababab 21.53px 26.92px,#d4d4d4 26.92px 32.3px,#d9d9d9 32.3px 37.68px,#d5d5d5 37.68px 43.07px,#b1b1b1 43.07px 48.45px,#cfcfcf 48.45px 53.83px,#bfbfbf 53.83px 59.22px,#acacac 59.22px 64.6px),linear-gradient(90deg,#eaeaea 0px 5.38px,#e1e1e1 5.38px 10.77px,#dadada 10.77px 16.15px,#dedede 16.15px 21.53px,#f0f0f0 21.53px 26.92px,#dadada 26.92px 32.3px,#dedede 32.3px 37.68px,#dedede 37.68px 43.07px,#dcdcdc 43.07px 48.45px,#eaeaea 48.45px 53.83px,#e4e4e4 53.83px 59.22px,#e7e7e7 59.22px 64.6px);background-position:0 0px,0 5.3px,0 10.6px;background-size:100% 5.3px,100% 5.3px,100% 5.3px;background-repeat:no-repeat"></div>
<div style="left:598.9px;top:202.15px;width:79.3px;height:15.9px;background:linear-gradient(90deg,#d8d8d8 0px 5.29px,#d9d9d9 5.29px 10.57px,#dadada 10.57px 15.86px,#d3d3d3 15.86px 21.15px,#d8d8d8 21.15px 26.43px,#eaeaea 26.43px 31.72px,#dadada 31.72px 37.01px,#d2d2d2 37.01px 42.29px,#dcdcdc 42.29px 47.58px,#d8d8d8 47.58px 52.87px,#e2e2e2 52.87px 58.15px,#dadada 58.15px 63.44px,#dedede 63.44px 68.73px,#d5d5d5 68.73px 74.01px,#e2e2e2 74.01px 79.3px),linear-gradient(90deg,#b5b5b5 0px 5.29px,#a8a8a8 5.29px 10.57px,#bcbcbc 10.57px 15.86px,#bababa 15.86px 21.15px,#aeaeae 21.15px 26.43px,#cbcbcb 26.43px 31.72px,#adadad 31.72px 37.01px,#bfbfbf 37.01px 42.29px,#ababab 42.29px 47.58px,#b9b9b9 47.58px 52.87px,#bababa 52.87px 58.15px,#c4c4c4 58.15px 63.44px,#c0c0c0 63.44px 68.73px,#d6d6d6 68.73px 74.01px,#c6c6c6 74.01px 79.3px),linear-gradient(90deg,#dcdcdc 0px 5.29px,#e6e6e6 5.29px 10.57px,#e2e2e2 10.57px 15.86px,#ececec 15.86px 21.15px,#dedede 21.15px 26.43px,#dbdbdb 26.43px 31.72px,#e1e1e1 31.72px 37.01px,#ececec 37.01px 42.29px,#ececec 42.29px 47.58px,#e4e4e4 47.58px 52.87px,#dadada 52.87px 58.15px,#dddddd 58.15px 63.44px,#e1e1e1 63.44px 68.73px,#dedede 68.73px 74.01px,#dadada 74.01px 79.3px);background-position:0 0px,0 5.3px,0 10.6px;background-size:100% 5.3px,100% 5.3px,100% 5.3px;background-repeat:no-repeat"></div>
<div style="left:746.8px;top:202.15px;width:26.6px;height:15.9px;background:linear-gradient(90deg,#dcdcdc 0px 5.32px,#e4e4e4 5.32px 10.64px,#dcdcdc 10.64px 15.96px,#e1e1e1 15.96px 21.28px,#d9d9d9 21.28px 26.6px),linear-gradient(90deg,#b7b7b7 0px 5.32px,#c3c3c3 5.32px 10.64px,#afafaf 10.64px 15.96px,#d4d4d4 15.96px 21.28px,#c1c1c1 21.28px 26.6px),linear-gradient(90deg,#e2e2e2 0px 5.32px,#dddddd 5.32px 10.64px,#f0f0f0 10.64px 15.96px,#e6e6e6 15.96px 21.28px,#e3e3e3 21.28px 26.6px);background-position:0 0px,0 5.3px,0 10.6px;background-size:100% 5.3px,100% 5.3px,100% 5.3px;background-repeat:no-repeat"></div>
<div style="left:0px;top:244px;width:896px;height:52.4px;background:#fff"></div>
<div style="left:0px;top:295.4px;width:896px;height:1px;background:#f0f0f0"></div>
<div style="left:147px;top:244px;width:1px;height:52.4px;background:#f3f3f3"></div>
<div style="left:295.5px;top:244px;width:1px;height:52.4px;background:#f3f3f3"></div>
<div style="left:444px;top:244px;width:1px;height:52.4px;background:#f3f3f3"></div>
<div style="left:592.5px;top:244px;width:1px;height:52.4px;background:#f3f3f3"></div>
<div style="left:741px;top:244px;width:1px;height:52.4px;background:#f3f3f3"></div>
<span style="left:4.7px;top:252.5px;font-size:12px;line-height:20px;color:#333;letter-spacing:-0.22px;">2022-04-18 12:02:26.000</span>
<span style="left:153.2px;top:252.5px;font-size:12px;line-height:20px;color:#333;letter-spacing:-0.22px;">ec2.a</span>
<div style="left:179.6px;top:257.9px;width:73.4px;height:10.6px;background:linear-gradient(90deg,#d4d4d4 0px 5.24px,#d4d4d4 5.24px 10.49px,#e0e0e0 10.49px 15.73px,#dcdcdc 15.73px 20.97px,#bfbfbf 20.97px 26.21px,#c6c6c6 26.21px 31.46px,#d6d6d6 31.46px 36.7px,#c6c6c6 36.7px 41.94px,#c0c0c0 41.94px 47.19px,#dfdfdf 47.19px 52.43px,#d7d7d7 52.43px 57.67px,#d4d4d4 57.67px 62.91px,#d7d7d7 62.91px 68.16px,#c4c4c4 68.16px 73.4px),linear-gradient(90deg,#e8e8e8 0px 5.24px,#cbcbcb 5.24px 10.49px,#e5e5e5 10.49px 15.73px,#e8e8e8 15.73px 20.97px,#e1e1e1 20.97px 26.21px,#cbcbcb 26.21px 31.46px,#c6c6c6 31.46px 36.7px,#e7e7e7 36.7px 41.94px,#cbcbcb 41.94px 47.19px,#c7c7c7 47.19px 52.43px,#d3d3d3 52.43px 57.67px,#cccccc 57.67px 62.91px,#c6c6c6 62.91px 68.16px,#d7d7d7 68.16px 73.4px);background-position:0 0px,0 5.3px;background-size:100% 5.3px,100% 5.3px;background-repeat:no-repeat"></div>
<span style="left:253.5px;top:252.5px;font-size:12px;line-height:20px;color:#333;letter-spacing:-0.22px;">m</span>
<span style="left:301.7px;top:252.5px;font-size:12px;line-height:20px;color:#333;letter-spacing:-0.22px;">AuthorizeSecurityGroupE</span>
<span style="left:301.7px;top:267.7px;font-size:12px;line-height:20px;color:#333;letter-spacing:-0.22px;">gress</span>
<span style="left:450.2px;top:252.5px;font-size:12px;line-height:20px;color:#333;letter-spacing:-0.22px;">72</span>
<div style="left:463.6px;top:254.55px;width:64.6px;height:15.9px;background:linear-gradient(90deg,#dfdfdf 0px 5.38px,#e9e9e9 5.38px 10.77px,#dcdcdc 10.77px 16.15px,#e1e1e1 16.15px 21.53px,#dddddd 21.53px 26.92px,#e2e2e2 26.92px 32.3px,#e4e4e4 32.3px 37.68px,#d9d9d9 37.68px 43.07px,#dbdbdb 43.07px 48.45px,#e1e1e1 48.45px 53.83px,#e5e5e5 53.83px 59.22px,#d5d5d5 59.22px 64.6px),linear-gradient(90deg,#c7c7c7 0px 5.38px,#afafaf 5.38px 10.77px,#cccccc 10.77px 16.15px,#bcbcbc 16.15px 21.53px,#bfbfbf 21.53px 26.92px,#b5b5b5 26.92px 32.3px,#aaaaaa 32.3px 37.68px,#d2d2d2 37.68px 43.07px,#d2d2d2 43.07px 48.45px,#cdcdcd 48.45px 53.83px,#dadada 53.83px 59.22px,#aaaaaa 59.22px 64.6px),linear-gradient(90deg,#e3e3e3 0px 5.38px,#dbdbdb 5.38px 10.77px,#e4e4e4 10.77px 16.15px,#e9e9e9 16.15px 21.53px,#dddddd 21.53px 26.92px,#e2e2e2 26.92px 32.3px,#e1e1e1 32.3px 37.68px,#dcdcdc 37.68px 43.07px,#e3e3e3 43.07px 48.45px,#eeeeee 48.45px 53.83px,#dddddd 53.83px 59.22px,#e9e9e9 59.22px 64.6px);background-position:0 0px,0 5.3px,0 10.6px;background-size:100% 5.3px,100% 5.3px,100% 5.3px;background-repeat:no-repeat"></div>
<div style="left:598.9px;top:254.55px;width:79.3px;height:15.9px;background:linear-gradient(90deg,#e8e8e8 0px 5.29px,#d0d0d0 5.29px 10.57px,#d2d2d2 10.57px 15.86px,#d8d8d8 15.86px 21.15px,#e0e0e0 21.15px 26.43px,#d3d3d3 26.43px 31.72px,#d0d0d0 31.72px 37.01px,#d4d4d4 37.01px 42.29px,#e4e4e4 42.29px 47.58px,#d7d7d7 47.58px 52.87px,#e5e5e5 52.87px 58.15px,#e5e5e5 58.15px 63.44px,#e0e0e0 63.44px 68.73px,#dcdcdc 68.73px 74.01px,#e4e4e4 74.01px 79.3px),linear-gradient(90deg,#c3c3c3 0px 5.29px,#d8d8d8 5.29px 10.57px,#d7d7d7 10.57px 15.86px,#c1c1c1 15.86px 21.15px,#b3b3b3 21.15px 26.43px,#b1b1b1 26.43px 31.72px,#adadad 31.72px 37.01px,#bbbbbb 37.01px 42.29px,#a8a8a8 42.29px 47.58px,#b6b6b6 47.58px 52.87px,#c1c1c1 52.87px 58.15px,#d0d0d0 58.15px 63.44px,#d0d0d0 63.44px 68.73px,#b3b3b3 68.73px 74.01px,#d9d9d9 74.01px 79.3px),linear-gradient(90deg,#f0f0f0 0px 5.29px,#dbdbdb 5.29px 10.57px,#e8e8e8 10.57px 15.86px,#e9e9e9 15.86px 21.15px,#e1e1e1 21.15px 26.43px,#e3e3e3 26.43px 31.72px,#e6e6e6 31.72px 37.01px,#e3e3e3 37.01px 42.29px,#e9e9e9 42.29px 47.58px,#dcdcdc 47.58px 52.87px,#dbdbdb 52.87px 58.15px,#e1e1e1 58.15px 63.44px,#dcdcdc 63.44px 68.73px,#dbdbdb 68.73px 74.01px,#e3e3e3 74.01px 79.3px);background-position:0 0px,0 5.3px,0 10.6px;background-size:100% 5.3px,100% 5.3px,100% 5.3px;background-repeat:no-repeat"></div>
<div style="left:746.8px;top:254.55px;width:26.6px;height:15.9px;background:linear-gradient(90deg,#e4e4e4 0px 5.32px,#dddddd 5.32px 10.64px,#e8e8e8 10.64px 15.96px,#e8e8e8 15.96px 21.28px,#e6e6e6 21.28px 26.6px),linear-gradient(90deg,#c1c1c1 0px 5.32px,#d6d6d6 5.32px 10.64px,#d0d0d0 10.64px 15.96px,#c5c5c5 15.96px 21.28px,#bfbfbf 21.28px 26.6px),linear-gradient(90deg,#dbdbdb 0px 5.32px,#e8e8e8 5.32px 10.64px,#f0f0f0 10.64px 15.96px,#ebebeb 15.96px 21.28px,#e9e9e9 21.28px 26.6px);background-position:0 0px,0 5.3px,0 10.6px;background-size:100% 5.3px,100% 5.3px,100% 5.3px;background-repeat:no-repeat"></div>
<div style="left:0px;top:296.4px;width:896px;height:52.4px;background:#f6f6f6"></div>
<div style="left:0px;top:347.8px;width:896px;height:1px;background:#f0f0f0"></div>
<div style="left:147px;top:296.4px;width:1px;height:52.4px;background:#f0f0f0"></div>
<div style="left:295.5px;top:296.4px;width:1px;height:52.4px;background:#f0f0f0"></div>
<div style="left:444px;top:296.4px;width:1px;height:52.4px;background:#f0f0f0"></div>
<div style="left:592.5px;top:296.4px;width:1px;height:52.4px;background:#f0f0f0"></div>
<div style="left:741px;top:296.4px;width:1px;height:52.4px;background:#f0f0f0"></div>
<span style="left:4.7px;top:304.9px;font-size:12px;line-height:20px;color:#333;letter-spacing:-0.22px;">2022-04-18 12:02:26.000</span>
<span style="left:153.2px;top:304.9px;font-size:12px;line-height:20px;color:#333;letter-spacing:-0.22px;">ec2.amazonaws.com</span>
<span style="left:301.7px;top:304.9px;font-size:12px;line-height:20px;color:#333;letter-spacing:-0.22px;">AuthorizeSecurityGroupE</span>
<span style="left:301.7px;top:320.1px;font-size:12px;line-height:20px;color:#333;letter-spacing:-0.22px;">gress</span>
<span style="left:450.2px;top:304.9px;font-size:12px;line-height:20px;color:#333;letter-spacing:-0.22px;">72</span>
<div style="left:463.6px;top:306.95px;width:64.6px;height:15.9px;background:linear-gradient(90deg,#dbdbdb 0px 5.38px,#d1d1d1 5.38px 10.77px,#d7d7d7 10.77px 16.15px,#dedede 16.15px 21.53px,#d0d0d0 21.53px 26.92px,#d6d6d6 26.92px 32.3px,#e2e2e2 32.3px 37.68px,#dadada 37.68px 43.07px,#e5e5e5 43.07px 48.45px,#d0d0d0 48.45px 53.83px,#e8e8e8 53.83px 59.22px,#d6d6d6 59.22px 64.6px),linear-gradient(90deg,#c9c9c9 0px 5.38px,#d8d8d8 5.38px 10.77px,#bbbbbb 10.77px 16.15px,#d0d0d0 16.15px 21.53px,#b1b1b1 21.53px 26.92px,#cdcdcd 26.92px 32.3px,#acacac 32.3px 37.68px,#c1c1c1 37.68px 43.07px,#a9a9a9 43.07px 48.45px,#bbbbbb 48.45px 53.83px,#a8a8a8 53.83px 59.22px,#b9b9b9 59.22px 64.6px),linear-gradient(90deg,#dbdbdb 0px 5.38px,#e3e3e3 5.38px 10.77px,#dadada 10.77px 16.15px,#dbdbdb 16.15px 21.53px,#e2e2e2 21.53px 26.92px,#e3e3e3 26.92px 32.3px,#dcdcdc 32.3px 37.68px,#dcdcdc 37.68px 43.07px,#ededed 43.07px 48.45px,#e6e6e6 48.45px 53.83px,#dadada 53.83px 59.22px,#e8e8e8 59.22px 64.6px);background-position:0 0px,0 5.3px,0 10.6px;background-size:100% 5.3px,100% 5.3px,100% 5.3px;background-repeat:no-repeat"></div>
<div style="left:598.9px;top:306.95px;width:79.3px;height:15.9px;background:linear-gradient(90deg,#dedede 0px 5.29px,#dddddd 5.29px 10.57px,#dadada 10.57px 15.86px,#d1d1d1 15.86px 21.15px,#e8e8e8 21.15px 26.43px,#dfdfdf 26.43px 31.72px,#d6d6d6 31.72px 37.01px,#e3e3e3 37.01px 42.29px,#d0d0d0 42.29px 47.58px,#d6d6d6 47.58px 52.87px,#d3d3d3 52.87px 58.15px,#d2d2d2 58.15px 63.44px,#d4d4d4 63.44px 68.73px,#d9d9d9 68.73px 74.01px,#d0d0d0 74.01px 79.3px),linear-gradient(90deg,#afafaf 0px 5.29px,#b7b7b7 5.29px 10.57px,#cbcbcb 10.57px 15.86px,#c3c3c3 15.86px 21.15px,#c7c7c7 21.15px 26.43px,#c9c9c9 26.43px 31.72px,#c1c1c1 31.72px 37.01px,#a8a8a8 37.01px 42.29px,#c2c2c2 42.29px 47.58px,#b4b4b4 47.58px 52.87px,#afafaf 52.87px 58.15px,#ababab 58.15px 63.44px,#cacaca 63.44px 68.73px,#bfbfbf 68.73px 74.01px,#b2b2b2 74.01px 79.3px),linear-gradient(90deg,#ebebeb 0px 5.29px,#e6e6e6 5.29px 10.57px,#dadada 10.57px 15.86px,#ececec 15.86px 21.15px,#dbdbdb 21.15px 26.43px,#e2e2e2 26.43px 31.72px,#e4e4e4 31.72px 37.01px,#dfdfdf 37.01px 42.29px,#dfdfdf 42.29px 47.58px,#e1e1e1 47.58px 52.87px,#e4e4e4 52.87px 58.15px,#eeeeee 58.15px 63.44px,#e0e0e0 63.44px 68.73px,#dadada 68.73px 74.01px,#efefef 74.01px 79.3px);background-position:0 0px,0 5.3px,0 10.6px;background-size:100% 5.3px,100% 5.3px,100% 5.3px;background-repeat:no-repeat"></div>
<div style="left:746.8px;top:306.95px;width:26.6px;height:15.9px;background:linear-gradient(90deg,#dadada 0px 5.32px,#e8e8e8 5.32px 10.64px,#dfdfdf 10.64px 15.96px,#d9d9d9 15.96px 21.28px,#d9d9d9 21.28px 26.6px),linear-gradient(90deg,#dadada 0px 5.32px,#ababab 5.32px 10.64px,#c8c8c8 10.64px 15.96px,#a9a9a9 15.96px 21.28px,#b3b3b3 21.28px 26.6px),linear-gradient(90deg,#e5e5e5 0px 5.32px,#e1e1e1 5.32px 10.64px,#dadada 10.64px 15.96px,#e0e0e0 15.96px 21.28px,#eeeeee 21.28px 26.6px);background-position:0 0px,0 5.3px,0 10.6px;background-size:100% 5.3px,100% 5.3px,100% 5.3px;background-repeat:no-repeat"></div>
</div>
<div style="left:1583px;top:959.3px;width:25px;height:313.8px;background:#f1f1f1"></div>
<svg style="left:1590px;top:969.8px" width="11" height="6"><polygon points="5.5,0 11,6 0,6" fill="#a3a3a3"/></svg>
<div style="left:1585px;top:984.2px;width:21px;height:84.5px;background:#c1c1c1"></div>
<svg style="left:1590px;top:1256.6px" width="11" height="6"><polygon points="0,0 11,0 5.5,6" fill="#505050"/></svg>
<div style="left:713px;top:1273.1px;width:870px;height:24.7px;background:#f1f1f1"></div>
<svg style="left:721.8px;top:1279.95px" width="6" height="11"><polygon points="6,0 6,11 0,5.5" fill="#a3a3a3"/></svg>
<div style="left:737px;top:1275.1px;width:802.9px;height:20.7px;background:#c1c1c1"></div>
<svg style="left:1567.5px;top:1279.95px" width="6" height="11"><polygon points="0,0 6,5.5 0,11" fill="#505050"/></svg>
<div style="left:1583px;top:1273.1px;width:25px;height:24.7px;background:#dcdcdc"></div>
<span style="left:1396.7px;top:1308.5px;font-size:11.5px;line-height:20px;color:#333;">Total:100</span>
<span style="left:1463px;top:1307.5px;font-size:10.5px;line-height:20px;color:#bdbdbd;">&lt;</span>
<div style="left:1494.2px;top:1304.1px;width:49.5px;height:25.3px;border:1px solid #d9d9d9;border-radius:3px;background:#fff;box-sizing:border-box"></div>
<span style="left:1509px;top:1307.5px;font-size:12px;line-height:20px;color:#333;">1</span>
<span style="left:1546.6px;top:1307.5px;font-size:12px;line-height:20px;color:#333;">/ 5</span>
<span style="left:1585.9px;top:1307.5px;font-size:10.5px;line-height:20px;color:#1890ff;">&gt;</span>
<div style="left:5px;top:1350px;width:1603px;height:541px;border:1px solid #d5d9df;border-radius:3px;background:#fff;box-sizing:border-box"></div>
<span style="left:15px;top:1357.1px;font-size:13.5px;line-height:20px;color:#333;font-weight:700;">Recent Network ACL Change Event List</span>
<span style="left:279.6px;top:1358.1px;font-size:11.3px;line-height:20px;color:#a8a8a8;">1 Day(Relative)</span>
<div style="left:1595.4px;top:1361px;width:3px;height:3px;background:#111;border-radius:50%"></div>
<div style="left:1595.4px;top:1365.5px;width:3px;height:3px;background:#111;border-radius:50%"></div>
<div style="left:1595.4px;top:1370px;width:3px;height:3px;background:#111;border-radius:50%"></div>
<div style="left:6px;top:1383.4px;width:1601px;height:504.9px;border:1px solid #e8e8e8;border-bottom-color:#e3e3e3;box-sizing:border-box;background:#fff"></div>
<div style="left:7px;top:1384.4px;width:1593px;height:33px;background:#fafafa"></div>
<div style="left:7px;top:1417.4px;width:1599px;height:1px;background:#e8e8e8"></div>
<div style="left:233.5px;top:1384.4px;width:1px;height:33px;background:#e8e8e8"></div>
<div style="left:461px;top:1384.4px;width:1px;height:33px;background:#e8e8e8"></div>
<div style="left:688.5px;top:1384.4px;width:1px;height:33px;background:#e8e8e8"></div>
<div style="left:916px;top:1384.4px;width:1px;height:33px;background:#e8e8e8"></div>
<div style="left:1143.5px;top:1384.4px;width:1px;height:33px;background:#e8e8e8"></div>
<div style="left:1371px;top:1384.4px;width:1px;height:33px;background:#e8e8e8"></div>
<span style="left:12.5px;top:1390.8px;font-size:11.5px;line-height:20px;color:#222;font-weight:700;">Time</span>
<svg style="left:203.5px;top:1397.9px" width="7" height="4"><polygon points="3.5,0 7,4 0,4" fill="#bfbfbf"/></svg>
<svg style="left:203.5px;top:1404.3px" width="7" height="4.2"><polygon points="0,0 7,0 3.5,4.2" fill="#bfbfbf"/></svg>
<svg style="left:214px;top:1398.7px" width="14" height="14" viewBox="0 0 14 14"><circle cx="5" cy="5" r="3.6" fill="none" stroke="#c4c4c4" stroke-width="1"/><line x1="7.5" y1="7.5" x2="12.2" y2="12.2" stroke="#c4c4c4" stroke-width="1.1"/></svg>
<span style="left:240px;top:1390.8px;font-size:11.5px;line-height:20px;color:#222;font-weight:700;">Event Name</span>
<svg style="left:431px;top:1397.9px" width="7" height="4"><polygon points="3.5,0 7,4 0,4" fill="#bfbfbf"/></svg>
<svg style="left:431px;top:1404.3px" width="7" height="4.2"><polygon points="0,0 7,0 3.5,4.2" fill="#bfbfbf"/></svg>
<svg style="left:441.5px;top:1398.7px" width="14" height="14" viewBox="0 0 14 14"><circle cx="5" cy="5" r="3.6" fill="none" stroke="#c4c4c4" stroke-width="1"/><line x1="7.5" y1="7.5" x2="12.2" y2="12.2" stroke="#c4c4c4" stroke-width="1.1"/></svg>
<span style="left:467.5px;top:1390.8px;font-size:11.5px;line-height:20px;color:#222;font-weight:700;">Event Region</span>
<svg style="left:658.5px;top:1397.9px" width="7" height="4"><polygon points="3.5,0 7,4 0,4" fill="#bfbfbf"/></svg>
<svg style="left:658.5px;top:1404.3px" width="7" height="4.2"><polygon points="0,0 7,0 3.5,4.2" fill="#bfbfbf"/></svg>
<svg style="left:669px;top:1398.7px" width="14" height="14" viewBox="0 0 14 14"><circle cx="5" cy="5" r="3.6" fill="none" stroke="#c4c4c4" stroke-width="1"/><line x1="7.5" y1="7.5" x2="12.2" y2="12.2" stroke="#c4c4c4" stroke-width="1.1"/></svg>
<span style="left:695px;top:1390.8px;font-size:11.5px;line-height:20px;color:#222;font-weight:700;">Error Code</span>
<svg style="left:886px;top:1397.9px" width="7" height="4"><polygon points="3.5,0 7,4 0,4" fill="#bfbfbf"/></svg>
<svg style="left:886px;top:1404.3px" width="7" height="4.2"><polygon points="0,0 7,0 3.5,4.2" fill="#bfbfbf"/></svg>
<svg style="left:896.5px;top:1398.7px" width="14" height="14" viewBox="0 0 14 14"><circle cx="5" cy="5" r="3.6" fill="none" stroke="#c4c4c4" stroke-width="1"/><line x1="7.5" y1="7.5" x2="12.2" y2="12.2" stroke="#c4c4c4" stroke-width="1.1"/></svg>
<span style="left:922.5px;top:1390.8px;font-size:11.5px;line-height:20px;color:#222;font-weight:700;">Source IP</span>
<svg style="left:1113.5px;top:1397.9px" width="7" height="4"><polygon points="3.5,0 7,4 0,4" fill="#bfbfbf"/></svg>
<svg style="left:1113.5px;top:1404.3px" width="7" height="4.2"><polygon points="0,0 7,0 3.5,4.2" fill="#bfbfbf"/></svg>
<svg style="left:1124px;top:1398.7px" width="14" height="14" viewBox="0 0 14 14"><circle cx="5" cy="5" r="3.6" fill="none" stroke="#c4c4c4" stroke-width="1"/><line x1="7.5" y1="7.5" x2="12.2" y2="12.2" stroke="#c4c4c4" stroke-width="1.1"/></svg>
<span style="left:1150px;top:1390.8px;font-size:11.5px;line-height:20px;color:#222;font-weight:700;">Access Region</span>
<svg style="left:1341px;top:1397.9px" width="7" height="4"><polygon points="3.5,0 7,4 0,4" fill="#bfbfbf"/></svg>
<svg style="left:1341px;top:1404.3px" width="7" height="4.2"><polygon points="0,0 7,0 3.5,4.2" fill="#bfbfbf"/></svg>
<svg style="left:1351.5px;top:1398.7px" width="14" height="14" viewBox="0 0 14 14"><circle cx="5" cy="5" r="3.6" fill="none" stroke="#c4c4c4" stroke-width="1"/><line x1="7.5" y1="7.5" x2="12.2" y2="12.2" stroke="#c4c4c4" stroke-width="1.1"/></svg>
<span style="left:1377.5px;top:1390.8px;font-size:11.5px;line-height:20px;color:#222;font-weight:700;">User Agent</span>
<svg style="left:1568.5px;top:1397.9px" width="7" height="4"><polygon points="3.5,0 7,4 0,4" fill="#bfbfbf"/></svg>
<svg style="left:1568.5px;top:1404.3px" width="7" height="4.2"><polygon points="0,0 7,0 3.5,4.2" fill="#bfbfbf"/></svg>
<svg style="left:1579px;top:1398.7px" width="14" height="14" viewBox="0 0 14 14"><circle cx="5" cy="5" r="3.6" fill="none" stroke="#c4c4c4" stroke-width="1"/><line x1="7.5" y1="7.5" x2="12.2" y2="12.2" stroke="#c4c4c4" stroke-width="1.1"/></svg>
<div class="clip" style="left:7px;top:1418.4px;width:1599px;height:405.4px">
<div style="left:0px;top:-0.8px;width:1600px;height:36.4px;background:#f6f6f6"></div>
<div style="left:0px;top:34.6px;width:1600px;height:1px;background:#f0f0f0"></div>
<div style="left:226.5px;top:-0.8px;width:1px;height:36.4px;background:#f0f0f0"></div>
<div style="left:454px;top:-0.8px;width:1px;height:36.4px;background:#f0f0f0"></div>
<div style="left:681.5px;top:-0.8px;width:1px;height:36.4px;background:#f0f0f0"></div>
<div style="left:909px;top:-0.8px;width:1px;height:36.4px;background:#f0f0f0"></div>
<div style="left:1136.5px;top:-0.8px;width:1px;height:36.4px;background:#f0f0f0"></div>
<div style="left:1364px;top:-0.8px;width:1px;height:36.4px;background:#f0f0f0"></div>
<span style="left:5.4px;top:7.8px;font-size:12px;line-height:20px;color:#333;letter-spacing:-0.22px;">2022-04-18 12:02:46</span>
<span style="left:232.9px;top:7.8px;font-size:12px;line-height:20px;color:#333;letter-spacing:-0.22px;">CreateNetworkAclEntry</span>
<span style="left:460.4px;top:7.8px;font-size:12px;line-height:20px;color:#333;letter-spacing:-0.22px;">us-east-2</span>
<span style="left:687.9px;top:7.8px;font-size:12px;line-height:20px;color:#333;letter-spacing:-0.22px;">null</span>
<span style="left:915.4px;top:7.8px;font-size:12px;line-height:20px;color:#333;letter-spacing:-0.22px;">1</span>
<div style="left:920px;top:9.85px;width:73.8px;height:15.9px;background:linear-gradient(90deg,#ededed 0px 5.27px,#ebebeb 5.27px 10.54px,#eeeeee 10.54px 15.81px,#e2e2e2 15.81px 21.09px,#f4f4f4 21.09px 26.36px,#e2e2e2 26.36px 31.63px,#ededed 31.63px 36.9px,#eeeeee 36.9px 42.17px,#e5e5e5 42.17px 47.44px,#f3f3f3 47.44px 52.71px,#f2f2f2 52.71px 57.99px,#ededed 57.99px 63.26px,#f3f3f3 63.26px 68.53px,#e6e6e6 68.53px 73.8px),linear-gradient(90deg,#c7c7c7 0px 5.27px,#e0e0e0 5.27px 10.54px,#cfcfcf 10.54px 15.81px,#c7c7c7 15.81px 21.09px,#e9e9e9 21.09px 26.36px,#bfbfbf 26.36px 31.63px,#cacaca 31.63px 36.9px,#dbdbdb 36.9px 42.17px,#cbcbcb 42.17px 47.44px,#b4b4b4 47.44px 52.71px,#cacaca 52.71px 57.99px,#cbcbcb 57.99px 63.26px,#d0d0d0 63.26px 68.53px,#c1c1c1 68.53px 73.8px),linear-gradient(90deg,#dddddd 0px 5.27px,#f4f4f4 5.27px 10.54px,#eaeaea 10.54px 15.81px,#f5f5f5 15.81px 21.09px,#e5e5e5 21.09px 26.36px,#efefef 26.36px 31.63px,#e2e2e2 31.63px 36.9px,#ededed 36.9px 42.17px,#e7e7e7 42.17px 47.44px,#e6e6e6 47.44px 52.71px,#dedede 52.71px 57.99px,#dfdfdf 57.99px 63.26px,#e3e3e3 63.26px 68.53px,#e6e6e6 68.53px 73.8px);background-position:0 0px,0 5.3px,0 10.6px;background-size:100% 5.3px,100% 5.3px,100% 5.3px;background-repeat:no-repeat"></div>
<div style="left:1141px;top:9.85px;width:133.5px;height:15.9px;background:linear-gradient(90deg,#e7e7e7 0px 5.34px,#f3f3f3 5.34px 10.68px,#ececec 10.68px 16.02px,#ededed 16.02px 21.36px,#e9e9e9 21.36px 26.7px,#f5f5f5 26.7px 32.04px,#f4f4f4 32.04px 37.38px,#efefef 37.38px 42.72px,#eeeeee 42.72px 48.06px,#f5f5f5 48.06px 53.4px,#f3f3f3 53.4px 58.74px,#e4e4e4 58.74px 64.08px,#eeeeee 64.08px 69.42px,#e9e9e9 69.42px 74.76px,#f2f2f2 74.76px 80.1px,#f4f4f4 80.1px 85.44px,#e2e2e2 85.44px 90.78px,#efefef 90.78px 96.12px,#ececec 96.12px 101.46px,#e9e9e9 101.46px 106.8px,#e3e3e3 106.8px 112.14px,#e8e8e8 112.14px 117.48px,#e5e5e5 117.48px 122.82px,#f1f1f1 122.82px 128.16px,#efefef 128.16px 133.5px),linear-gradient(90deg,#dddddd 0px 5.34px,#bdbdbd 5.34px 10.68px,#c1c1c1 10.68px 16.02px,#dfdfdf 16.02px 21.36px,#b4b4b4 21.36px 26.7px,#e1e1e1 26.7px 32.04px,#dbdbdb 32.04px 37.38px,#d8d8d8 37.38px 42.72px,#d9d9d9 42.72px 48.06px,#c7c7c7 48.06px 53.4px,#e9e9e9 53.4px 58.74px,#c5c5c5 58.74px 64.08px,#b7b7b7 64.08px 69.42px,#d5d5d5 69.42px 74.76px,#c4c4c4 74.76px 80.1px,#e7e7e7 80.1px 85.44px,#d0d0d0 85.44px 90.78px,#c6c6c6 90.78px 96.12px,#d3d3d3 96.12px 101.46px,#e6e6e6 101.46px 106.8px,#d0d0d0 106.8px 112.14px,#e7e7e7 112.14px 117.48px,#e0e0e0 117.48px 122.82px,#d6d6d6 122.82px 128.16px,#eaeaea 128.16px 133.5px),linear-gradient(90deg,#dfdfdf 0px 5.34px,#dfdfdf 5.34px 10.68px,#e4e4e4 10.68px 16.02px,#e4e4e4 16.02px 21.36px,#e8e8e8 21.36px 26.7px,#e8e8e8 26.7px 32.04px,#f2f2f2 32.04px 37.38px,#e0e0e0 37.38px 42.72px,#dddddd 42.72px 48.06px,#efefef 48.06px 53.4px,#e3e3e3 53.4px 58.74px,#e5e5e5 58.74px 64.08px,#eeeeee 64.08px 69.42px,#dedede 69.42px 74.76px,#efefef 74.76px 80.1px,#e7e7e7 80.1px 85.44px,#e8e8e8 85.44px 90.78px,#ededed 90.78px 96.12px,#f1f1f1 96.12px 101.46px,#e7e7e7 101.46px 106.8px,#f2f2f2 106.8px 112.14px,#ececec 112.14px 117.48px,#f5f5f5 117.48px 122.82px,#ededed 122.82px 128.16px,#f2f2f2 128.16px 133.5px);background-position:0 0px,0 5.3px,0 10.6px;background-size:100% 5.3px,100% 5.3px,100% 5.3px;background-repeat:no-repeat"></div>
<span style="left:1370.4px;top:7.8px;font-size:12px;line-height:20px;color:#333;letter-spacing:-0.22px;">[av</span>
<div style="left:1383.6px;top:9.85px;width:94px;height:15.9px;background:linear-gradient(90deg,#ebebeb 0px 5.22px,#e3e3e3 5.22px 10.44px,#efefef 10.44px 15.67px,#ececec 15.67px 20.89px,#e4e4e4 20.89px 26.11px,#ececec 26.11px 31.33px,#ededed 31.33px 36.56px,#ececec 36.56px 41.78px,#e9e9e9 41.78px 47px,#e6e6e6 47px 52.22px,#e4e4e4 52.22px 57.44px,#ededed 57.44px 62.67px,#e6e6e6 62.67px 67.89px,#e5e5e5 67.89px 73.11px,#eaeaea 73.11px 78.33px,#e2e2e2 78.33px 83.56px,#e4e4e4 83.56px 88.78px,#f1f1f1 88.78px 94px),linear-gradient(90deg,#d9d9d9 0px 5.22px,#c4c4c4 5.22px 10.44px,#c3c3c3 10.44px 15.67px,#d0d0d0 15.67px 20.89px,#e3e3e3 20.89px 26.11px,#dedede 26.11px 31.33px,#e8e8e8 31.33px 36.56px,#bfbfbf 36.56px 41.78px,#e9e9e9 41.78px 47px,#e4e4e4 47px 52.22px,#cbcbcb 52.22px 57.44px,#d4d4d4 57.44px 62.67px,#d8d8d8 62.67px 67.89px,#c7c7c7 67.89px 73.11px,#d0d0d0 73.11px 78.33px,#e8e8e8 78.33px 83.56px,#c8c8c8 83.56px 88.78px,#b9b9b9 88.78px 94px),linear-gradient(90deg,#e7e7e7 0px 5.22px,#e7e7e7 5.22px 10.44px,#f5f5f5 10.44px 15.67px,#dcdcdc 15.67px 20.89px,#f5f5f5 20.89px 26.11px,#e3e3e3 26.11px 31.33px,#e1e1e1 31.33px 36.56px,#dcdcdc 36.56px 41.78px,#ececec 41.78px 47px,#e8e8e8 47px 52.22px,#ebebeb 52.22px 57.44px,#e6e6e6 57.44px 62.67px,#e6e6e6 62.67px 67.89px,#e5e5e5 67.89px 73.11px,#dedede 73.11px 78.33px,#f1f1f1 78.33px 83.56px,#f4f4f4 83.56px 88.78px,#e5e5e5 88.78px 94px);background-position:0 0px,0 5.3px,0 10.6px;background-size:100% 5.3px,100% 5.3px,100% 5.3px;background-repeat:no-repeat"></div>
<div style="left:0px;top:35.6px;width:1600px;height:36.4px;background:#fff"></div>
<div style="left:0px;top:71px;width:1600px;height:1px;background:#f0f0f0"></div>
<div style="left:226.5px;top:35.6px;width:1px;height:36.4px;background:#f3f3f3"></div>
<div style="left:454px;top:35.6px;width:1px;height:36.4px;background:#f3f3f3"></div>
<div style="left:681.5px;top:35.6px;width:1px;height:36.4px;background:#f3f3f3"></div>
<div style="left:909px;top:35.6px;width:1px;height:36.4px;background:#f3f3f3"></div>
<div style="left:1136.5px;top:35.6px;width:1px;height:36.4px;background:#f3f3f3"></div>
<div style="left:1364px;top:35.6px;width:1px;height:36.4px;background:#f3f3f3"></div>
<span style="left:5.4px;top:44.2px;font-size:12px;line-height:20px;color:#333;letter-spacing:-0.22px;">2022-04-18 12:02:46</span>
<span style="left:232.9px;top:44.2px;font-size:12px;line-height:20px;color:#333;letter-spacing:-0.22px;">CreateNetworkAcl</span>
<span style="left:460.4px;top:44.2px;font-size:12px;line-height:20px;color:#333;letter-spacing:-0.22px;">us-east-1</span>
<span style="left:687.9px;top:44.2px;font-size:12px;line-height:20px;color:#333;letter-spacing:-0.22px;">null</span>
<span style="left:915.4px;top:44.2px;font-size:12px;line-height:20px;color:#333;letter-spacing:-0.22px;">1</span>
<div style="left:920px;top:46.25px;width:73.8px;height:15.9px;background:linear-gradient(90deg,#efefef 0px 5.27px,#f1f1f1 5.27px 10.54px,#ececec 10.54px 15.81px,#e5e5e5 15.81px 21.09px,#e2e2e2 21.09px 26.36px,#eaeaea 26.36px 31.63px,#f1f1f1 31.63px 36.9px,#e5e5e5 36.9px 42.17px,#f1f1f1 42.17px 47.44px,#ececec 47.44px 52.71px,#e3e3e3 52.71px 57.99px,#f3f3f3 57.99px 63.26px,#f4f4f4 63.26px 68.53px,#e8e8e8 68.53px 73.8px),linear-gradient(90deg,#cfcfcf 0px 5.27px,#c4c4c4 5.27px 10.54px,#d0d0d0 10.54px 15.81px,#cfcfcf 15.81px 21.09px,#b5b5b5 21.09px 26.36px,#d5d5d5 26.36px 31.63px,#b7b7b7 31.63px 36.9px,#d2d2d2 36.9px 42.17px,#d8d8d8 42.17px 47.44px,#d7d7d7 47.44px 52.71px,#c8c8c8 52.71px 57.99px,#d9d9d9 57.99px 63.26px,#c0c0c0 63.26px 68.53px,#c7c7c7 68.53px 73.8px),linear-gradient(90deg,#e9e9e9 0px 5.27px,#e2e2e2 5.27px 10.54px,#e4e4e4 10.54px 15.81px,#e2e2e2 15.81px 21.09px,#eaeaea 21.09px 26.36px,#e3e3e3 26.36px 31.63px,#e8e8e8 31.63px 36.9px,#dddddd 36.9px 42.17px,#e7e7e7 42.17px 47.44px,#f2f2f2 47.44px 52.71px,#f3f3f3 52.71px 57.99px,#e7e7e7 57.99px 63.26px,#dfdfdf 63.26px 68.53px,#ebebeb 68.53px 73.8px);background-position:0 0px,0 5.3px,0 10.6px;background-size:100% 5.3px,100% 5.3px,100% 5.3px;background-repeat:no-repeat"></div>
<div style="left:1141px;top:46.25px;width:133.5px;height:15.9px;background:linear-gradient(90deg,#f0f0f0 0px 5.34px,#e3e3e3 5.34px 10.68px,#e7e7e7 10.68px 16.02px,#f1f1f1 16.02px 21.36px,#efefef 21.36px 26.7px,#f4f4f4 26.7px 32.04px,#e7e7e7 32.04px 37.38px,#eaeaea 37.38px 42.72px,#f1f1f1 42.72px 48.06px,#f0f0f0 48.06px 53.4px,#ededed 53.4px 58.74px,#eaeaea 58.74px 64.08px,#f2f2f2 64.08px 69.42px,#e5e5e5 69.42px 74.76px,#ececec 74.76px 80.1px,#e9e9e9 80.1px 85.44px,#efefef 85.44px 90.78px,#f2f2f2 90.78px 96.12px,#efefef 96.12px 101.46px,#f0f0f0 101.46px 106.8px,#e6e6e6 106.8px 112.14px,#ececec 112.14px 117.48px,#ededed 117.48px 122.82px,#f0f0f0 122.82px 128.16px,#e4e4e4 128.16px 133.5px),linear-gradient(90deg,#d5d5d5 0px 5.34px,#dfdfdf 5.34px 10.68px,#e5e5e5 10.68px 16.02px,#b9b9b9 16.02px 21.36px,#e4e4e4 21.36px 26.7px,#cfcfcf 26.7px 32.04px,#cecece 32.04px 37.38px,#d6d6d6 37.38px 42.72px,#e5e5e5 42.72px 48.06px,#cacaca 48.06px 53.4px,#e2e2e2 53.4px 58.74px,#d1d1d1 58.74px 64.08px,#d5d5d5 64.08px 69.42px,#bababa 69.42px 74.76px,#e6e6e6 74.76px 80.1px,#cdcdcd 80.1px 85.44px,#b8b8b8 85.44px 90.78px,#cfcfcf 90.78px 96.12px,#d3d3d3 96.12px 101.46px,#e4e4e4 101.46px 106.8px,#bababa 106.8px 112.14px,#e6e6e6 112.14px 117.48px,#b7b7b7 117.48px 122.82px,#d6d6d6 122.82px 128.16px,#b8b8b8 128.16px 133.5px),linear-gradient(90deg,#e1e1e1 0px 5.34px,#f1f1f1 5.34px 10.68px,#e1e1e1 10.68px 16.02px,#ededed 16.02px 21.36px,#e6e6e6 21.36px 26.7px,#f0f0f0 26.7px 32.04px,#eaeaea 32.04px 37.38px,#f0f0f0 37.38px 42.72px,#eeeeee 42.72px 48.06px,#e9e9e9 48.06px 53.4px,#e1e1e1 53.4px 58.74px,#e2e2e2 58.74px 64.08px,#f2f2f2 64.08px 69.42px,#e5e5e5 69.42px 74.76px,#e0e0e0 74.76px 80.1px,#e8e8e8 80.1px 85.44px,#e9e9e9 85.44px 90.78px,#dddddd 90.78px 96.12px,#e2e2e2 96.12px 101.46px,#f2f2f2 101.46px 106.8px,#dcdcdc 106.8px 112.14px,#f5f5f5 112.14px 117.48px,#ebebeb 117.48px 122.82px,#eaeaea 122.82px 128.16px,#f2f2f2 128.16px 133.5px);background-position:0 0px,0 5.3px,0 10.6px;background-size:100% 5.3px,100% 5.3px,100% 5.3px;background-repeat:no-repeat"></div>
<span style="left:1370.4px;top:44.2px;font-size:12px;line-height:20px;color:#333;letter-spacing:-0.22px;">[av</span>
<div style="left:1383.6px;top:46.25px;width:94px;height:15.9px;background:linear-gradient(90deg,#e9e9e9 0px 5.22px,#efefef 5.22px 10.44px,#e7e7e7 10.44px 15.67px,#e3e3e3 15.67px 20.89px,#f5f5f5 20.89px 26.11px,#ebebeb 26.11px 31.33px,#ececec 31.33px 36.56px,#eaeaea 36.56px 41.78px,#e2e2e2 41.78px 47px,#e9e9e9 47px 52.22px,#ededed 52.22px 57.44px,#ededed 57.44px 62.67px,#f1f1f1 62.67px 67.89px,#e9e9e9 67.89px 73.11px,#eaeaea 73.11px 78.33px,#f3f3f3 78.33px 83.56px,#e8e8e8 83.56px 88.78px,#e3e3e3 88.78px 94px),linear-gradient(90deg,#e8e8e8 0px 5.22px,#d2d2d2 5.22px 10.44px,#cbcbcb 10.44px 15.67px,#c2c2c2 15.67px 20.89px,#bababa 20.89px 26.11px,#cecece 26.11px 31.33px,#c2c2c2 31.33px 36.56px,#d8d8d8 36.56px 41.78px,#d9d9d9 41.78px 47px,#bcbcbc 47px 52.22px,#c1c1c1 52.22px 57.44px,#b7b7b7 57.44px 62.67px,#c9c9c9 62.67px 67.89px,#dedede 67.89px 73.11px,#cfcfcf 73.11px 78.33px,#bababa 78.33px 83.56px,#dfdfdf 83.56px 88.78px,#dcdcdc 88.78px 94px),linear-gradient(90deg,#e2e2e2 0px 5.22px,#e1e1e1 5.22px 10.44px,#e7e7e7 10.44px 15.67px,#f0f0f0 15.67px 20.89px,#e0e0e0 20.89px 26.11px,#dfdfdf 26.11px 31.33px,#dcdcdc 31.33px 36.56px,#f2f2f2 36.56px 41.78px,#e9e9e9 41.78px 47px,#f3f3f3 47px 52.22px,#dddddd 52.22px 57.44px,#ebebeb 57.44px 62.67px,#f2f2f2 62.67px 67.89px,#dcdcdc 67.89px 73.11px,#dedede 73.11px 78.33px,#f5f5f5 78.33px 83.56px,#e2e2e2 83.56px 88.78px,#f3f3f3 88.78px 94px);background-position:0 0px,0 5.3px,0 10.6px;background-size:100% 5.3px,100% 5.3px,100% 5.3px;background-repeat:no-repeat"></div>
<div style="left:0px;top:72px;width:1600px;height:36.4px;background:#f6f6f6"></div>
<div style="left:0px;top:107.4px;width:1600px;height:1px;background:#f0f0f0"></div>
<div style="left:226.5px;top:72px;width:1px;height:36.4px;background:#f0f0f0"></div>
<div style="left:454px;top:72px;width:1px;height:36.4px;background:#f0f0f0"></div>
<div style="left:681.5px;top:72px;width:1px;height:36.4px;background:#f0f0f0"></div>
<div style="left:909px;top:72px;width:1px;height:36.4px;background:#f0f0f0"></div>
<div style="left:1136.5px;top:72px;width:1px;height:36.4px;background:#f0f0f0"></div>
<div style="left:1364px;top:72px;width:1px;height:36.4px;background:#f0f0f0"></div>
<span style="left:5.4px;top:80.6px;font-size:12px;line-height:20px;color:#333;letter-spacing:-0.22px;">2022-04-18 12:02:36</span>
<span style="left:232.9px;top:80.6px;font-size:12px;line-height:20px;color:#333;letter-spacing:-0.22px;">CreateNetworkAcl</span>
<span style="left:460.4px;top:80.6px;font-size:12px;line-height:20px;color:#333;letter-spacing:-0.22px;">us-east-1</span>
<span style="left:687.9px;top:80.6px;font-size:12px;line-height:20px;color:#333;letter-spacing:-0.22px;">null</span>
<span style="left:915.4px;top:80.6px;font-size:12px;line-height:20px;color:#333;letter-spacing:-0.22px;">1</span>
<div style="left:920px;top:82.65px;width:73.8px;height:15.9px;background:linear-gradient(90deg,#f1f1f1 0px 5.27px,#e5e5e5 5.27px 10.54px,#f4f4f4 10.54px 15.81px,#f2f2f2 15.81px 21.09px,#f0f0f0 21.09px 26.36px,#f0f0f0 26.36px 31.63px,#f2f2f2 31.63px 36.9px,#f3f3f3 36.9px 42.17px,#e9e9e9 42.17px 47.44px,#e5e5e5 47.44px 52.71px,#f4f4f4 52.71px 57.99px,#f1f1f1 57.99px 63.26px,#e5e5e5 63.26px 68.53px,#f2f2f2 68.53px 73.8px),linear-gradient(90deg,#c1c1c1 0px 5.27px,#e3e3e3 5.27px 10.54px,#cacaca 10.54px 15.81px,#cfcfcf 15.81px 21.09px,#b9b9b9 21.09px 26.36px,#cdcdcd 26.36px 31.63px,#bdbdbd 31.63px 36.9px,#dadada 36.9px 42.17px,#b5b5b5 42.17px 47.44px,#d2d2d2 47.44px 52.71px,#bbbbbb 52.71px 57.99px,#c8c8c8 57.99px 63.26px,#c3c3c3 63.26px 68.53px,#c2c2c2 68.53px 73.8px),linear-gradient(90deg,#f5f5f5 0px 5.27px,#eeeeee 5.27px 10.54px,#e2e2e2 10.54px 15.81px,#f1f1f1 15.81px 21.09px,#eeeeee 21.09px 26.36px,#f5f5f5 26.36px 31.63px,#f4f4f4 31.63px 36.9px,#e5e5e5 36.9px 42.17px,#dfdfdf 42.17px 47.44px,#ebebeb 47.44px 52.71px,#dddddd 52.71px 57.99px,#dfdfdf 57.99px 63.26px,#f2f2f2 63.26px 68.53px,#efefef 68.53px 73.8px);background-position:0 0px,0 5.3px,0 10.6px;background-size:100% 5.3px,100% 5.3px,100% 5.3px;background-repeat:no-repeat"></div>
<div style="left:1141px;top:82.65px;width:133.5px;height:15.9px;background:linear-gradient(90deg,#f5f5f5 0px 5.34px,#e2e2e2 5.34px 10.68px,#f2f2f2 10.68px 16.02px,#e3e3e3 16.02px 21.36px,#ededed 21.36px 26.7px,#f4f4f4 26.7px 32.04px,#e3e3e3 32.04px 37.38px,#eaeaea 37.38px 42.72px,#f1f1f1 42.72px 48.06px,#eaeaea 48.06px 53.4px,#e9e9e9 53.4px 58.74px,#f4f4f4 58.74px 64.08px,#e3e3e3 64.08px 69.42px,#e5e5e5 69.42px 74.76px,#e7e7e7 74.76px 80.1px,#e2e2e2 80.1px 85.44px,#e8e8e8 85.44px 90.78px,#f4f4f4 90.78px 96.12px,#e8e8e8 96.12px 101.46px,#f3f3f3 101.46px 106.8px,#efefef 106.8px 112.14px,#ececec 112.14px 117.48px,#f2f2f2 117.48px 122.82px,#e7e7e7 122.82px 128.16px,#f0f0f0 128.16px 133.5px),linear-gradient(90deg,#cfcfcf 0px 5.34px,#bebebe 5.34px 10.68px,#dddddd 10.68px 16.02px,#bfbfbf 16.02px 21.36px,#eaeaea 21.36px 26.7px,#dcdcdc 26.7px 32.04px,#bebebe 32.04px 37.38px,#d9d9d9 37.38px 42.72px,#cccccc 42.72px 48.06px,#b9b9b9 48.06px 53.4px,#e9e9e9 53.4px 58.74px,#b4b4b4 58.74px 64.08px,#cecece 64.08px 69.42px,#cccccc 69.42px 74.76px,#dadada 74.76px 80.1px,#bfbfbf 80.1px 85.44px,#cccccc 85.44px 90.78px,#d6d6d6 90.78px 96.12px,#c2c2c2 96.12px 101.46px,#b8b8b8 101.46px 106.8px,#c8c8c8 106.8px 112.14px,#dadada 112.14px 117.48px,#b9b9b9 117.48px 122.82px,#bdbdbd 122.82px 128.16px,#d3d3d3 128.16px 133.5px),linear-gradient(90deg,#e8e8e8 0px 5.34px,#f5f5f5 5.34px 10.68px,#f1f1f1 10.68px 16.02px,#eaeaea 16.02px 21.36px,#e8e8e8 21.36px 26.7px,#eaeaea 26.7px 32.04px,#e6e6e6 32.04px 37.38px,#ebebeb 37.38px 42.72px,#f2f2f2 42.72px 48.06px,#f1f1f1 48.06px 53.4px,#e0e0e0 53.4px 58.74px,#e6e6e6 58.74px 64.08px,#f2f2f2 64.08px 69.42px,#efefef 69.42px 74.76px,#dcdcdc 74.76px 80.1px,#e7e7e7 80.1px 85.44px,#dcdcdc 85.44px 90.78px,#eeeeee 90.78px 96.12px,#dedede 96.12px 101.46px,#f3f3f3 101.46px 106.8px,#e3e3e3 106.8px 112.14px,#f1f1f1 112.14px 117.48px,#f1f1f1 117.48px 122.82px,#f5f5f5 122.82px 128.16px,#ebebeb 128.16px 133.5px);background-position:0 0px,0 5.3px,0 10.6px;background-size:100% 5.3px,100% 5.3px,100% 5.3px;background-repeat:no-repeat"></div>
<span style="left:1370.4px;top:80.6px;font-size:12px;line-height:20px;color:#333;letter-spacing:-0.22px;">[av</span>
<div style="left:1383.6px;top:82.65px;width:94px;height:15.9px;background:linear-gradient(90deg,#e7e7e7 0px 5.22px,#f2f2f2 5.22px 10.44px,#f5f5f5 10.44px 15.67px,#f1f1f1 15.67px 20.89px,#eaeaea 20.89px 26.11px,#efefef 26.11px 31.33px,#f2f2f2 31.33px 36.56px,#ededed 36.56px 41.78px,#f3f3f3 41.78px 47px,#e3e3e3 47px 52.22px,#f4f4f4 52.22px 57.44px,#f0f0f0 57.44px 62.67px,#ebebeb 62.67px 67.89px,#e5e5e5 67.89px 73.11px,#f0f0f0 73.11px 78.33px,#eaeaea 78.33px 83.56px,#e8e8e8 83.56px 88.78px,#f0f0f0 88.78px 94px),linear-gradient(90deg,#b7b7b7 0px 5.22px,#d4d4d4 5.22px 10.44px,#cbcbcb 10.44px 15.67px,#bfbfbf 15.67px 20.89px,#e4e4e4 20.89px 26.11px,#cbcbcb 26.11px 31.33px,#e5e5e5 31.33px 36.56px,#c6c6c6 36.56px 41.78px,#bebebe 41.78px 47px,#cdcdcd 47px 52.22px,#cccccc 52.22px 57.44px,#cfcfcf 57.44px 62.67px,#bbbbbb 62.67px 67.89px,#dbdbdb 67.89px 73.11px,#bbbbbb 73.11px 78.33px,#bababa 78.33px 83.56px,#dfdfdf 83.56px 88.78px,#cbcbcb 88.78px 94px),linear-gradient(90deg,#f1f1f1 0px 5.22px,#eaeaea 5.22px 10.44px,#efefef 10.44px 15.67px,#e3e3e3 15.67px 20.89px,#e7e7e7 20.89px 26.11px,#f0f0f0 26.11px 31.33px,#f2f2f2 31.33px 36.56px,#ececec 36.56px 41.78px,#f0f0f0 41.78px 47px,#eaeaea 47px 52.22px,#f0f0f0 52.22px 57.44px,#e6e6e6 57.44px 62.67px,#dfdfdf 62.67px 67.89px,#eeeeee 67.89px 73.11px,#e6e6e6 73.11px 78.33px,#e2e2e2 78.33px 83.56px,#f2f2f2 83.56px 88.78px,#ededed 88.78px 94px);background-position:0 0px,0 5.3px,0 10.6px;background-size:100% 5.3px,100% 5.3px,100% 5.3px;background-repeat:no-repeat"></div>
<div style="left:0px;top:108.4px;width:1600px;height:36.4px;background:#fff"></div>
<div style="left:0px;top:143.8px;width:1600px;height:1px;background:#f0f0f0"></div>
<div style="left:226.5px;top:108.4px;width:1px;height:36.4px;background:#f3f3f3"></div>
<div style="left:454px;top:108.4px;width:1px;height:36.4px;background:#f3f3f3"></div>
<div style="left:681.5px;top:108.4px;width:1px;height:36.4px;background:#f3f3f3"></div>
<div style="left:909px;top:108.4px;width:1px;height:36.4px;background:#f3f3f3"></div>
<div style="left:1136.5px;top:108.4px;width:1px;height:36.4px;background:#f3f3f3"></div>
<div style="left:1364px;top:108.4px;width:1px;height:36.4px;background:#f3f3f3"></div>
<span style="left:5.4px;top:117px;font-size:12px;line-height:20px;color:#333;letter-spacing:-0.22px;">2022-04-18 12:02:36</span>
<span style="left:232.9px;top:117px;font-size:12px;line-height:20px;color:#333;letter-spacing:-0.22px;">CreateNetworkAcl</span>
<span style="left:460.4px;top:117px;font-size:12px;line-height:20px;color:#333;letter-spacing:-0.22px;">us-east-1</span>
<span style="left:687.9px;top:117px;font-size:12px;line-height:20px;color:#333;letter-spacing:-0.22px;">null</span>
<span style="left:915.4px;top:117px;font-size:12px;line-height:20px;color:#333;letter-spacing:-0.22px;">1</span>
<div style="left:920px;top:119.05px;width:73.8px;height:15.9px;background:linear-gradient(90deg,#ededed 0px 5.27px,#ebebeb 5.27px 10.54px,#f5f5f5 10.54px 15.81px,#f5f5f5 15.81px 21.09px,#eaeaea 21.09px 26.36px,#e2e2e2 26.36px 31.63px,#e5e5e5 31.63px 36.9px,#e6e6e6 36.9px 42.17px,#e2e2e2 42.17px 47.44px,#e9e9e9 47.44px 52.71px,#e2e2e2 52.71px 57.99px,#efefef 57.99px 63.26px,#ececec 63.26px 68.53px,#ededed 68.53px 73.8px),linear-gradient(90deg,#e2e2e2 0px 5.27px,#dfdfdf 5.27px 10.54px,#cecece 10.54px 15.81px,#e9e9e9 15.81px 21.09px,#d9d9d9 21.09px 26.36px,#dadada 26.36px 31.63px,#c4c4c4 31.63px 36.9px,#e8e8e8 36.9px 42.17px,#b4b4b4 42.17px 47.44px,#b4b4b4 47.44px 52.71px,#c4c4c4 52.71px 57.99px,#bbbbbb 57.99px 63.26px,#c3c3c3 63.26px 68.53px,#dfdfdf 68.53px 73.8px),linear-gradient(90deg,#ededed 0px 5.27px,#e9e9e9 5.27px 10.54px,#f3f3f3 10.54px 15.81px,#dedede 15.81px 21.09px,#dcdcdc 21.09px 26.36px,#dddddd 26.36px 31.63px,#ececec 31.63px 36.9px,#f0f0f0 36.9px 42.17px,#eaeaea 42.17px 47.44px,#ededed 47.44px 52.71px,#f4f4f4 52.71px 57.99px,#ededed 57.99px 63.26px,#e0e0e0 63.26px 68.53px,#e1e1e1 68.53px 73.8px);background-position:0 0px,0 5.3px,0 10.6px;background-size:100% 5.3px,100% 5.3px,100% 5.3px;background-repeat:no-repeat"></div>
<div style="left:1141px;top:119.05px;width:133.5px;height:15.9px;background:linear-gradient(90deg,#ececec 0px 5.34px,#f0f0f0 5.34px 10.68px,#e6e6e6 10.68px 16.02px,#f4f4f4 16.02px 21.36px,#e7e7e7 21.36px 26.7px,#eeeeee 26.7px 32.04px,#eeeeee 32.04px 37.38px,#ebebeb 37.38px 42.72px,#ebebeb 42.72px 48.06px,#ebebeb 48.06px 53.4px,#ebebeb 53.4px 58.74px,#eeeeee 58.74px 64.08px,#f1f1f1 64.08px 69.42px,#e6e6e6 69.42px 74.76px,#e6e6e6 74.76px 80.1px,#f3f3f3 80.1px 85.44px,#f0f0f0 85.44px 90.78px,#f2f2f2 90.78px 96.12px,#e3e3e3 96.12px 101.46px,#f2f2f2 101.46px 106.8px,#e3e3e3 106.8px 112.14px,#ececec 112.14px 117.48px,#ededed 117.48px 122.82px,#f3f3f3 122.82px 128.16px,#e8e8e8 128.16px 133.5px),linear-gradient(90deg,#c5c5c5 0px 5.34px,#dddddd 5.34px 10.68px,#c5c5c5 10.68px 16.02px,#b5b5b5 16.02px 21.36px,#b9b9b9 21.36px 26.7px,#e5e5e5 26.7px 32.04px,#d6d6d6 32.04px 37.38px,#d4d4d4 37.38px 42.72px,#dcdcdc 42.72px 48.06px,#d6d6d6 48.06px 53.4px,#d0d0d0 53.4px 58.74px,#dcdcdc 58.74px 64.08px,#e2e2e2 64.08px 69.42px,#c0c0c0 69.42px 74.76px,#e6e6e6 74.76px 80.1px,#e1e1e1 80.1px 85.44px,#bfbfbf 85.44px 90.78px,#d0d0d0 90.78px 96.12px,#cfcfcf 96.12px 101.46px,#dddddd 101.46px 106.8px,#e6e6e6 106.8px 112.14px,#dbdbdb 112.14px 117.48px,#e5e5e5 117.48px 122.82px,#b4b4b4 122.82px 128.16px,#e3e3e3 128.16px 133.5px),linear-gradient(90deg,#dfdfdf 0px 5.34px,#f3f3f3 5.34px 10.68px,#dfdfdf 10.68px 16.02px,#f5f5f5 16.02px 21.36px,#f3f3f3 21.36px 26.7px,#f4f4f4 26.7px 32.04px,#e9e9e9 32.04px 37.38px,#dedede 37.38px 42.72px,#e9e9e9 42.72px 48.06px,#e2e2e2 48.06px 53.4px,#e2e2e2 53.4px 58.74px,#e5e5e5 58.74px 64.08px,#eaeaea 64.08px 69.42px,#dedede 69.42px 74.76px,#eaeaea 74.76px 80.1px,#e9e9e9 80.1px 85.44px,#e4e4e4 85.44px 90.78px,#e4e4e4 90.78px 96.12px,#dfdfdf 96.12px 101.46px,#e5e5e5 101.46px 106.8px,#e4e4e4 106.8px 112.14px,#e0e0e0 112.14px 117.48px,#f4f4f4 117.48px 122.82px,#f1f1f1 122.82px 128.16px,#e7e7e7 128.16px 133.5px);background-position:0 0px,0 5.3px,0 10.6px;background-size:100% 5.3px,100% 5.3px,100% 5.3px;background-repeat:no-repeat"></div>
<span style="left:1370.4px;top:117px;font-size:12px;line-height:20px;color:#333;letter-spacing:-0.22px;">[av</span>
<div style="left:1383.6px;top:119.05px;width:94px;height:15.9px;background:linear-gradient(90deg,#f0f0f0 0px 5.22px,#e6e6e6 5.22px 10.44px,#e7e7e7 10.44px 15.67px,#f4f4f4 15.67px 20.89px,#e5e5e5 20.89px 26.11px,#f1f1f1 26.11px 31.33px,#ededed 31.33px 36.56px,#f4f4f4 36.56px 41.78px,#f4f4f4 41.78px 47px,#e8e8e8 47px 52.22px,#f2f2f2 52.22px 57.44px,#e5e5e5 57.44px 62.67px,#e6e6e6 62.67px 67.89px,#f0f0f0 67.89px 73.11px,#e7e7e7 73.11px 78.33px,#e5e5e5 78.33px 83.56px,#eaeaea 83.56px 88.78px,#ebebeb 88.78px 94px),linear-gradient(90deg,#d6d6d6 0px 5.22px,#c4c4c4 5.22px 10.44px,#e5e5e5 10.44px 15.67px,#c5c5c5 15.67px 20.89px,#c3c3c3 20.89px 26.11px,#e9e9e9 26.11px 31.33px,#bbbbbb 31.33px 36.56px,#dcdcdc 36.56px 41.78px,#cbcbcb 41.78px 47px,#b6b6b6 47px 52.22px,#b8b8b8 52.22px 57.44px,#e3e3e3 57.44px 62.67px,#bebebe 62.67px 67.89px,#cecece 67.89px 73.11px,#e5e5e5 73.11px 78.33px,#eaeaea 78.33px 83.56px,#cfcfcf 83.56px 88.78px,#c7c7c7 88.78px 94px),linear-gradient(90deg,#f5f5f5 0px 5.22px,#f4f4f4 5.22px 10.44px,#e3e3e3 10.44px 15.67px,#e7e7e7 15.67px 20.89px,#f1f1f1 20.89px 26.11px,#dfdfdf 26.11px 31.33px,#dedede 31.33px 36.56px,#ebebeb 36.56px 41.78px,#e1e1e1 41.78px 47px,#dedede 47px 52.22px,#e1e1e1 52.22px 57.44px,#f2f2f2 57.44px 62.67px,#e8e8e8 62.67px 67.89px,#efefef 67.89px 73.11px,#dcdcdc 73.11px 78.33px,#eaeaea 78.33px 83.56px,#e9e9e9 83.56px 88.78px,#e9e9e9 88.78px 94px);background-position:0 0px,0 5.3px,0 10.6px;background-size:100% 5.3px,100% 5.3px,100% 5.3px;background-repeat:no-repeat"></div>
<div style="left:0px;top:144.8px;width:1600px;height:36.4px;background:#f6f6f6"></div>
<div style="left:0px;top:180.2px;width:1600px;height:1px;background:#f0f0f0"></div>
<div style="left:226.5px;top:144.8px;width:1px;height:36.4px;background:#f0f0f0"></div>
<div style="left:454px;top:144.8px;width:1px;height:36.4px;background:#f0f0f0"></div>
<div style="left:681.5px;top:144.8px;width:1px;height:36.4px;background:#f0f0f0"></div>
<div style="left:909px;top:144.8px;width:1px;height:36.4px;background:#f0f0f0"></div>
<div style="left:1136.5px;top:144.8px;width:1px;height:36.4px;background:#f0f0f0"></div>
<div style="left:1364px;top:144.8px;width:1px;height:36.4px;background:#f0f0f0"></div>
<span style="left:5.4px;top:153.4px;font-size:12px;line-height:20px;color:#333;letter-spacing:-0.22px;">2022-04-18 12:02:36</span>
<span style="left:232.9px;top:153.4px;font-size:12px;line-height:20px;color:#333;letter-spacing:-0.22px;">CreateNetworkAclEntry</span>
<span style="left:460.4px;top:153.4px;font-size:12px;line-height:20px;color:#333;letter-spacing:-0.22px;">us-east-2</span>
<span style="left:687.9px;top:153.4px;font-size:12px;line-height:20px;color:#333;letter-spacing:-0.22px;">null</span>
<span style="left:915.4px;top:153.4px;font-size:12px;line-height:20px;color:#333;letter-spacing:-0.22px;">1</span>
<div style="left:920px;top:155.45px;width:73.8px;height:15.9px;background:linear-gradient(90deg,#eeeeee 0px 5.27px,#eaeaea 5.27px 10.54px,#f5f5f5 10.54px 15.81px,#e2e2e2 15.81px 21.09px,#f0f0f0 21.09px 26.36px,#ebebeb 26.36px 31.63px,#eaeaea 31.63px 36.9px,#e3e3e3 36.9px 42.17px,#ebebeb 42.17px 47.44px,#f0f0f0 47.44px 52.71px,#ededed 52.71px 57.99px,#ebebeb 57.99px 63.26px,#f5f5f5 63.26px 68.53px,#f5f5f5 68.53px 73.8px),linear-gradient(90deg,#e8e8e8 0px 5.27px,#d9d9d9 5.27px 10.54px,#bfbfbf 10.54px 15.81px,#c0c0c0 15.81px 21.09px,#d8d8d8 21.09px 26.36px,#b7b7b7 26.36px 31.63px,#e1e1e1 31.63px 36.9px,#c2c2c2 36.9px 42.17px,#d5d5d5 42.17px 47.44px,#dadada 47.44px 52.71px,#e5e5e5 52.71px 57.99px,#cfcfcf 57.99px 63.26px,#cbcbcb 63.26px 68.53px,#e4e4e4 68.53px 73.8px),linear-gradient(90deg,#dddddd 0px 5.27px,#dcdcdc 5.27px 10.54px,#e0e0e0 10.54px 15.81px,#e9e9e9 15.81px 21.09px,#e9e9e9 21.09px 26.36px,#e6e6e6 26.36px 31.63px,#dddddd 31.63px 36.9px,#f4f4f4 36.9px 42.17px,#efefef 42.17px 47.44px,#e7e7e7 47.44px 52.71px,#e2e2e2 52.71px 57.99px,#ebebeb 57.99px 63.26px,#dedede 63.26px 68.53px,#e2e2e2 68.53px 73.8px);background-position:0 0px,0 5.3px,0 10.6px;background-size:100% 5.3px,100% 5.3px,100% 5.3px;background-repeat:no-repeat"></div>
<div style="left:1141px;top:155.45px;width:133.5px;height:15.9px;background:linear-gradient(90deg,#e5e5e5 0px 5.34px,#e6e6e6 5.34px 10.68px,#e5e5e5 10.68px 16.02px,#eaeaea 16.02px 21.36px,#f0f0f0 21.36px 26.7px,#f5f5f5 26.7px 32.04px,#e7e7e7 32.04px 37.38px,#e6e6e6 37.38px 42.72px,#e9e9e9 42.72px 48.06px,#e7e7e7 48.06px 53.4px,#efefef 53.4px 58.74px,#e3e3e3 58.74px 64.08px,#f1f1f1 64.08px 69.42px,#e5e5e5 69.42px 74.76px,#e5e5e5 74.76px 80.1px,#ebebeb 80.1px 85.44px,#ebebeb 85.44px 90.78px,#efefef 90.78px 96.12px,#f4f4f4 96.12px 101.46px,#f1f1f1 101.46px 106.8px,#e4e4e4 106.8px 112.14px,#eeeeee 112.14px 117.48px,#e9e9e9 117.48px 122.82px,#f4f4f4 122.82px 128.16px,#ebebeb 128.16px 133.5px),linear-gradient(90deg,#e6e6e6 0px 5.34px,#d5d5d5 5.34px 10.68px,#c7c7c7 10.68px 16.02px,#e5e5e5 16.02px 21.36px,#b8b8b8 21.36px 26.7px,#e9e9e9 26.7px 32.04px,#e0e0e0 32.04px 37.38px,#c0c0c0 37.38px 42.72px,#d0d0d0 42.72px 48.06px,#e0e0e0 48.06px 53.4px,#e1e1e1 53.4px 58.74px,#b8b8b8 58.74px 64.08px,#c8c8c8 64.08px 69.42px,#bdbdbd 69.42px 74.76px,#e7e7e7 74.76px 80.1px,#bdbdbd 80.1px 85.44px,#bcbcbc 85.44px 90.78px,#b6b6b6 90.78px 96.12px,#e4e4e4 96.12px 101.46px,#dcdcdc 101.46px 106.8px,#eaeaea 106.8px 112.14px,#d0d0d0 112.14px 117.48px,#d4d4d4 117.48px 122.82px,#c7c7c7 122.82px 128.16px,#d8d8d8 128.16px 133.5px),linear-gradient(90deg,#ececec 0px 5.34px,#ededed 5.34px 10.68px,#dedede 10.68px 16.02px,#e3e3e3 16.02px 21.36px,#e7e7e7 21.36px 26.7px,#f0f0f0 26.7px 32.04px,#e5e5e5 32.04px 37.38px,#dcdcdc 37.38px 42.72px,#e5e5e5 42.72px 48.06px,#eeeeee 48.06px 53.4px,#dedede 53.4px 58.74px,#e4e4e4 58.74px 64.08px,#eaeaea 64.08px 69.42px,#dddddd 69.42px 74.76px,#dcdcdc 74.76px 80.1px,#f4f4f4 80.1px 85.44px,#e6e6e6 85.44px 90.78px,#ededed 90.78px 96.12px,#efefef 96.12px 101.46px,#ebebeb 101.46px 106.8px,#f4f4f4 106.8px 112.14px,#f4f4f4 112.14px 117.48px,#ededed 117.48px 122.82px,#f1f1f1 122.82px 128.16px,#f2f2f2 128.16px 133.5px);background-position:0 0px,0 5.3px,0 10.6px;background-size:100% 5.3px,100% 5.3px,100% 5.3px;background-repeat:no-repeat"></div>
<span style="left:1370.4px;top:153.4px;font-size:12px;line-height:20px;color:#333;letter-spacing:-0.22px;">[av</span>
<div style="left:1383.6px;top:155.45px;width:94px;height:15.9px;background:linear-gradient(90deg,#efefef 0px 5.22px,#f3f3f3 5.22px 10.44px,#f5f5f5 10.44px 15.67px,#e6e6e6 15.67px 20.89px,#f3f3f3 20.89px 26.11px,#f5f5f5 26.11px 31.33px,#f0f0f0 31.33px 36.56px,#f4f4f4 36.56px 41.78px,#ececec 41.78px 47px,#f4f4f4 47px 52.22px,#f3f3f3 52.22px 57.44px,#efefef 57.44px 62.67px,#e2e2e2 62.67px 67.89px,#ebebeb 67.89px 73.11px,#f0f0f0 73.11px 78.33px,#f0f0f0 78.33px 83.56px,#e8e8e8 83.56px 88.78px,#eeeeee 88.78px 94px),linear-gradient(90deg,#c1c1c1 0px 5.22px,#dedede 5.22px 10.44px,#c2c2c2 10.44px 15.67px,#c3c3c3 15.67px 20.89px,#b4b4b4 20.89px 26.11px,#c3c3c3 26.11px 31.33px,#d7d7d7 31.33px 36.56px,#e3e3e3 36.56px 41.78px,#b5b5b5 41.78px 47px,#d7d7d7 47px 52.22px,#c1c1c1 52.22px 57.44px,#e8e8e8 57.44px 62.67px,#c6c6c6 62.67px 67.89px,#e2e2e2 67.89px 73.11px,#bdbdbd 73.11px 78.33px,#c5c5c5 78.33px 83.56px,#bababa 83.56px 88.78px,#dadada 88.78px 94px),linear-gradient(90deg,#ececec 0px 5.22px,#f1f1f1 5.22px 10.44px,#e1e1e1 10.44px 15.67px,#e3e3e3 15.67px 20.89px,#e3e3e3 20.89px 26.11px,#dcdcdc 26.11px 31.33px,#eaeaea 31.33px 36.56px,#f5f5f5 36.56px 41.78px,#e7e7e7 41.78px 47px,#dcdcdc 47px 52.22px,#f2f2f2 52.22px 57.44px,#dddddd 57.44px 62.67px,#dcdcdc 62.67px 67.89px,#e4e4e4 67.89px 73.11px,#e9e9e9 73.11px 78.33px,#f2f2f2 78.33px 83.56px,#f0f0f0 83.56px 88.78px,#e2e2e2 88.78px 94px);background-position:0 0px,0 5.3px,0 10.6px;background-size:100% 5.3px,100% 5.3px,100% 5.3px;background-repeat:no-repeat"></div>
<div style="left:0px;top:181.2px;width:1600px;height:36.4px;background:#fff"></div>
<div style="left:0px;top:216.6px;width:1600px;height:1px;background:#f0f0f0"></div>
<div style="left:226.5px;top:181.2px;width:1px;height:36.4px;background:#f3f3f3"></div>
<div style="left:454px;top:181.2px;width:1px;height:36.4px;background:#f3f3f3"></div>
<div style="left:681.5px;top:181.2px;width:1px;height:36.4px;background:#f3f3f3"></div>
<div style="left:909px;top:181.2px;width:1px;height:36.4px;background:#f3f3f3"></div>
<div style="left:1136.5px;top:181.2px;width:1px;height:36.4px;background:#f3f3f3"></div>
<div style="left:1364px;top:181.2px;width:1px;height:36.4px;background:#f3f3f3"></div>
<span style="left:5.4px;top:189.8px;font-size:12px;line-height:20px;color:#333;letter-spacing:-0.22px;">2022-04-18 12:02:26</span>
<span style="left:232.9px;top:189.8px;font-size:12px;line-height:20px;color:#333;letter-spacing:-0.22px;">CreateNetworkAclEntry</span>
<span style="left:460.4px;top:189.8px;font-size:12px;line-height:20px;color:#333;letter-spacing:-0.22px;">us-east-2</span>
<span style="left:687.9px;top:189.8px;font-size:12px;line-height:20px;color:#333;letter-spacing:-0.22px;">null</span>
<span style="left:915.4px;top:189.8px;font-size:12px;line-height:20px;color:#333;letter-spacing:-0.22px;">1</span>
<div style="left:920px;top:191.85px;width:73.8px;height:15.9px;background:linear-gradient(90deg,#e7e7e7 0px 5.27px,#f1f1f1 5.27px 10.54px,#eeeeee 10.54px 15.81px,#eaeaea 15.81px 21.09px,#efefef 21.09px 26.36px,#f1f1f1 26.36px 31.63px,#f4f4f4 31.63px 36.9px,#eeeeee 36.9px 42.17px,#ededed 42.17px 47.44px,#e5e5e5 47.44px 52.71px,#e4e4e4 52.71px 57.99px,#eaeaea 57.99px 63.26px,#e6e6e6 63.26px 68.53px,#e6e6e6 68.53px 73.8px),linear-gradient(90deg,#bcbcbc 0px 5.27px,#e3e3e3 5.27px 10.54px,#d8d8d8 10.54px 15.81px,#d8d8d8 15.81px 21.09px,#e3e3e3 21.09px 26.36px,#eaeaea 26.36px 31.63px,#d7d7d7 31.63px 36.9px,#dbdbdb 36.9px 42.17px,#e5e5e5 42.17px 47.44px,#dcdcdc 47.44px 52.71px,#e7e7e7 52.71px 57.99px,#b5b5b5 57.99px 63.26px,#e9e9e9 63.26px 68.53px,#cecece 68.53px 73.8px),linear-gradient(90deg,#eaeaea 0px 5.27px,#ededed 5.27px 10.54px,#f4f4f4 10.54px 15.81px,#e4e4e4 15.81px 21.09px,#f3f3f3 21.09px 26.36px,#e6e6e6 26.36px 31.63px,#e6e6e6 31.63px 36.9px,#eaeaea 36.9px 42.17px,#e4e4e4 42.17px 47.44px,#eeeeee 47.44px 52.71px,#eeeeee 52.71px 57.99px,#e8e8e8 57.99px 63.26px,#e7e7e7 63.26px 68.53px,#dddddd 68.53px 73.8px);background-position:0 0px,0 5.3px,0 10.6px;background-size:100% 5.3px,100% 5.3px,100% 5.3px;background-repeat:no-repeat"></div>
<div style="left:1141px;top:191.85px;width:133.5px;height:15.9px;background:linear-gradient(90deg,#efefef 0px 5.34px,#e9e9e9 5.34px 10.68px,#f2f2f2 10.68px 16.02px,#e9e9e9 16.02px 21.36px,#e6e6e6 21.36px 26.7px,#e8e8e8 26.7px 32.04px,#e9e9e9 32.04px 37.38px,#ececec 37.38px 42.72px,#efefef 42.72px 48.06px,#eaeaea 48.06px 53.4px,#f3f3f3 53.4px 58.74px,#e2e2e2 58.74px 64.08px,#efefef 64.08px 69.42px,#e3e3e3 69.42px 74.76px,#efefef 74.76px 80.1px,#ebebeb 80.1px 85.44px,#ececec 85.44px 90.78px,#ebebeb 90.78px 96.12px,#e4e4e4 96.12px 101.46px,#e2e2e2 101.46px 106.8px,#e6e6e6 106.8px 112.14px,#e5e5e5 112.14px 117.48px,#e5e5e5 117.48px 122.82px,#ededed 122.82px 128.16px,#e8e8e8 128.16px 133.5px),linear-gradient(90deg,#e4e4e4 0px 5.34px,#b4b4b4 5.34px 10.68px,#dddddd 10.68px 16.02px,#dcdcdc 16.02px 21.36px,#dddddd 21.36px 26.7px,#d7d7d7 26.7px 32.04px,#bababa 32.04px 37.38px,#cdcdcd 37.38px 42.72px,#bbbbbb 42.72px 48.06px,#e5e5e5 48.06px 53.4px,#e1e1e1 53.4px 58.74px,#b7b7b7 58.74px 64.08px,#d4d4d4 64.08px 69.42px,#d8d8d8 69.42px 74.76px,#b6b6b6 74.76px 80.1px,#d7d7d7 80.1px 85.44px,#dadada 85.44px 90.78px,#c1c1c1 90.78px 96.12px,#e6e6e6 96.12px 101.46px,#d0d0d0 101.46px 106.8px,#e0e0e0 106.8px 112.14px,#cbcbcb 112.14px 117.48px,#d0d0d0 117.48px 122.82px,#d7d7d7 122.82px 128.16px,#d3d3d3 128.16px 133.5px),linear-gradient(90deg,#f5f5f5 0px 5.34px,#efefef 5.34px 10.68px,#ededed 10.68px 16.02px,#e0e0e0 16.02px 21.36px,#f4f4f4 21.36px 26.7px,#dddddd 26.7px 32.04px,#f2f2f2 32.04px 37.38px,#f2f2f2 37.38px 42.72px,#e9e9e9 42.72px 48.06px,#ebebeb 48.06px 53.4px,#e3e3e3 53.4px 58.74px,#f3f3f3 58.74px 64.08px,#e2e2e2 64.08px 69.42px,#f2f2f2 69.42px 74.76px,#e3e3e3 74.76px 80.1px,#eaeaea 80.1px 85.44px,#f3f3f3 85.44px 90.78px,#e4e4e4 90.78px 96.12px,#f0f0f0 96.12px 101.46px,#e0e0e0 101.46px 106.8px,#dfdfdf 106.8px 112.14px,#e9e9e9 112.14px 117.48px,#e9e9e9 117.48px 122.82px,#f4f4f4 122.82px 128.16px,#dedede 128.16px 133.5px);background-position:0 0px,0 5.3px,0 10.6px;background-size:100% 5.3px,100% 5.3px,100% 5.3px;background-repeat:no-repeat"></div>
<span style="left:1370.4px;top:189.8px;font-size:12px;line-height:20px;color:#333;letter-spacing:-0.22px;">[av</span>
<div style="left:1383.6px;top:191.85px;width:94px;height:15.9px;background:linear-gradient(90deg,#e5e5e5 0px 5.22px,#e4e4e4 5.22px 10.44px,#f4f4f4 10.44px 15.67px,#f4f4f4 15.67px 20.89px,#f1f1f1 20.89px 26.11px,#e3e3e3 26.11px 31.33px,#ededed 31.33px 36.56px,#e6e6e6 36.56px 41.78px,#ececec 41.78px 47px,#eeeeee 47px 52.22px,#e6e6e6 52.22px 57.44px,#f2f2f2 57.44px 62.67px,#e2e2e2 62.67px 67.89px,#e7e7e7 67.89px 73.11px,#eeeeee 73.11px 78.33px,#e2e2e2 78.33px 83.56px,#ececec 83.56px 88.78px,#e4e4e4 88.78px 94px),linear-gradient(90deg,#c3c3c3 0px 5.22px,#d0d0d0 5.22px 10.44px,#cdcdcd 10.44px 15.67px,#bcbcbc 15.67px 20.89px,#e2e2e2 20.89px 26.11px,#cdcdcd 26.11px 31.33px,#cccccc 31.33px 36.56px,#dedede 36.56px 41.78px,#cfcfcf 41.78px 47px,#b5b5b5 47px 52.22px,#dfdfdf 52.22px 57.44px,#bcbcbc 57.44px 62.67px,#e1e1e1 62.67px 67.89px,#dbdbdb 67.89px 73.11px,#b9b9b9 73.11px 78.33px,#d8d8d8 78.33px 83.56px,#e9e9e9 83.56px 88.78px,#bfbfbf 88.78px 94px),linear-gradient(90deg,#f0f0f0 0px 5.22px,#dcdcdc 5.22px 10.44px,#e2e2e2 10.44px 15.67px,#ebebeb 15.67px 20.89px,#eeeeee 20.89px 26.11px,#ededed 26.11px 31.33px,#e2e2e2 31.33px 36.56px,#e3e3e3 36.56px 41.78px,#dedede 41.78px 47px,#dedede 47px 52.22px,#e3e3e3 52.22px 57.44px,#e6e6e6 57.44px 62.67px,#eaeaea 62.67px 67.89px,#e9e9e9 67.89px 73.11px,#eeeeee 73.11px 78.33px,#eeeeee 78.33px 83.56px,#e4e4e4 83.56px 88.78px,#f4f4f4 88.78px 94px);background-position:0 0px,0 5.3px,0 10.6px;background-size:100% 5.3px,100% 5.3px,100% 5.3px;background-repeat:no-repeat"></div>
<div style="left:0px;top:217.6px;width:1600px;height:36.4px;background:#f6f6f6"></div>
<div style="left:0px;top:253px;width:1600px;height:1px;background:#f0f0f0"></div>
<div style="left:226.5px;top:217.6px;width:1px;height:36.4px;background:#f0f0f0"></div>
<div style="left:454px;top:217.6px;width:1px;height:36.4px;background:#f0f0f0"></div>
<div style="left:681.5px;top:217.6px;width:1px;height:36.4px;background:#f0f0f0"></div>
<div style="left:909px;top:217.6px;width:1px;height:36.4px;background:#f0f0f0"></div>
<div style="left:1136.5px;top:217.6px;width:1px;height:36.4px;background:#f0f0f0"></div>
<div style="left:1364px;top:217.6px;width:1px;height:36.4px;background:#f0f0f0"></div>
<span style="left:5.4px;top:226.2px;font-size:12px;line-height:20px;color:#333;letter-spacing:-0.22px;">2022-04-18 12:02:16</span>
<span style="left:232.9px;top:226.2px;font-size:12px;line-height:20px;color:#333;letter-spacing:-0.22px;">CreateNetworkAclEntry</span>
<span style="left:460.4px;top:226.2px;font-size:12px;line-height:20px;color:#333;letter-spacing:-0.22px;">us-east-2</span>
<span style="left:687.9px;top:226.2px;font-size:12px;line-height:20px;color:#333;letter-spacing:-0.22px;">null</span>
<span style="left:915.4px;top:226.2px;font-size:12px;line-height:20px;color:#333;letter-spacing:-0.22px;">1</span>
<div style="left:920px;top:228.25px;width:73.8px;height:15.9px;background:linear-gradient(90deg,#f1f1f1 0px 5.27px,#f3f3f3 5.27px 10.54px,#e5e5e5 10.54px 15.81px,#e7e7e7 15.81px 21.09px,#ebebeb 21.09px 26.36px,#f1f1f1 26.36px 31.63px,#f3f3f3 31.63px 36.9px,#e7e7e7 36.9px 42.17px,#ececec 42.17px 47.44px,#ededed 47.44px 52.71px,#f1f1f1 52.71px 57.99px,#efefef 57.99px 63.26px,#ebebeb 63.26px 68.53px,#ebebeb 68.53px 73.8px),linear-gradient(90deg,#e3e3e3 0px 5.27px,#d0d0d0 5.27px 10.54px,#d2d2d2 10.54px 15.81px,#c9c9c9 15.81px 21.09px,#b7b7b7 21.09px 26.36px,#d2d2d2 26.36px 31.63px,#c7c7c7 31.63px 36.9px,#c3c3c3 36.9px 42.17px,#c4c4c4 42.17px 47.44px,#d1d1d1 47.44px 52.71px,#cecece 52.71px 57.99px,#bcbcbc 57.99px 63.26px,#b6b6b6 63.26px 68.53px,#c6c6c6 68.53px 73.8px),linear-gradient(90deg,#ececec 0px 5.27px,#dfdfdf 5.27px 10.54px,#e7e7e7 10.54px 15.81px,#ececec 15.81px 21.09px,#e9e9e9 21.09px 26.36px,#e5e5e5 26.36px 31.63px,#e4e4e4 31.63px 36.9px,#e0e0e0 36.9px 42.17px,#dddddd 42.17px 47.44px,#e9e9e9 47.44px 52.71px,#e6e6e6 52.71px 57.99px,#eeeeee 57.99px 63.26px,#ececec 63.26px 68.53px,#ececec 68.53px 73.8px);background-position:0 0px,0 5.3px,0 10.6px;background-size:100% 5.3px,100% 5.3px,100% 5.3px;background-repeat:no-repeat"></div>
<div style="left:1141px;top:228.25px;width:133.5px;height:15.9px;background:linear-gradient(90deg,#e7e7e7 0px 5.34px,#f3f3f3 5.34px 10.68px,#f1f1f1 10.68px 16.02px,#eeeeee 16.02px 21.36px,#f1f1f1 21.36px 26.7px,#e4e4e4 26.7px 32.04px,#ececec 32.04px 37.38px,#e5e5e5 37.38px 42.72px,#e3e3e3 42.72px 48.06px,#eeeeee 48.06px 53.4px,#eeeeee 53.4px 58.74px,#efefef 58.74px 64.08px,#eeeeee 64.08px 69.42px,#ededed 69.42px 74.76px,#f3f3f3 74.76px 80.1px,#f0f0f0 80.1px 85.44px,#e3e3e3 85.44px 90.78px,#ebebeb 90.78px 96.12px,#e5e5e5 96.12px 101.46px,#f5f5f5 101.46px 106.8px,#f1f1f1 106.8px 112.14px,#e2e2e2 112.14px 117.48px,#f4f4f4 117.48px 122.82px,#ececec 122.82px 128.16px,#efefef 128.16px 133.5px),linear-gradient(90deg,#cbcbcb 0px 5.34px,#dadada 5.34px 10.68px,#d0d0d0 10.68px 16.02px,#c6c6c6 16.02px 21.36px,#e2e2e2 21.36px 26.7px,#d3d3d3 26.7px 32.04px,#d6d6d6 32.04px 37.38px,#e2e2e2 37.38px 42.72px,#bcbcbc 42.72px 48.06px,#e1e1e1 48.06px 53.4px,#c3c3c3 53.4px 58.74px,#bbbbbb 58.74px 64.08px,#b9b9b9 64.08px 69.42px,#bcbcbc 69.42px 74.76px,#c8c8c8 74.76px 80.1px,#bfbfbf 80.1px 85.44px,#bcbcbc 85.44px 90.78px,#d4d4d4 90.78px 96.12px,#cecece 96.12px 101.46px,#c6c6c6 101.46px 106.8px,#bababa 106.8px 112.14px,#c8c8c8 112.14px 117.48px,#c8c8c8 117.48px 122.82px,#bfbfbf 122.82px 128.16px,#d1d1d1 128.16px 133.5px),linear-gradient(90deg,#e7e7e7 0px 5.34px,#e2e2e2 5.34px 10.68px,#f3f3f3 10.68px 16.02px,#efefef 16.02px 21.36px,#e0e0e0 21.36px 26.7px,#dddddd 26.7px 32.04px,#e7e7e7 32.04px 37.38px,#dddddd 37.38px 42.72px,#e4e4e4 42.72px 48.06px,#f0f0f0 48.06px 53.4px,#e0e0e0 53.4px 58.74px,#e3e3e3 58.74px 64.08px,#e6e6e6 64.08px 69.42px,#ebebeb 69.42px 74.76px,#e2e2e2 74.76px 80.1px,#e9e9e9 80.1px 85.44px,#ececec 85.44px 90.78px,#e6e6e6 90.78px 96.12px,#e5e5e5 96.12px 101.46px,#e6e6e6 101.46px 106.8px,#dfdfdf 106.8px 112.14px,#f2f2f2 112.14px 117.48px,#e4e4e4 117.48px 122.82px,#f1f1f1 122.82px 128.16px,#eaeaea 128.16px 133.5px);background-position:0 0px,0 5.3px,0 10.6px;background-size:100% 5.3px,100% 5.3px,100% 5.3px;background-repeat:no-repeat"></div>
<span style="left:1370.4px;top:226.2px;font-size:12px;line-height:20px;color:#333;letter-spacing:-0.22px;">[av</span>
<div style="left:1383.6px;top:228.25px;width:94px;height:15.9px;background:linear-gradient(90deg,#e7e7e7 0px 5.22px,#f1f1f1 5.22px 10.44px,#f4f4f4 10.44px 15.67px,#e3e3e3 15.67px 20.89px,#e5e5e5 20.89px 26.11px,#e8e8e8 26.11px 31.33px,#f4f4f4 31.33px 36.56px,#ededed 36.56px 41.78px,#f5f5f5 41.78px 47px,#eeeeee 47px 52.22px,#e2e2e2 52.22px 57.44px,#f2f2f2 57.44px 62.67px,#ececec 62.67px 67.89px,#e3e3e3 67.89px 73.11px,#ededed 73.11px 78.33px,#eaeaea 78.33px 83.56px,#efefef 83.56px 88.78px,#ececec 88.78px 94px),linear-gradient(90deg,#cbcbcb 0px 5.22px,#b5b5b5 5.22px 10.44px,#c7c7c7 10.44px 15.67px,#d5d5d5 15.67px 20.89px,#dfdfdf 20.89px 26.11px,#e4e4e4 26.11px 31.33px,#e6e6e6 31.33px 36.56px,#bbbbbb 36.56px 41.78px,#dfdfdf 41.78px 47px,#d7d7d7 47px 52.22px,#e2e2e2 52.22px 57.44px,#d8d8d8 57.44px 62.67px,#cfcfcf 62.67px 67.89px,#bfbfbf 67.89px 73.11px,#cdcdcd 73.11px 78.33px,#cecece 78.33px 83.56px,#bbbbbb 83.56px 88.78px,#c4c4c4 88.78px 94px),linear-gradient(90deg,#dddddd 0px 5.22px,#f3f3f3 5.22px 10.44px,#dedede 10.44px 15.67px,#e9e9e9 15.67px 20.89px,#f3f3f3 20.89px 26.11px,#e1e1e1 26.11px 31.33px,#efefef 31.33px 36.56px,#ececec 36.56px 41.78px,#e6e6e6 41.78px 47px,#dddddd 47px 52.22px,#efefef 52.22px 57.44px,#f2f2f2 57.44px 62.67px,#e3e3e3 62.67px 67.89px,#f5f5f5 67.89px 73.11px,#e2e2e2 73.11px 78.33px,#dddddd 78.33px 83.56px,#e2e2e2 83.56px 88.78px,#e7e7e7 88.78px 94px);background-position:0 0px,0 5.3px,0 10.6px;background-size:100% 5.3px,100% 5.3px,100% 5.3px;background-repeat:no-repeat"></div>
<div style="left:0px;top:254px;width:1600px;height:36.4px;background:#fff"></div>
<div style="left:0px;top:289.4px;width:1600px;height:1px;background:#f0f0f0"></div>
<div style="left:226.5px;top:254px;width:1px;height:36.4px;background:#f3f3f3"></div>
<div style="left:454px;top:254px;width:1px;height:36.4px;background:#f3f3f3"></div>
<div style="left:681.5px;top:254px;width:1px;height:36.4px;background:#f3f3f3"></div>
<div style="left:909px;top:254px;width:1px;height:36.4px;background:#f3f3f3"></div>
<div style="left:1136.5px;top:254px;width:1px;height:36.4px;background:#f3f3f3"></div>
<div style="left:1364px;top:254px;width:1px;height:36.4px;background:#f3f3f3"></div>
<span style="left:5.4px;top:262.6px;font-size:12px;line-height:20px;color:#333;letter-spacing:-0.22px;">2022-04-18 12:02:16</span>
<span style="left:232.9px;top:262.6px;font-size:12px;line-height:20px;color:#333;letter-spacing:-0.22px;">CreateNetworkAclEntry</span>
<span style="left:460.4px;top:262.6px;font-size:12px;line-height:20px;color:#333;letter-spacing:-0.22px;">us-east-2</span>
<span style="left:687.9px;top:262.6px;font-size:12px;line-height:20px;color:#333;letter-spacing:-0.22px;">null</span>
<span style="left:915.4px;top:262.6px;font-size:12px;line-height:20px;color:#333;letter-spacing:-0.22px;">1</span>
<div style="left:920px;top:264.65px;width:73.8px;height:15.9px;background:linear-gradient(90deg,#f4f4f4 0px 5.27px,#e6e6e6 5.27px 10.54px,#f2f2f2 10.54px 15.81px,#eeeeee 15.81px 21.09px,#ededed 21.09px 26.36px,#ececec 26.36px 31.63px,#efefef 31.63px 36.9px,#f0f0f0 36.9px 42.17px,#e3e3e3 42.17px 47.44px,#ededed 47.44px 52.71px,#efefef 52.71px 57.99px,#eaeaea 57.99px 63.26px,#f5f5f5 63.26px 68.53px,#f1f1f1 68.53px 73.8px),linear-gradient(90deg,#c8c8c8 0px 5.27px,#c2c2c2 5.27px 10.54px,#e4e4e4 10.54px 15.81px,#b6b6b6 15.81px 21.09px,#dedede 21.09px 26.36px,#b7b7b7 26.36px 31.63px,#c9c9c9 31.63px 36.9px,#d9d9d9 36.9px 42.17px,#c4c4c4 42.17px 47.44px,#b4b4b4 47.44px 52.71px,#c6c6c6 52.71px 57.99px,#b7b7b7 57.99px 63.26px,#dedede 63.26px 68.53px,#c8c8c8 68.53px 73.8px),linear-gradient(90deg,#e1e1e1 0px 5.27px,#e4e4e4 5.27px 10.54px,#f3f3f3 10.54px 15.81px,#e2e2e2 15.81px 21.09px,#dedede 21.09px 26.36px,#dcdcdc 26.36px 31.63px,#e3e3e3 31.63px 36.9px,#eaeaea 36.9px 42.17px,#f2f2f2 42.17px 47.44px,#f1f1f1 47.44px 52.71px,#e8e8e8 52.71px 57.99px,#e0e0e0 57.99px 63.26px,#dfdfdf 63.26px 68.53px,#dfdfdf 68.53px 73.8px);background-position:0 0px,0 5.3px,0 10.6px;background-size:100% 5.3px,100% 5.3px,100% 5.3px;background-repeat:no-repeat"></div>
<div style="left:1141px;top:264.65px;width:133.5px;height:15.9px;background:linear-gradient(90deg,#e4e4e4 0px 5.34px,#f0f0f0 5.34px 10.68px,#e5e5e5 10.68px 16.02px,#f4f4f4 16.02px 21.36px,#e9e9e9 21.36px 26.7px,#eeeeee 26.7px 32.04px,#e2e2e2 32.04px 37.38px,#f3f3f3 37.38px 42.72px,#e4e4e4 42.72px 48.06px,#f1f1f1 48.06px 53.4px,#ebebeb 53.4px 58.74px,#e8e8e8 58.74px 64.08px,#e6e6e6 64.08px 69.42px,#ebebeb 69.42px 74.76px,#f4f4f4 74.76px 80.1px,#e8e8e8 80.1px 85.44px,#ededed 85.44px 90.78px,#f3f3f3 90.78px 96.12px,#ebebeb 96.12px 101.46px,#e9e9e9 101.46px 106.8px,#efefef 106.8px 112.14px,#ededed 112.14px 117.48px,#e3e3e3 117.48px 122.82px,#ededed 122.82px 128.16px,#e6e6e6 128.16px 133.5px),linear-gradient(90deg,#c7c7c7 0px 5.34px,#b5b5b5 5.34px 10.68px,#c7c7c7 10.68px 16.02px,#c9c9c9 16.02px 21.36px,#e6e6e6 21.36px 26.7px,#cbcbcb 26.7px 32.04px,#c5c5c5 32.04px 37.38px,#d8d8d8 37.38px 42.72px,#dadada 42.72px 48.06px,#c9c9c9 48.06px 53.4px,#dddddd 53.4px 58.74px,#e2e2e2 58.74px 64.08px,#c4c4c4 64.08px 69.42px,#dfdfdf 69.42px 74.76px,#c8c8c8 74.76px 80.1px,#d4d4d4 80.1px 85.44px,#c9c9c9 85.44px 90.78px,#bbbbbb 90.78px 96.12px,#e1e1e1 96.12px 101.46px,#c4c4c4 101.46px 106.8px,#b9b9b9 106.8px 112.14px,#b5b5b5 112.14px 117.48px,#b5b5b5 117.48px 122.82px,#c6c6c6 122.82px 128.16px,#b6b6b6 128.16px 133.5px),linear-gradient(90deg,#dfdfdf 0px 5.34px,#e0e0e0 5.34px 10.68px,#dedede 10.68px 16.02px,#f1f1f1 16.02px 21.36px,#ebebeb 21.36px 26.7px,#f3f3f3 26.7px 32.04px,#efefef 32.04px 37.38px,#e4e4e4 37.38px 42.72px,#dcdcdc 42.72px 48.06px,#f4f4f4 48.06px 53.4px,#f1f1f1 53.4px 58.74px,#e5e5e5 58.74px 64.08px,#ebebeb 64.08px 69.42px,#e2e2e2 69.42px 74.76px,#e9e9e9 74.76px 80.1px,#e0e0e0 80.1px 85.44px,#e2e2e2 85.44px 90.78px,#eaeaea 90.78px 96.12px,#f2f2f2 96.12px 101.46px,#eaeaea 101.46px 106.8px,#e1e1e1 106.8px 112.14px,#efefef 112.14px 117.48px,#ededed 117.48px 122.82px,#f0f0f0 122.82px 128.16px,#eaeaea 128.16px 133.5px);background-position:0 0px,0 5.3px,0 10.6px;background-size:100% 5.3px,100% 5.3px,100% 5.3px;background-repeat:no-repeat"></div>
<span style="left:1370.4px;top:262.6px;font-size:12px;line-height:20px;color:#333;letter-spacing:-0.22px;">[av</span>
<div style="left:1383.6px;top:264.65px;width:94px;height:15.9px;background:linear-gradient(90deg,#e3e3e3 0px 5.22px,#eeeeee 5.22px 10.44px,#f2f2f2 10.44px 15.67px,#f3f3f3 15.67px 20.89px,#e7e7e7 20.89px 26.11px,#eeeeee 26.11px 31.33px,#e9e9e9 31.33px 36.56px,#eaeaea 36.56px 41.78px,#e3e3e3 41.78px 47px,#f1f1f1 47px 52.22px,#e9e9e9 52.22px 57.44px,#eaeaea 57.44px 62.67px,#e7e7e7 62.67px 67.89px,#e2e2e2 67.89px 73.11px,#f0f0f0 73.11px 78.33px,#f0f0f0 78.33px 83.56px,#f2f2f2 83.56px 88.78px,#f0f0f0 88.78px 94px),linear-gradient(90deg,#eaeaea 0px 5.22px,#bababa 5.22px 10.44px,#dcdcdc 10.44px 15.67px,#d6d6d6 15.67px 20.89px,#bbbbbb 20.89px 26.11px,#cacaca 26.11px 31.33px,#d5d5d5 31.33px 36.56px,#e4e4e4 36.56px 41.78px,#b5b5b5 41.78px 47px,#bdbdbd 47px 52.22px,#c7c7c7 52.22px 57.44px,#c4c4c4 57.44px 62.67px,#c3c3c3 62.67px 67.89px,#bcbcbc 67.89px 73.11px,#c1c1c1 73.11px 78.33px,#d4d4d4 78.33px 83.56px,#cecece 83.56px 88.78px,#d5d5d5 88.78px 94px),linear-gradient(90deg,#e5e5e5 0px 5.22px,#f5f5f5 5.22px 10.44px,#e2e2e2 10.44px 15.67px,#e5e5e5 15.67px 20.89px,#e2e2e2 20.89px 26.11px,#f0f0f0 26.11px 31.33px,#dfdfdf 31.33px 36.56px,#dddddd 36.56px 41.78px,#e3e3e3 41.78px 47px,#f1f1f1 47px 52.22px,#dddddd 52.22px 57.44px,#e7e7e7 57.44px 62.67px,#ededed 62.67px 67.89px,#e8e8e8 67.89px 73.11px,#ebebeb 73.11px 78.33px,#ededed 78.33px 83.56px,#eaeaea 83.56px 88.78px,#e1e1e1 88.78px 94px);background-position:0 0px,0 5.3px,0 10.6px;background-size:100% 5.3px,100% 5.3px,100% 5.3px;background-repeat:no-repeat"></div>
<div style="left:0px;top:290.4px;width:1600px;height:36.4px;background:#f6f6f6"></div>
<div style="left:0px;top:325.8px;width:1600px;height:1px;background:#f0f0f0"></div>
<div style="left:226.5px;top:290.4px;width:1px;height:36.4px;background:#f0f0f0"></div>
<div style="left:454px;top:290.4px;width:1px;height:36.4px;background:#f0f0f0"></div>
<div style="left:681.5px;top:290.4px;width:1px;height:36.4px;background:#f0f0f0"></div>
<div style="left:909px;top:290.4px;width:1px;height:36.4px;background:#f0f0f0"></div>
<div style="left:1136.5px;top:290.4px;width:1px;height:36.4px;background:#f0f0f0"></div>
<div style="left:1364px;top:290.4px;width:1px;height:36.4px;background:#f0f0f0"></div>
<span style="left:5.4px;top:299px;font-size:12px;line-height:20px;color:#333;letter-spacing:-0.22px;">2022-04-18 12:02:16</span>
<span style="left:232.9px;top:299px;font-size:12px;line-height:20px;color:#333;letter-spacing:-0.22px;">CreateNetworkAclEntry</span>
<span style="left:460.4px;top:299px;font-size:12px;line-height:20px;color:#333;letter-spacing:-0.22px;">us-east-2</span>
<span style="left:687.9px;top:299px;font-size:12px;line-height:20px;color:#333;letter-spacing:-0.22px;">null</span>
<span style="left:915.4px;top:299px;font-size:12px;line-height:20px;color:#333;letter-spacing:-0.22px;">1</span>
<div style="left:920px;top:301.05px;width:73.8px;height:15.9px;background:linear-gradient(90deg,#f1f1f1 0px 5.27px,#f4f4f4 5.27px 10.54px,#e7e7e7 10.54px 15.81px,#e6e6e6 15.81px 21.09px,#e9e9e9 21.09px 26.36px,#e5e5e5 26.36px 31.63px,#f1f1f1 31.63px 36.9px,#e7e7e7 36.9px 42.17px,#ececec 42.17px 47.44px,#f4f4f4 47.44px 52.71px,#f1f1f1 52.71px 57.99px,#e9e9e9 57.99px 63.26px,#f1f1f1 63.26px 68.53px,#e7e7e7 68.53px 73.8px),linear-gradient(90deg,#d2d2d2 0px 5.27px,#d1d1d1 5.27px 10.54px,#c6c6c6 10.54px 15.81px,#bababa 15.81px 21.09px,#dfdfdf 21.09px 26.36px,#b7b7b7 26.36px 31.63px,#c0c0c0 31.63px 36.9px,#bdbdbd 36.9px 42.17px,#c0c0c0 42.17px 47.44px,#c1c1c1 47.44px 52.71px,#e3e3e3 52.71px 57.99px,#b4b4b4 57.99px 63.26px,#c5c5c5 63.26px 68.53px,#b9b9b9 68.53px 73.8px),linear-gradient(90deg,#dfdfdf 0px 5.27px,#e2e2e2 5.27px 10.54px,#f0f0f0 10.54px 15.81px,#e0e0e0 15.81px 21.09px,#dedede 21.09px 26.36px,#eeeeee 26.36px 31.63px,#e5e5e5 31.63px 36.9px,#ebebeb 36.9px 42.17px,#f2f2f2 42.17px 47.44px,#e9e9e9 47.44px 52.71px,#eaeaea 52.71px 57.99px,#e1e1e1 57.99px 63.26px,#e4e4e4 63.26px 68.53px,#f4f4f4 68.53px 73.8px);background-position:0 0px,0 5.3px,0 10.6px;background-size:100% 5.3px,100% 5.3px,100% 5.3px;background-repeat:no-repeat"></div>
<div style="left:1141px;top:301.05px;width:133.5px;height:15.9px;background:linear-gradient(90deg,#f1f1f1 0px 5.34px,#eaeaea 5.34px 10.68px,#e5e5e5 10.68px 16.02px,#e5e5e5 16.02px 21.36px,#ececec 21.36px 26.7px,#f2f2f2 26.7px 32.04px,#e5e5e5 32.04px 37.38px,#ececec 37.38px 42.72px,#f2f2f2 42.72px 48.06px,#f4f4f4 48.06px 53.4px,#e8e8e8 53.4px 58.74px,#ebebeb 58.74px 64.08px,#e8e8e8 64.08px 69.42px,#e9e9e9 69.42px 74.76px,#e5e5e5 74.76px 80.1px,#ececec 80.1px 85.44px,#e2e2e2 85.44px 90.78px,#ececec 90.78px 96.12px,#f4f4f4 96.12px 101.46px,#eaeaea 101.46px 106.8px,#e3e3e3 106.8px 112.14px,#ebebeb 112.14px 117.48px,#f4f4f4 117.48px 122.82px,#e2e2e2 122.82px 128.16px,#f1f1f1 128.16px 133.5px),linear-gradient(90deg,#e2e2e2 0px 5.34px,#e8e8e8 5.34px 10.68px,#e8e8e8 10.68px 16.02px,#dadada 16.02px 21.36px,#c0c0c0 21.36px 26.7px,#c8c8c8 26.7px 32.04px,#bebebe 32.04px 37.38px,#b4b4b4 37.38px 42.72px,#e0e0e0 42.72px 48.06px,#cfcfcf 48.06px 53.4px,#bbbbbb 53.4px 58.74px,#d4d4d4 58.74px 64.08px,#c2c2c2 64.08px 69.42px,#e1e1e1 69.42px 74.76px,#dcdcdc 74.76px 80.1px,#dadada 80.1px 85.44px,#c7c7c7 85.44px 90.78px,#dcdcdc 90.78px 96.12px,#c0c0c0 96.12px 101.46px,#e3e3e3 101.46px 106.8px,#d0d0d0 106.8px 112.14px,#dfdfdf 112.14px 117.48px,#c4c4c4 117.48px 122.82px,#b7b7b7 122.82px 128.16px,#cbcbcb 128.16px 133.5px),linear-gradient(90deg,#f3f3f3 0px 5.34px,#e7e7e7 5.34px 10.68px,#efefef 10.68px 16.02px,#eaeaea 16.02px 21.36px,#f0f0f0 21.36px 26.7px,#e6e6e6 26.7px 32.04px,#ededed 32.04px 37.38px,#dfdfdf 37.38px 42.72px,#eaeaea 42.72px 48.06px,#dddddd 48.06px 53.4px,#e1e1e1 53.4px 58.74px,#e9e9e9 58.74px 64.08px,#dedede 64.08px 69.42px,#f1f1f1 69.42px 74.76px,#f5f5f5 74.76px 80.1px,#e9e9e9 80.1px 85.44px,#f1f1f1 85.44px 90.78px,#ededed 90.78px 96.12px,#dedede 96.12px 101.46px,#e1e1e1 101.46px 106.8px,#e6e6e6 106.8px 112.14px,#e9e9e9 112.14px 117.48px,#e6e6e6 117.48px 122.82px,#e3e3e3 122.82px 128.16px,#ebebeb 128.16px 133.5px);background-position:0 0px,0 5.3px,0 10.6px;background-size:100% 5.3px,100% 5.3px,100% 5.3px;background-repeat:no-repeat"></div>
<span style="left:1370.4px;top:299px;font-size:12px;line-height:20px;color:#333;letter-spacing:-0.22px;">[av</span>
<div style="left:1383.6px;top:301.05px;width:94px;height:15.9px;background:linear-gradient(90deg,#ebebeb 0px 5.22px,#f4f4f4 5.22px 10.44px,#f2f2f2 10.44px 15.67px,#e9e9e9 15.67px 20.89px,#e7e7e7 20.89px 26.11px,#ededed 26.11px 31.33px,#e5e5e5 31.33px 36.56px,#e6e6e6 36.56px 41.78px,#e9e9e9 41.78px 47px,#f2f2f2 47px 52.22px,#e3e3e3 52.22px 57.44px,#eaeaea 57.44px 62.67px,#f3f3f3 62.67px 67.89px,#e2e2e2 67.89px 73.11px,#e7e7e7 73.11px 78.33px,#e6e6e6 78.33px 83.56px,#e5e5e5 83.56px 88.78px,#ededed 88.78px 94px),linear-gradient(90deg,#bababa 0px 5.22px,#d7d7d7 5.22px 10.44px,#dedede 10.44px 15.67px,#d1d1d1 15.67px 20.89px,#c0c0c0 20.89px 26.11px,#e5e5e5 26.11px 31.33px,#bbbbbb 31.33px 36.56px,#dddddd 36.56px 41.78px,#cecece 41.78px 47px,#d1d1d1 47px 52.22px,#e9e9e9 52.22px 57.44px,#c6c6c6 57.44px 62.67px,#c9c9c9 62.67px 67.89px,#dbdbdb 67.89px 73.11px,#e6e6e6 73.11px 78.33px,#b6b6b6 78.33px 83.56px,#e6e6e6 83.56px 88.78px,#d7d7d7 88.78px 94px),linear-gradient(90deg,#ebebeb 0px 5.22px,#e9e9e9 5.22px 10.44px,#e4e4e4 10.44px 15.67px,#ededed 15.67px 20.89px,#ededed 20.89px 26.11px,#efefef 26.11px 31.33px,#f4f4f4 31.33px 36.56px,#e0e0e0 36.56px 41.78px,#ececec 41.78px 47px,#f4f4f4 47px 52.22px,#eeeeee 52.22px 57.44px,#efefef 57.44px 62.67px,#f3f3f3 62.67px 67.89px,#f3f3f3 67.89px 73.11px,#efefef 73.11px 78.33px,#e3e3e3 78.33px 83.56px,#e5e5e5 83.56px 88.78px,#e9e9e9 88.78px 94px);background-position:0 0px,0 5.3px,0 10.6px;background-size:100% 5.3px,100% 5.3px,100% 5.3px;background-repeat:no-repeat"></div>
<div style="left:0px;top:326.8px;width:1600px;height:36.4px;background:#fff"></div>
<div style="left:0px;top:362.2px;width:1600px;height:1px;background:#f0f0f0"></div>
<div style="left:226.5px;top:326.8px;width:1px;height:36.4px;background:#f3f3f3"></div>
<div style="left:454px;top:326.8px;width:1px;height:36.4px;background:#f3f3f3"></div>
<div style="left:681.5px;top:326.8px;width:1px;height:36.4px;background:#f3f3f3"></div>
<div style="left:909px;top:326.8px;width:1px;height:36.4px;background:#f3f3f3"></div>
<div style="left:1136.5px;top:326.8px;width:1px;height:36.4px;background:#f3f3f3"></div>
<div style="left:1364px;top:326.8px;width:1px;height:36.4px;background:#f3f3f3"></div>
<span style="left:5.4px;top:335.4px;font-size:12px;line-height:20px;color:#333;letter-spacing:-0.22px;">2022-04-18 12:02:16</span>
<span style="left:232.9px;top:335.4px;font-size:12px;line-height:20px;color:#333;letter-spacing:-0.22px;">CreateNetworkAclEntry</span>
<span style="left:460.4px;top:335.4px;font-size:12px;line-height:20px;color:#333;letter-spacing:-0.22px;">us-east-2</span>
<span style="left:687.9px;top:335.4px;font-size:12px;line-height:20px;color:#333;letter-spacing:-0.22px;">null</span>
<span style="left:915.4px;top:335.4px;font-size:12px;line-height:20px;color:#333;letter-spacing:-0.22px;">1</span>
<div style="left:920px;top:337.45px;width:73.8px;height:15.9px;background:linear-gradient(90deg,#f1f1f1 0px 5.27px,#f1f1f1 5.27px 10.54px,#ececec 10.54px 15.81px,#e9e9e9 15.81px 21.09px,#f2f2f2 21.09px 26.36px,#e2e2e2 26.36px 31.63px,#f3f3f3 31.63px 36.9px,#f3f3f3 36.9px 42.17px,#f1f1f1 42.17px 47.44px,#e7e7e7 47.44px 52.71px,#ededed 52.71px 57.99px,#f3f3f3 57.99px 63.26px,#efefef 63.26px 68.53px,#f0f0f0 68.53px 73.8px),linear-gradient(90deg,#d3d3d3 0px 5.27px,#e9e9e9 5.27px 10.54px,#c9c9c9 10.54px 15.81px,#bebebe 15.81px 21.09px,#e8e8e8 21.09px 26.36px,#c6c6c6 26.36px 31.63px,#dfdfdf 31.63px 36.9px,#d3d3d3 36.9px 42.17px,#c2c2c2 42.17px 47.44px,#e1e1e1 47.44px 52.71px,#d8d8d8 52.71px 57.99px,#d9d9d9 57.99px 63.26px,#cacaca 63.26px 68.53px,#e7e7e7 68.53px 73.8px),linear-gradient(90deg,#dddddd 0px 5.27px,#e4e4e4 5.27px 10.54px,#ededed 10.54px 15.81px,#e7e7e7 15.81px 21.09px,#dddddd 21.09px 26.36px,#dcdcdc 26.36px 31.63px,#dddddd 31.63px 36.9px,#f5f5f5 36.9px 42.17px,#f5f5f5 42.17px 47.44px,#f3f3f3 47.44px 52.71px,#dedede 52.71px 57.99px,#ebebeb 57.99px 63.26px,#ededed 63.26px 68.53px,#f1f1f1 68.53px 73.8px);background-position:0 0px,0 5.3px,0 10.6px;background-size:100% 5.3px,100% 5.3px,100% 5.3px;background-repeat:no-repeat"></div>
<div style="left:1141px;top:337.45px;width:133.5px;height:15.9px;background:linear-gradient(90deg,#e3e3e3 0px 5.34px,#f2f2f2 5.34px 10.68px,#e3e3e3 10.68px 16.02px,#f3f3f3 16.02px 21.36px,#f4f4f4 21.36px 26.7px,#f1f1f1 26.7px 32.04px,#f1f1f1 32.04px 37.38px,#f2f2f2 37.38px 42.72px,#eeeeee 42.72px 48.06px,#f3f3f3 48.06px 53.4px,#ececec 53.4px 58.74px,#efefef 58.74px 64.08px,#eeeeee 64.08px 69.42px,#f1f1f1 69.42px 74.76px,#ebebeb 74.76px 80.1px,#ebebeb 80.1px 85.44px,#f1f1f1 85.44px 90.78px,#e8e8e8 90.78px 96.12px,#e4e4e4 96.12px 101.46px,#f0f0f0 101.46px 106.8px,#eeeeee 106.8px 112.14px,#ededed 112.14px 117.48px,#f5f5f5 117.48px 122.82px,#f4f4f4 122.82px 128.16px,#eaeaea 128.16px 133.5px),linear-gradient(90deg,#b6b6b6 0px 5.34px,#bababa 5.34px 10.68px,#d1d1d1 10.68px 16.02px,#b4b4b4 16.02px 21.36px,#b6b6b6 21.36px 26.7px,#e2e2e2 26.7px 32.04px,#c2c2c2 32.04px 37.38px,#dedede 37.38px 42.72px,#d1d1d1 42.72px 48.06px,#e7e7e7 48.06px 53.4px,#cccccc 53.4px 58.74px,#d2d2d2 58.74px 64.08px,#d3d3d3 64.08px 69.42px,#eaeaea 69.42px 74.76px,#d5d5d5 74.76px 80.1px,#d5d5d5 80.1px 85.44px,#c7c7c7 85.44px 90.78px,#b7b7b7 90.78px 96.12px,#e2e2e2 96.12px 101.46px,#e5e5e5 101.46px 106.8px,#d7d7d7 106.8px 112.14px,#d3d3d3 112.14px 117.48px,#e9e9e9 117.48px 122.82px,#e2e2e2 122.82px 128.16px,#bbbbbb 128.16px 133.5px),linear-gradient(90deg,#e9e9e9 0px 5.34px,#f3f3f3 5.34px 10.68px,#e3e3e3 10.68px 16.02px,#dedede 16.02px 21.36px,#efefef 21.36px 26.7px,#f5f5f5 26.7px 32.04px,#e3e3e3 32.04px 37.38px,#f0f0f0 37.38px 42.72px,#e9e9e9 42.72px 48.06px,#ededed 48.06px 53.4px,#eeeeee 53.4px 58.74px,#e2e2e2 58.74px 64.08px,#e8e8e8 64.08px 69.42px,#e1e1e1 69.42px 74.76px,#e4e4e4 74.76px 80.1px,#dddddd 80.1px 85.44px,#efefef 85.44px 90.78px,#e5e5e5 90.78px 96.12px,#efefef 96.12px 101.46px,#dedede 101.46px 106.8px,#e3e3e3 106.8px 112.14px,#ececec 112.14px 117.48px,#e7e7e7 117.48px 122.82px,#e6e6e6 122.82px 128.16px,#f4f4f4 128.16px 133.5px);background-position:0 0px,0 5.3px,0 10.6px;background-size:100% 5.3px,100% 5.3px,100% 5.3px;background-repeat:no-repeat"></div>
<span style="left:1370.4px;top:335.4px;font-size:12px;line-height:20px;color:#333;letter-spacing:-0.22px;">[av</span>
<div style="left:1383.6px;top:337.45px;width:94px;height:15.9px;background:linear-gradient(90deg,#eaeaea 0px 5.22px,#e6e6e6 5.22px 10.44px,#eaeaea 10.44px 15.67px,#e4e4e4 15.67px 20.89px,#e6e6e6 20.89px 26.11px,#f5f5f5 26.11px 31.33px,#e2e2e2 31.33px 36.56px,#ebebeb 36.56px 41.78px,#f1f1f1 41.78px 47px,#f4f4f4 47px 52.22px,#f5f5f5 52.22px 57.44px,#e2e2e2 57.44px 62.67px,#e4e4e4 62.67px 67.89px,#f3f3f3 67.89px 73.11px,#f4f4f4 73.11px 78.33px,#e7e7e7 78.33px 83.56px,#ededed 83.56px 88.78px,#e9e9e9 88.78px 94px),linear-gradient(90deg,#b6b6b6 0px 5.22px,#d9d9d9 5.22px 10.44px,#c4c4c4 10.44px 15.67px,#c4c4c4 15.67px 20.89px,#d8d8d8 20.89px 26.11px,#e0e0e0 26.11px 31.33px,#b8b8b8 31.33px 36.56px,#b7b7b7 36.56px 41.78px,#cecece 41.78px 47px,#d0d0d0 47px 52.22px,#cacaca 52.22px 57.44px,#b8b8b8 57.44px 62.67px,#cecece 62.67px 67.89px,#d1d1d1 67.89px 73.11px,#d7d7d7 73.11px 78.33px,#c3c3c3 78.33px 83.56px,#c3c3c3 83.56px 88.78px,#d1d1d1 88.78px 94px),linear-gradient(90deg,#f3f3f3 0px 5.22px,#dfdfdf 5.22px 10.44px,#e0e0e0 10.44px 15.67px,#eeeeee 15.67px 20.89px,#e0e0e0 20.89px 26.11px,#f0f0f0 26.11px 31.33px,#f5f5f5 31.33px 36.56px,#f1f1f1 36.56px 41.78px,#e0e0e0 41.78px 47px,#e1e1e1 47px 52.22px,#f0f0f0 52.22px 57.44px,#e7e7e7 57.44px 62.67px,#dddddd 62.67px 67.89px,#e9e9e9 67.89px 73.11px,#eaeaea 73.11px 78.33px,#dddddd 78.33px 83.56px,#dddddd 83.56px 88.78px,#efefef 88.78px 94px);background-position:0 0px,0 5.3px,0 10.6px;background-size:100% 5.3px,100% 5.3px,100% 5.3px;background-repeat:no-repeat"></div>
<div style="left:0px;top:363.2px;width:1600px;height:36.4px;background:#f6f6f6"></div>
<div style="left:0px;top:398.6px;width:1600px;height:1px;background:#f0f0f0"></div>
<div style="left:226.5px;top:363.2px;width:1px;height:36.4px;background:#f0f0f0"></div>
<div style="left:454px;top:363.2px;width:1px;height:36.4px;background:#f0f0f0"></div>
<div style="left:681.5px;top:363.2px;width:1px;height:36.4px;background:#f0f0f0"></div>
<div style="left:909px;top:363.2px;width:1px;height:36.4px;background:#f0f0f0"></div>
<div style="left:1136.5px;top:363.2px;width:1px;height:36.4px;background:#f0f0f0"></div>
<div style="left:1364px;top:363.2px;width:1px;height:36.4px;background:#f0f0f0"></div>
<span style="left:5.4px;top:371.8px;font-size:12px;line-height:20px;color:#333;letter-spacing:-0.22px;">2022-04-18 12:02:06</span>
<span style="left:232.9px;top:371.8px;font-size:12px;line-height:20px;color:#333;letter-spacing:-0.22px;">CreateNetworkAcl</span>
<span style="left:460.4px;top:371.8px;font-size:12px;line-height:20px;color:#333;letter-spacing:-0.22px;">us-east-1</span>
<span style="left:687.9px;top:371.8px;font-size:12px;line-height:20px;color:#333;letter-spacing:-0.22px;">null</span>
<span style="left:915.4px;top:371.8px;font-size:12px;line-height:20px;color:#333;letter-spacing:-0.22px;">1</span>
<div style="left:920px;top:373.85px;width:73.8px;height:15.9px;background:linear-gradient(90deg,#e9e9e9 0px 5.27px,#f4f4f4 5.27px 10.54px,#f3f3f3 10.54px 15.81px,#eaeaea 15.81px 21.09px,#e2e2e2 21.09px 26.36px,#f3f3f3 26.36px 31.63px,#efefef 31.63px 36.9px,#ebebeb 36.9px 42.17px,#f2f2f2 42.17px 47.44px,#f4f4f4 47.44px 52.71px,#e9e9e9 52.71px 57.99px,#f0f0f0 57.99px 63.26px,#e7e7e7 63.26px 68.53px,#f3f3f3 68.53px 73.8px),linear-gradient(90deg,#c4c4c4 0px 5.27px,#c5c5c5 5.27px 10.54px,#b6b6b6 10.54px 15.81px,#e9e9e9 15.81px 21.09px,#d5d5d5 21.09px 26.36px,#c9c9c9 26.36px 31.63px,#c1c1c1 31.63px 36.9px,#dbdbdb 36.9px 42.17px,#d9d9d9 42.17px 47.44px,#b8b8b8 47.44px 52.71px,#bfbfbf 52.71px 57.99px,#cdcdcd 57.99px 63.26px,#e2e2e2 63.26px 68.53px,#bebebe 68.53px 73.8px),linear-gradient(90deg,#e7e7e7 0px 5.27px,#f5f5f5 5.27px 10.54px,#f4f4f4 10.54px 15.81px,#f5f5f5 15.81px 21.09px,#e5e5e5 21.09px 26.36px,#f1f1f1 26.36px 31.63px,#dedede 31.63px 36.9px,#f3f3f3 36.9px 42.17px,#e3e3e3 42.17px 47.44px,#ebebeb 47.44px 52.71px,#f4f4f4 52.71px 57.99px,#ededed 57.99px 63.26px,#e2e2e2 63.26px 68.53px,#e4e4e4 68.53px 73.8px);background-position:0 0px,0 5.3px,0 10.6px;background-size:100% 5.3px,100% 5.3px,100% 5.3px;background-repeat:no-repeat"></div>
<div style="left:1141px;top:373.85px;width:133.5px;height:15.9px;background:linear-gradient(90deg,#ebebeb 0px 5.34px,#ededed 5.34px 10.68px,#eeeeee 10.68px 16.02px,#f3f3f3 16.02px 21.36px,#e7e7e7 21.36px 26.7px,#e7e7e7 26.7px 32.04px,#e8e8e8 32.04px 37.38px,#eaeaea 37.38px 42.72px,#e7e7e7 42.72px 48.06px,#efefef 48.06px 53.4px,#e5e5e5 53.4px 58.74px,#ebebeb 58.74px 64.08px,#e6e6e6 64.08px 69.42px,#eeeeee 69.42px 74.76px,#f1f1f1 74.76px 80.1px,#e5e5e5 80.1px 85.44px,#e4e4e4 85.44px 90.78px,#e8e8e8 90.78px 96.12px,#f5f5f5 96.12px 101.46px,#ececec 101.46px 106.8px,#ebebeb 106.8px 112.14px,#e4e4e4 112.14px 117.48px,#ededed 117.48px 122.82px,#ebebeb 122.82px 128.16px,#f0f0f0 128.16px 133.5px),linear-gradient(90deg,#dddddd 0px 5.34px,#e1e1e1 5.34px 10.68px,#b5b5b5 10.68px 16.02px,#e4e4e4 16.02px 21.36px,#e5e5e5 21.36px 26.7px,#bcbcbc 26.7px 32.04px,#c7c7c7 32.04px 37.38px,#c5c5c5 37.38px 42.72px,#d7d7d7 42.72px 48.06px,#b4b4b4 48.06px 53.4px,#cbcbcb 53.4px 58.74px,#b8b8b8 58.74px 64.08px,#d9d9d9 64.08px 69.42px,#d9d9d9 69.42px 74.76px,#e3e3e3 74.76px 80.1px,#c8c8c8 80.1px 85.44px,#c4c4c4 85.44px 90.78px,#eaeaea 90.78px 96.12px,#b6b6b6 96.12px 101.46px,#d8d8d8 101.46px 106.8px,#d5d5d5 106.8px 112.14px,#d3d3d3 112.14px 117.48px,#d9d9d9 117.48px 122.82px,#b9b9b9 122.82px 128.16px,#c2c2c2 128.16px 133.5px),linear-gradient(90deg,#efefef 0px 5.34px,#e5e5e5 5.34px 10.68px,#e9e9e9 10.68px 16.02px,#e4e4e4 16.02px 21.36px,#dcdcdc 21.36px 26.7px,#f4f4f4 26.7px 32.04px,#eeeeee 32.04px 37.38px,#e9e9e9 37.38px 42.72px,#e7e7e7 42.72px 48.06px,#ececec 48.06px 53.4px,#f5f5f5 53.4px 58.74px,#eaeaea 58.74px 64.08px,#f3f3f3 64.08px 69.42px,#f4f4f4 69.42px 74.76px,#e6e6e6 74.76px 80.1px,#f3f3f3 80.1px 85.44px,#e7e7e7 85.44px 90.78px,#f4f4f4 90.78px 96.12px,#efefef 96.12px 101.46px,#ededed 101.46px 106.8px,#f4f4f4 106.8px 112.14px,#e9e9e9 112.14px 117.48px,#dfdfdf 117.48px 122.82px,#dfdfdf 122.82px 128.16px,#e5e5e5 128.16px 133.5px);background-position:0 0px,0 5.3px,0 10.6px;background-size:100% 5.3px,100% 5.3px,100% 5.3px;background-repeat:no-repeat"></div>
<span style="left:1370.4px;top:371.8px;font-size:12px;line-height:20px;color:#333;letter-spacing:-0.22px;">[av</span>
<div style="left:1383.6px;top:373.85px;width:94px;height:15.9px;background:linear-gradient(90deg,#eeeeee 0px 5.22px,#f1f1f1 5.22px 10.44px,#eeeeee 10.44px 15.67px,#f4f4f4 15.67px 20.89px,#ebebeb 20.89px 26.11px,#e6e6e6 26.11px 31.33px,#f0f0f0 31.33px 36.56px,#f3f3f3 36.56px 41.78px,#e5e5e5 41.78px 47px,#f3f3f3 47px 52.22px,#f2f2f2 52.22px 57.44px,#eeeeee 57.44px 62.67px,#e9e9e9 62.67px 67.89px,#e9e9e9 67.89px 73.11px,#efefef 73.11px 78.33px,#efefef 78.33px 83.56px,#f1f1f1 83.56px 88.78px,#efefef 88.78px 94px),linear-gradient(90deg,#cecece 0px 5.22px,#b5b5b5 5.22px 10.44px,#cdcdcd 10.44px 15.67px,#b7b7b7 15.67px 20.89px,#eaeaea 20.89px 26.11px,#d7d7d7 26.11px 31.33px,#c1c1c1 31.33px 36.56px,#dddddd 36.56px 41.78px,#d9d9d9 41.78px 47px,#dadada 47px 52.22px,#dcdcdc 52.22px 57.44px,#c9c9c9 57.44px 62.67px,#e3e3e3 62.67px 67.89px,#d4d4d4 67.89px 73.11px,#b8b8b8 73.11px 78.33px,#bebebe 78.33px 83.56px,#d5d5d5 83.56px 88.78px,#cccccc 88.78px 94px),linear-gradient(90deg,#dcdcdc 0px 5.22px,#e8e8e8 5.22px 10.44px,#e7e7e7 10.44px 15.67px,#ebebeb 15.67px 20.89px,#e8e8e8 20.89px 26.11px,#eaeaea 26.11px 31.33px,#f1f1f1 31.33px 36.56px,#eaeaea 36.56px 41.78px,#f4f4f4 41.78px 47px,#ebebeb 47px 52.22px,#e4e4e4 52.22px 57.44px,#f2f2f2 57.44px 62.67px,#f3f3f3 62.67px 67.89px,#dedede 67.89px 73.11px,#e4e4e4 73.11px 78.33px,#dcdcdc 78.33px 83.56px,#e9e9e9 83.56px 88.78px,#ececec 88.78px 94px);background-position:0 0px,0 5.3px,0 10.6px;background-size:100% 5.3px,100% 5.3px,100% 5.3px;background-repeat:no-repeat"></div>
<div style="left:0px;top:399.6px;width:1600px;height:36.4px;background:#fff"></div>
<div style="left:0px;top:435px;width:1600px;height:1px;background:#f0f0f0"></div>
<div style="left:226.5px;top:399.6px;width:1px;height:36.4px;background:#f3f3f3"></div>
<div style="left:454px;top:399.6px;width:1px;height:36.4px;background:#f3f3f3"></div>
<div style="left:681.5px;top:399.6px;width:1px;height:36.4px;background:#f3f3f3"></div>
<div style="left:909px;top:399.6px;width:1px;height:36.4px;background:#f3f3f3"></div>
<div style="left:1136.5px;top:399.6px;width:1px;height:36.4px;background:#f3f3f3"></div>
<div style="left:1364px;top:399.6px;width:1px;height:36.4px;background:#f3f3f3"></div>
</div>
<div style="left:1581px;top:1418.4px;width:25px;height:405.4px;background:#f1f1f1"></div>
<svg style="left:1588px;top:1428.9px" width="11" height="6"><polygon points="5.5,0 11,6 0,6" fill="#a3a3a3"/></svg>
<div style="left:1583px;top:1443.1px;width:21px;height:198.9px;background:#c1c1c1"></div>
<svg style="left:1588px;top:1807.3px" width="11" height="6"><polygon points="0,0 11,0 5.5,6" fill="#505050"/></svg>
<div style="left:7px;top:1823.8px;width:1574px;height:24.7px;background:#f1f1f1"></div>
<svg style="left:15.8px;top:1830.65px" width="6" height="11"><polygon points="6,0 6,11 0,5.5" fill="#a3a3a3"/></svg>
<div style="left:32px;top:1825.8px;width:1505.9px;height:20.7px;background:#c1c1c1"></div>
<svg style="left:1565.5px;top:1830.65px" width="6" height="11"><polygon points="0,0 6,5.5 0,11" fill="#505050"/></svg>
<div style="left:1581px;top:1823.8px;width:25px;height:24.7px;background:#dcdcdc"></div>
<span style="left:1388.4px;top:1859.9px;font-size:11.5px;line-height:20px;color:#333;">Total:1000</span>
<span style="left:1461.2px;top:1858.9px;font-size:10.5px;line-height:20px;color:#bdbdbd;">&lt;</span>
<div style="left:1488.7px;top:1855.1px;width:49.5px;height:25.3px;border:1px solid #d9d9d9;border-radius:3px;background:#fff;box-sizing:border-box"></div>
<span style="left:1503.5px;top:1858.9px;font-size:12px;line-height:20px;color:#333;">1</span>
<span style="left:1541.7px;top:1858.9px;font-size:12px;line-height:20px;color:#333;">/ 50</span>
<span style="left:1584.5px;top:1858.9px;font-size:10.5px;line-height:20px;color:#1890ff;">&gt;</span>
</body></html>
